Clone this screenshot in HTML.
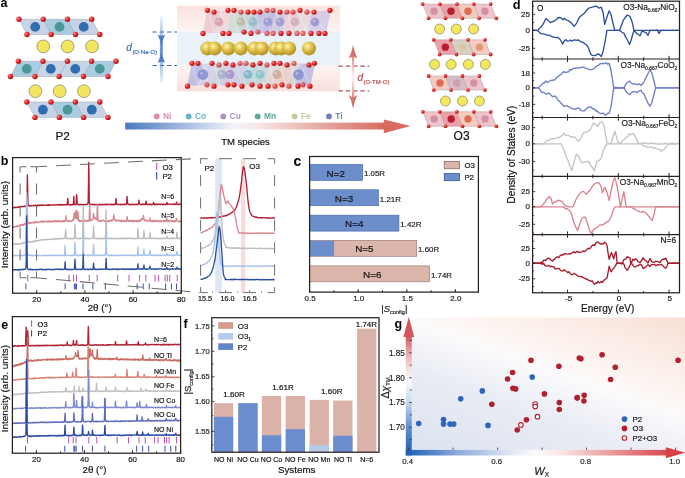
<!DOCTYPE html>
<html><head><meta charset="utf-8"><style>
html,body{margin:0;padding:0;background:#fff;width:685px;height:478px;overflow:hidden}
svg{display:block;will-change:transform}
text{font-family:"Liberation Sans", sans-serif}
</style></head><body>
<svg width="685" height="478" viewBox="0 0 685 478" font-family='"Liberation Sans", sans-serif'>
<defs>
<radialGradient id="gNa" cx="0.38" cy="0.35" r="0.7"><stop offset="0" stop-color="#fff6b0"/><stop offset="0.45" stop-color="#e0c048"/><stop offset="1" stop-color="#a88a20"/></radialGradient>
<radialGradient id="gO" cx="0.35" cy="0.35" r="0.7"><stop offset="0" stop-color="#ff8a8a"/><stop offset="0.5" stop-color="#e02828"/><stop offset="1" stop-color="#a81010"/></radialGradient>
<linearGradient id="gTMarrow" x1="0" y1="0" x2="1" y2="0"><stop offset="0" stop-color="#4a78c0"/><stop offset="0.42" stop-color="#f4f4fa"/><stop offset="0.52" stop-color="#f6e6e4"/><stop offset="1" stop-color="#d86a60"/></linearGradient>
<linearGradient id="gBoxPink" x1="0" y1="0" x2="0" y2="1"><stop offset="0" stop-color="#f9e2dd"/><stop offset="1" stop-color="#fdf4f2"/></linearGradient>
<linearGradient id="gBoxPink2" x1="0" y1="0" x2="0" y2="1"><stop offset="0" stop-color="#fdf4f2"/><stop offset="1" stop-color="#f9e0dc"/></linearGradient>
<linearGradient id="gBlueArrow" x1="0" y1="0" x2="0" y2="1"><stop offset="0" stop-color="#5a8ad0" stop-opacity="0.1"/><stop offset="0.5" stop-color="#5a8ad0" stop-opacity="0.9"/><stop offset="1" stop-color="#5a8ad0" stop-opacity="0.1"/></linearGradient>
<linearGradient id="gRedArrow" x1="0" y1="0" x2="0" y2="1"><stop offset="0" stop-color="#d67268"/><stop offset="0.45" stop-color="#fbeeec"/><stop offset="0.55" stop-color="#fbeeec"/><stop offset="1" stop-color="#d67268"/></linearGradient>
<linearGradient id="gGbg" gradientUnits="userSpaceOnUse" x1="506.8" y1="483.7" x2="579.3" y2="279.9"><stop offset="0" stop-color="#dce3f0"/><stop offset="0.35" stop-color="#e9ecf4"/><stop offset="0.56" stop-color="#fbfbfc"/><stop offset="0.6" stop-color="#fdf8f6"/><stop offset="1" stop-color="#f8e0d5"/></linearGradient>
<linearGradient id="gGx" x1="0" y1="0" x2="1" y2="0"><stop offset="0" stop-color="#1a5fb0"/><stop offset="0.2" stop-color="#8eaadc"/><stop offset="0.4" stop-color="#dfe6f4"/><stop offset="0.5" stop-color="#fbfbfc"/><stop offset="0.6" stop-color="#f8e4e0"/><stop offset="1" stop-color="#d84850"/></linearGradient>
<linearGradient id="gGy" x1="0" y1="1" x2="0" y2="0"><stop offset="0" stop-color="#1a5cb0"/><stop offset="0.24" stop-color="#6290d2"/><stop offset="0.45" stop-color="#c8d8f0"/><stop offset="0.62" stop-color="#fafbfd"/><stop offset="0.7" stop-color="#f8e8e8"/><stop offset="0.88" stop-color="#e8a0a0"/><stop offset="1" stop-color="#d85058"/></linearGradient>
</defs>
<rect width="685" height="478" fill="#fff"/>
<text x="0.60" y="6.80" font-size="12.5" text-anchor="start" font-weight="bold" fill="#000" >a</text>
<polygon points="19.00,19.30 43.30,19.30 51.20,34.50 27.00,34.50" fill="#c9d3e6" stroke="#9aa6b8" stroke-width="0.5" />
<polygon points="43.30,19.30 67.50,19.30 75.50,34.50 51.20,34.50" fill="#a9cce0" stroke="#9aa6b8" stroke-width="0.5" />
<polygon points="67.50,19.30 91.70,19.30 99.80,34.50 75.50,34.50" fill="#c9d3e6" stroke="#9aa6b8" stroke-width="0.5" />
<circle cx="35.20" cy="26.90" r="4.90" fill="#2f6fb0" stroke="none" stroke-width="0.5" />
<circle cx="59.50" cy="26.90" r="4.90" fill="#4a9898" stroke="none" stroke-width="0.5" />
<circle cx="83.70" cy="26.90" r="4.90" fill="#2f6fb0" stroke="none" stroke-width="0.5" />
<circle cx="19.00" cy="19.30" r="2.70" fill="url(#gO)" stroke="none" stroke-width="0.5" />
<circle cx="43.30" cy="19.30" r="2.70" fill="url(#gO)" stroke="none" stroke-width="0.5" />
<circle cx="67.50" cy="19.30" r="2.70" fill="url(#gO)" stroke="none" stroke-width="0.5" />
<circle cx="91.70" cy="19.30" r="2.70" fill="url(#gO)" stroke="none" stroke-width="0.5" />
<circle cx="27.00" cy="34.50" r="2.70" fill="url(#gO)" stroke="none" stroke-width="0.5" />
<circle cx="51.20" cy="34.50" r="2.70" fill="url(#gO)" stroke="none" stroke-width="0.5" />
<circle cx="75.50" cy="34.50" r="2.70" fill="url(#gO)" stroke="none" stroke-width="0.5" />
<circle cx="99.80" cy="34.50" r="2.70" fill="url(#gO)" stroke="none" stroke-width="0.5" />
<circle cx="43.30" cy="46.40" r="6.40" fill="#f2e660" stroke="#707060" stroke-width="0.6" />
<circle cx="67.60" cy="46.40" r="6.40" fill="#f2e660" stroke="#707060" stroke-width="0.6" />
<circle cx="92.00" cy="46.40" r="6.40" fill="#f2e660" stroke="#707060" stroke-width="0.6" />
<polygon points="18.40,61.30 43.00,61.30 35.00,76.50 10.50,76.50" fill="#a9cce0" stroke="#9aa6b8" stroke-width="0.5" />
<polygon points="43.00,61.30 67.40,61.30 59.20,76.50 35.00,76.50" fill="#c9d3e6" stroke="#9aa6b8" stroke-width="0.5" />
<polygon points="67.40,61.30 91.60,61.30 83.50,76.50 59.20,76.50" fill="#c9d3e6" stroke="#9aa6b8" stroke-width="0.5" />
<polygon points="91.60,61.30 116.00,61.30 108.00,76.50 83.50,76.50" fill="#a9cce0" stroke="#9aa6b8" stroke-width="0.5" />
<circle cx="26.80" cy="68.90" r="4.90" fill="#4a9898" stroke="none" stroke-width="0.5" />
<circle cx="50.80" cy="68.90" r="4.90" fill="#2f6fb0" stroke="none" stroke-width="0.5" />
<circle cx="75.30" cy="68.90" r="4.90" fill="#2f6fb0" stroke="none" stroke-width="0.5" />
<circle cx="99.80" cy="68.90" r="4.90" fill="#4a9898" stroke="none" stroke-width="0.5" />
<circle cx="18.40" cy="61.30" r="2.70" fill="url(#gO)" stroke="none" stroke-width="0.5" />
<circle cx="43.00" cy="61.30" r="2.70" fill="url(#gO)" stroke="none" stroke-width="0.5" />
<circle cx="67.40" cy="61.30" r="2.70" fill="url(#gO)" stroke="none" stroke-width="0.5" />
<circle cx="91.60" cy="61.30" r="2.70" fill="url(#gO)" stroke="none" stroke-width="0.5" />
<circle cx="116.00" cy="61.30" r="2.70" fill="url(#gO)" stroke="none" stroke-width="0.5" />
<circle cx="10.50" cy="76.50" r="2.70" fill="url(#gO)" stroke="none" stroke-width="0.5" />
<circle cx="35.00" cy="76.50" r="2.70" fill="url(#gO)" stroke="none" stroke-width="0.5" />
<circle cx="59.20" cy="76.50" r="2.70" fill="url(#gO)" stroke="none" stroke-width="0.5" />
<circle cx="83.50" cy="76.50" r="2.70" fill="url(#gO)" stroke="none" stroke-width="0.5" />
<circle cx="108.00" cy="76.50" r="2.70" fill="url(#gO)" stroke="none" stroke-width="0.5" />
<circle cx="35.40" cy="91.20" r="6.40" fill="#f2e660" stroke="#707060" stroke-width="0.6" />
<circle cx="59.70" cy="91.20" r="6.40" fill="#f2e660" stroke="#707060" stroke-width="0.6" />
<circle cx="83.90" cy="91.20" r="6.40" fill="#f2e660" stroke="#707060" stroke-width="0.6" />
<polygon points="26.80,102.00 51.00,102.00 59.40,117.40 35.00,117.40" fill="#c9d3e6" stroke="#9aa6b8" stroke-width="0.5" />
<polygon points="51.00,102.00 75.40,102.00 83.60,117.40 59.40,117.40" fill="#a9cce0" stroke="#9aa6b8" stroke-width="0.5" />
<polygon points="75.40,102.00 99.80,102.00 108.00,117.40 83.60,117.40" fill="#c9d3e6" stroke="#9aa6b8" stroke-width="0.5" />
<circle cx="42.90" cy="109.70" r="4.90" fill="#2f6fb0" stroke="none" stroke-width="0.5" />
<circle cx="67.60" cy="109.70" r="4.90" fill="#4a9898" stroke="none" stroke-width="0.5" />
<circle cx="91.80" cy="109.70" r="4.90" fill="#2f6fb0" stroke="none" stroke-width="0.5" />
<circle cx="26.80" cy="102.00" r="2.70" fill="url(#gO)" stroke="none" stroke-width="0.5" />
<circle cx="51.00" cy="102.00" r="2.70" fill="url(#gO)" stroke="none" stroke-width="0.5" />
<circle cx="75.40" cy="102.00" r="2.70" fill="url(#gO)" stroke="none" stroke-width="0.5" />
<circle cx="99.80" cy="102.00" r="2.70" fill="url(#gO)" stroke="none" stroke-width="0.5" />
<circle cx="35.00" cy="117.40" r="2.70" fill="url(#gO)" stroke="none" stroke-width="0.5" />
<circle cx="59.40" cy="117.40" r="2.70" fill="url(#gO)" stroke="none" stroke-width="0.5" />
<circle cx="83.60" cy="117.40" r="2.70" fill="url(#gO)" stroke="none" stroke-width="0.5" />
<circle cx="108.00" cy="117.40" r="2.70" fill="url(#gO)" stroke="none" stroke-width="0.5" />
<text x="62.60" y="140.10" font-size="11.8" text-anchor="middle" fill="#111" stroke="#111" stroke-width="0.18" >P2</text>
<polygon points="422.60,4.10 439.90,4.10 445.40,18.30 428.50,18.30" fill="#efc4ca" stroke="#a8a0a8" stroke-width="0.5" />
<polygon points="439.90,4.10 457.00,4.10 462.40,18.30 445.40,18.30" fill="#eba0a6" stroke="#a8a0a8" stroke-width="0.5" />
<polygon points="457.00,4.10 473.90,4.10 479.20,18.30 462.40,18.30" fill="#f5cbbf" stroke="#a8a0a8" stroke-width="0.5" />
<polygon points="473.90,4.10 490.70,4.10 496.30,18.30 479.20,18.30" fill="#efc4ca" stroke="#a8a0a8" stroke-width="0.5" />
<circle cx="434.00" cy="11.20" r="3.70" fill="#d490a6" stroke="none" stroke-width="0.5" />
<circle cx="451.00" cy="11.20" r="3.70" fill="#b81e30" stroke="none" stroke-width="0.5" />
<circle cx="468.00" cy="11.20" r="3.70" fill="#e06a52" stroke="none" stroke-width="0.5" />
<circle cx="485.00" cy="11.20" r="3.70" fill="#d490a6" stroke="none" stroke-width="0.5" />
<circle cx="422.60" cy="4.10" r="1.90" fill="url(#gO)" stroke="none" stroke-width="0.5" />
<circle cx="439.90" cy="4.10" r="1.90" fill="url(#gO)" stroke="none" stroke-width="0.5" />
<circle cx="457.00" cy="4.10" r="1.90" fill="url(#gO)" stroke="none" stroke-width="0.5" />
<circle cx="473.90" cy="4.10" r="1.90" fill="url(#gO)" stroke="none" stroke-width="0.5" />
<circle cx="490.70" cy="4.10" r="1.90" fill="url(#gO)" stroke="none" stroke-width="0.5" />
<circle cx="428.50" cy="18.30" r="1.90" fill="url(#gO)" stroke="none" stroke-width="0.5" />
<circle cx="445.40" cy="18.30" r="1.90" fill="url(#gO)" stroke="none" stroke-width="0.5" />
<circle cx="462.40" cy="18.30" r="1.90" fill="url(#gO)" stroke="none" stroke-width="0.5" />
<circle cx="479.20" cy="18.30" r="1.90" fill="url(#gO)" stroke="none" stroke-width="0.5" />
<circle cx="496.30" cy="18.30" r="1.90" fill="url(#gO)" stroke="none" stroke-width="0.5" />
<circle cx="439.60" cy="29.00" r="5.00" fill="#f3e85c" stroke="#707060" stroke-width="0.6" />
<circle cx="456.30" cy="29.00" r="5.00" fill="#f3e85c" stroke="#707060" stroke-width="0.6" />
<circle cx="473.60" cy="29.00" r="5.00" fill="#f3e85c" stroke="#707060" stroke-width="0.6" />
<polygon points="433.70,39.80 450.80,39.80 456.50,54.50 439.60,54.50" fill="#eba0a6" stroke="#a8a0a8" stroke-width="0.5" />
<polygon points="450.80,39.80 468.00,39.80 473.70,54.50 456.50,54.50" fill="#d9d0c2" stroke="#a8a0a8" stroke-width="0.5" />
<polygon points="468.00,39.80 485.00,39.80 490.70,54.50 473.70,54.50" fill="#f5cbbf" stroke="#a8a0a8" stroke-width="0.5" />
<circle cx="445.30" cy="47.15" r="3.70" fill="#b81e30" stroke="none" stroke-width="0.5" />
<circle cx="462.40" cy="47.15" r="3.70" fill="#d8c8a2" stroke="none" stroke-width="0.5" />
<circle cx="479.40" cy="47.15" r="3.70" fill="#e29a7c" stroke="none" stroke-width="0.5" />
<circle cx="433.70" cy="39.80" r="1.90" fill="url(#gO)" stroke="none" stroke-width="0.5" />
<circle cx="450.80" cy="39.80" r="1.90" fill="url(#gO)" stroke="none" stroke-width="0.5" />
<circle cx="468.00" cy="39.80" r="1.90" fill="url(#gO)" stroke="none" stroke-width="0.5" />
<circle cx="485.00" cy="39.80" r="1.90" fill="url(#gO)" stroke="none" stroke-width="0.5" />
<circle cx="439.60" cy="54.50" r="1.90" fill="url(#gO)" stroke="none" stroke-width="0.5" />
<circle cx="456.50" cy="54.50" r="1.90" fill="url(#gO)" stroke="none" stroke-width="0.5" />
<circle cx="473.70" cy="54.50" r="1.90" fill="url(#gO)" stroke="none" stroke-width="0.5" />
<circle cx="490.70" cy="54.50" r="1.90" fill="url(#gO)" stroke="none" stroke-width="0.5" />
<circle cx="434.50" cy="64.40" r="5.00" fill="#f3e85c" stroke="#707060" stroke-width="0.6" />
<circle cx="451.20" cy="64.40" r="5.00" fill="#f3e85c" stroke="#707060" stroke-width="0.6" />
<circle cx="468.40" cy="64.40" r="5.00" fill="#f3e85c" stroke="#707060" stroke-width="0.6" />
<circle cx="485.30" cy="64.40" r="5.00" fill="#f3e85c" stroke="#707060" stroke-width="0.6" />
<polygon points="428.60,76.00 445.50,76.00 451.00,90.10 433.80,90.10" fill="#f5cbbf" stroke="#a8a0a8" stroke-width="0.5" />
<polygon points="445.50,76.00 462.50,76.00 468.00,90.10 451.00,90.10" fill="#d8bcc4" stroke="#a8a0a8" stroke-width="0.5" />
<polygon points="462.50,76.00 479.40,76.00 485.00,90.10 468.00,90.10" fill="#efc4ca" stroke="#a8a0a8" stroke-width="0.5" />
<circle cx="440.00" cy="83.05" r="3.70" fill="#e06a52" stroke="none" stroke-width="0.5" />
<circle cx="456.80" cy="83.05" r="3.70" fill="#c8a0b0" stroke="none" stroke-width="0.5" />
<circle cx="473.80" cy="83.05" r="3.70" fill="#d490a6" stroke="none" stroke-width="0.5" />
<circle cx="428.60" cy="76.00" r="1.90" fill="url(#gO)" stroke="none" stroke-width="0.5" />
<circle cx="445.50" cy="76.00" r="1.90" fill="url(#gO)" stroke="none" stroke-width="0.5" />
<circle cx="462.50" cy="76.00" r="1.90" fill="url(#gO)" stroke="none" stroke-width="0.5" />
<circle cx="479.40" cy="76.00" r="1.90" fill="url(#gO)" stroke="none" stroke-width="0.5" />
<circle cx="433.80" cy="90.10" r="1.90" fill="url(#gO)" stroke="none" stroke-width="0.5" />
<circle cx="451.00" cy="90.10" r="1.90" fill="url(#gO)" stroke="none" stroke-width="0.5" />
<circle cx="468.00" cy="90.10" r="1.90" fill="url(#gO)" stroke="none" stroke-width="0.5" />
<circle cx="485.00" cy="90.10" r="1.90" fill="url(#gO)" stroke="none" stroke-width="0.5" />
<circle cx="445.50" cy="101.00" r="5.00" fill="#f3e85c" stroke="#707060" stroke-width="0.6" />
<circle cx="462.50" cy="101.00" r="5.00" fill="#f3e85c" stroke="#707060" stroke-width="0.6" />
<circle cx="479.40" cy="101.00" r="5.00" fill="#f3e85c" stroke="#707060" stroke-width="0.6" />
<polygon points="422.90,111.80 439.90,111.80 445.50,126.30 428.60,126.30" fill="#efc4ca" stroke="#a8a0a8" stroke-width="0.5" />
<polygon points="439.90,111.80 456.80,111.80 462.50,126.30 445.50,126.30" fill="#eba0a6" stroke="#a8a0a8" stroke-width="0.5" />
<polygon points="456.80,111.80 473.80,111.80 479.40,126.30 462.50,126.30" fill="#f5cbbf" stroke="#a8a0a8" stroke-width="0.5" />
<polygon points="473.80,111.80 490.70,111.80 496.40,126.30 479.40,126.30" fill="#efc4ca" stroke="#a8a0a8" stroke-width="0.5" />
<circle cx="434.20" cy="119.05" r="3.70" fill="#d490a6" stroke="none" stroke-width="0.5" />
<circle cx="451.20" cy="119.05" r="3.70" fill="#b81e30" stroke="none" stroke-width="0.5" />
<circle cx="468.00" cy="119.05" r="3.70" fill="#e06a52" stroke="none" stroke-width="0.5" />
<circle cx="485.00" cy="119.05" r="3.70" fill="#d490a6" stroke="none" stroke-width="0.5" />
<circle cx="422.90" cy="111.80" r="1.90" fill="url(#gO)" stroke="none" stroke-width="0.5" />
<circle cx="439.90" cy="111.80" r="1.90" fill="url(#gO)" stroke="none" stroke-width="0.5" />
<circle cx="456.80" cy="111.80" r="1.90" fill="url(#gO)" stroke="none" stroke-width="0.5" />
<circle cx="473.80" cy="111.80" r="1.90" fill="url(#gO)" stroke="none" stroke-width="0.5" />
<circle cx="490.70" cy="111.80" r="1.90" fill="url(#gO)" stroke="none" stroke-width="0.5" />
<circle cx="428.60" cy="126.30" r="1.90" fill="url(#gO)" stroke="none" stroke-width="0.5" />
<circle cx="445.50" cy="126.30" r="1.90" fill="url(#gO)" stroke="none" stroke-width="0.5" />
<circle cx="462.50" cy="126.30" r="1.90" fill="url(#gO)" stroke="none" stroke-width="0.5" />
<circle cx="479.40" cy="126.30" r="1.90" fill="url(#gO)" stroke="none" stroke-width="0.5" />
<circle cx="496.40" cy="126.30" r="1.90" fill="url(#gO)" stroke="none" stroke-width="0.5" />
<text x="461.60" y="140.30" font-size="12" text-anchor="middle" fill="#111" stroke="#111" stroke-width="0.18" >O3</text>
<rect x="177.00" y="5.70" width="163.00" height="25.80" fill="url(#gBoxPink)" stroke="none" stroke-width="1" />
<rect x="177.00" y="31.50" width="163.00" height="33.50" fill="#e9f2f8" stroke="none" stroke-width="1" />
<rect x="177.00" y="65.00" width="163.00" height="26.30" fill="url(#gBoxPink2)" stroke="none" stroke-width="1" />
<polygon points="207.50,11.00 220.00,11.00 215.00,33.00 202.50,33.00" fill="#e2b4c0" stroke="none" stroke-width="0.5" fill-opacity="0.6"/>
<polygon points="220.00,11.00 232.00,11.00 227.00,33.00 215.00,33.00" fill="#e6c4cc" stroke="none" stroke-width="0.5" fill-opacity="0.55"/>
<polygon points="232.00,11.00 243.00,11.00 238.00,33.00 227.00,33.00" fill="#b4cfc4" stroke="none" stroke-width="0.5" fill-opacity="0.6"/>
<polygon points="243.00,11.00 254.00,11.00 249.00,33.00 238.00,33.00" fill="#a8c8d0" stroke="none" stroke-width="0.5" fill-opacity="0.6"/>
<polygon points="254.00,11.00 265.00,11.00 260.00,33.00 249.00,33.00" fill="#aab2dc" stroke="none" stroke-width="0.5" fill-opacity="0.65"/>
<polygon points="265.00,11.00 276.00,11.00 271.00,33.00 260.00,33.00" fill="#a4a8dc" stroke="none" stroke-width="0.5" fill-opacity="0.65"/>
<polygon points="276.00,11.00 287.00,11.00 282.00,33.00 271.00,33.00" fill="#b8b4dc" stroke="none" stroke-width="0.5" fill-opacity="0.6"/>
<polygon points="287.00,11.00 298.00,11.00 293.00,33.00 282.00,33.00" fill="#dcbcc8" stroke="none" stroke-width="0.5" fill-opacity="0.55"/>
<polygon points="298.00,11.00 312.00,11.00 307.00,33.00 293.00,33.00" fill="#d8c8d8" stroke="none" stroke-width="0.5" fill-opacity="0.5"/>
<polygon points="312.00,11.00 331.00,11.00 326.00,33.00 307.00,33.00" fill="#c4bce4" stroke="none" stroke-width="0.5" fill-opacity="0.65"/>
<line x1="207.50" y1="11.00" x2="215.00" y2="33.00" stroke="#ffffff" stroke-width="0.5" stroke-opacity="0.7"/>
<line x1="202.50" y1="33.00" x2="213.75" y2="11.00" stroke="#ffffff" stroke-width="0.4" stroke-opacity="0.5"/>
<line x1="220.00" y1="11.00" x2="227.00" y2="33.00" stroke="#ffffff" stroke-width="0.5" stroke-opacity="0.7"/>
<line x1="215.00" y1="33.00" x2="226.00" y2="11.00" stroke="#ffffff" stroke-width="0.4" stroke-opacity="0.5"/>
<line x1="232.00" y1="11.00" x2="238.00" y2="33.00" stroke="#ffffff" stroke-width="0.5" stroke-opacity="0.7"/>
<line x1="227.00" y1="33.00" x2="237.50" y2="11.00" stroke="#ffffff" stroke-width="0.4" stroke-opacity="0.5"/>
<line x1="243.00" y1="11.00" x2="249.00" y2="33.00" stroke="#ffffff" stroke-width="0.5" stroke-opacity="0.7"/>
<line x1="238.00" y1="33.00" x2="248.50" y2="11.00" stroke="#ffffff" stroke-width="0.4" stroke-opacity="0.5"/>
<line x1="254.00" y1="11.00" x2="260.00" y2="33.00" stroke="#ffffff" stroke-width="0.5" stroke-opacity="0.7"/>
<line x1="249.00" y1="33.00" x2="259.50" y2="11.00" stroke="#ffffff" stroke-width="0.4" stroke-opacity="0.5"/>
<line x1="265.00" y1="11.00" x2="271.00" y2="33.00" stroke="#ffffff" stroke-width="0.5" stroke-opacity="0.7"/>
<line x1="260.00" y1="33.00" x2="270.50" y2="11.00" stroke="#ffffff" stroke-width="0.4" stroke-opacity="0.5"/>
<line x1="276.00" y1="11.00" x2="282.00" y2="33.00" stroke="#ffffff" stroke-width="0.5" stroke-opacity="0.7"/>
<line x1="271.00" y1="33.00" x2="281.50" y2="11.00" stroke="#ffffff" stroke-width="0.4" stroke-opacity="0.5"/>
<line x1="287.00" y1="11.00" x2="293.00" y2="33.00" stroke="#ffffff" stroke-width="0.5" stroke-opacity="0.7"/>
<line x1="282.00" y1="33.00" x2="292.50" y2="11.00" stroke="#ffffff" stroke-width="0.4" stroke-opacity="0.5"/>
<line x1="298.00" y1="11.00" x2="307.00" y2="33.00" stroke="#ffffff" stroke-width="0.5" stroke-opacity="0.7"/>
<line x1="293.00" y1="33.00" x2="305.00" y2="11.00" stroke="#ffffff" stroke-width="0.4" stroke-opacity="0.5"/>
<line x1="312.00" y1="11.00" x2="326.00" y2="33.00" stroke="#ffffff" stroke-width="0.5" stroke-opacity="0.7"/>
<line x1="307.00" y1="33.00" x2="321.50" y2="11.00" stroke="#ffffff" stroke-width="0.4" stroke-opacity="0.5"/>
<circle cx="219.00" cy="22.00" r="4.40" fill="#d490a8" stroke="none" stroke-width="0.5" fill-opacity="0.7"/>
<circle cx="217.80" cy="20.80" r="1.30" fill="#ffffff" stroke="none" stroke-width="0.5" fill-opacity="0.35"/>
<circle cx="241.00" cy="22.00" r="4.40" fill="#b8b490" stroke="none" stroke-width="0.5" fill-opacity="0.7"/>
<circle cx="239.80" cy="20.80" r="1.30" fill="#ffffff" stroke="none" stroke-width="0.5" fill-opacity="0.35"/>
<circle cx="253.00" cy="22.00" r="4.40" fill="#84b8c0" stroke="none" stroke-width="0.5" fill-opacity="0.7"/>
<circle cx="251.80" cy="20.80" r="1.30" fill="#ffffff" stroke="none" stroke-width="0.5" fill-opacity="0.35"/>
<circle cx="268.00" cy="22.00" r="4.40" fill="#9090d0" stroke="none" stroke-width="0.5" fill-opacity="0.7"/>
<circle cx="266.80" cy="20.80" r="1.30" fill="#ffffff" stroke="none" stroke-width="0.5" fill-opacity="0.35"/>
<circle cx="280.00" cy="22.00" r="4.40" fill="#8c8cc8" stroke="none" stroke-width="0.5" fill-opacity="0.7"/>
<circle cx="278.80" cy="20.80" r="1.30" fill="#ffffff" stroke="none" stroke-width="0.5" fill-opacity="0.35"/>
<circle cx="295.00" cy="22.00" r="4.40" fill="#c8a4b0" stroke="none" stroke-width="0.5" fill-opacity="0.7"/>
<circle cx="293.80" cy="20.80" r="1.30" fill="#ffffff" stroke="none" stroke-width="0.5" fill-opacity="0.35"/>
<circle cx="315.00" cy="22.00" r="4.40" fill="#8a84c8" stroke="none" stroke-width="0.5" fill-opacity="0.7"/>
<circle cx="313.80" cy="20.80" r="1.30" fill="#ffffff" stroke="none" stroke-width="0.5" fill-opacity="0.35"/>
<circle cx="207.50" cy="10.30" r="2.60" fill="url(#gO)" stroke="none" stroke-width="0.5" />
<circle cx="214.00" cy="12.10" r="2.60" fill="url(#gO)" stroke="none" stroke-width="0.5" />
<circle cx="228.00" cy="10.30" r="2.60" fill="url(#gO)" stroke="none" stroke-width="0.5" />
<circle cx="234.00" cy="10.30" r="2.60" fill="url(#gO)" stroke="none" stroke-width="0.5" />
<circle cx="241.00" cy="12.10" r="2.60" fill="url(#gO)" stroke="none" stroke-width="0.5" opacity="0.75"/>
<circle cx="248.00" cy="12.10" r="2.60" fill="url(#gO)" stroke="none" stroke-width="0.5" />
<circle cx="254.00" cy="12.10" r="2.60" fill="url(#gO)" stroke="none" stroke-width="0.5" />
<circle cx="260.00" cy="12.10" r="2.60" fill="url(#gO)" stroke="none" stroke-width="0.5" />
<circle cx="267.00" cy="10.30" r="2.60" fill="url(#gO)" stroke="none" stroke-width="0.5" opacity="0.75"/>
<circle cx="273.00" cy="10.30" r="2.60" fill="url(#gO)" stroke="none" stroke-width="0.5" opacity="0.75"/>
<circle cx="280.00" cy="12.10" r="2.60" fill="url(#gO)" stroke="none" stroke-width="0.5" />
<circle cx="287.00" cy="12.10" r="2.60" fill="url(#gO)" stroke="none" stroke-width="0.5" opacity="0.75"/>
<circle cx="293.00" cy="12.10" r="2.60" fill="url(#gO)" stroke="none" stroke-width="0.5" opacity="0.75"/>
<circle cx="300.00" cy="10.30" r="2.60" fill="url(#gO)" stroke="none" stroke-width="0.5" />
<circle cx="307.00" cy="12.10" r="2.60" fill="url(#gO)" stroke="none" stroke-width="0.5" opacity="0.75"/>
<circle cx="314.00" cy="12.10" r="2.60" fill="url(#gO)" stroke="none" stroke-width="0.5" />
<circle cx="330.00" cy="10.30" r="2.60" fill="url(#gO)" stroke="none" stroke-width="0.5" />
<circle cx="203.00" cy="33.40" r="2.60" fill="url(#gO)" stroke="none" stroke-width="0.5" />
<circle cx="223.00" cy="33.40" r="2.60" fill="url(#gO)" stroke="none" stroke-width="0.5" />
<circle cx="229.00" cy="33.40" r="2.60" fill="url(#gO)" stroke="none" stroke-width="0.5" />
<circle cx="244.00" cy="32.00" r="2.60" fill="url(#gO)" stroke="none" stroke-width="0.5" />
<circle cx="251.00" cy="33.40" r="2.60" fill="url(#gO)" stroke="none" stroke-width="0.5" />
<circle cx="258.00" cy="32.00" r="2.60" fill="url(#gO)" stroke="none" stroke-width="0.5" opacity="0.7"/>
<circle cx="267.00" cy="33.40" r="2.60" fill="url(#gO)" stroke="none" stroke-width="0.5" opacity="0.7"/>
<circle cx="273.00" cy="33.40" r="2.60" fill="url(#gO)" stroke="none" stroke-width="0.5" opacity="0.7"/>
<circle cx="281.00" cy="33.40" r="2.60" fill="url(#gO)" stroke="none" stroke-width="0.5" />
<circle cx="289.00" cy="33.40" r="2.60" fill="url(#gO)" stroke="none" stroke-width="0.5" />
<circle cx="297.00" cy="33.40" r="2.60" fill="url(#gO)" stroke="none" stroke-width="0.5" opacity="0.7"/>
<circle cx="303.00" cy="33.40" r="2.60" fill="url(#gO)" stroke="none" stroke-width="0.5" opacity="0.7"/>
<circle cx="311.00" cy="33.40" r="2.60" fill="url(#gO)" stroke="none" stroke-width="0.5" />
<circle cx="319.00" cy="33.40" r="2.60" fill="url(#gO)" stroke="none" stroke-width="0.5" />
<circle cx="325.00" cy="33.40" r="2.60" fill="url(#gO)" stroke="none" stroke-width="0.5" />
<circle cx="207.30" cy="48.40" r="7.00" fill="url(#gNa)" stroke="none" stroke-width="0.5" />
<circle cx="214.70" cy="48.40" r="7.00" fill="url(#gNa)" stroke="none" stroke-width="0.5" />
<circle cx="228.30" cy="48.40" r="7.00" fill="url(#gNa)" stroke="none" stroke-width="0.5" />
<circle cx="240.80" cy="48.40" r="7.00" fill="url(#gNa)" stroke="none" stroke-width="0.5" />
<circle cx="254.40" cy="48.40" r="7.00" fill="url(#gNa)" stroke="none" stroke-width="0.5" />
<circle cx="261.80" cy="48.40" r="7.00" fill="url(#gNa)" stroke="none" stroke-width="0.5" />
<circle cx="275.50" cy="48.40" r="7.00" fill="url(#gNa)" stroke="none" stroke-width="0.5" />
<circle cx="281.20" cy="48.40" r="7.00" fill="url(#gNa)" stroke="none" stroke-width="0.5" />
<circle cx="289.10" cy="48.40" r="7.00" fill="url(#gNa)" stroke="none" stroke-width="0.5" />
<circle cx="309.00" cy="48.40" r="7.00" fill="url(#gNa)" stroke="none" stroke-width="0.5" />
<polygon points="192.00,63.80 203.00,63.80 198.00,85.60 187.00,85.60" fill="#aab0e2" stroke="none" stroke-width="0.5" fill-opacity="0.75"/>
<polygon points="203.00,63.80 214.00,63.80 209.00,85.60 198.00,85.60" fill="#bcc0e6" stroke="none" stroke-width="0.5" fill-opacity="0.6"/>
<polygon points="214.00,63.80 225.00,63.80 220.00,85.60 209.00,85.60" fill="#b4c4d8" stroke="none" stroke-width="0.5" fill-opacity="0.6"/>
<polygon points="225.00,63.80 236.00,63.80 231.00,85.60 220.00,85.60" fill="#b8b4dc" stroke="none" stroke-width="0.5" fill-opacity="0.6"/>
<polygon points="236.00,63.80 247.00,63.80 242.00,85.60 231.00,85.60" fill="#b0bce0" stroke="none" stroke-width="0.5" fill-opacity="0.6"/>
<polygon points="247.00,63.80 258.00,63.80 253.00,85.60 242.00,85.60" fill="#a4d0dc" stroke="none" stroke-width="0.5" fill-opacity="0.65"/>
<polygon points="258.00,63.80 269.00,63.80 264.00,85.60 253.00,85.60" fill="#a8ccd0" stroke="none" stroke-width="0.5" fill-opacity="0.6"/>
<polygon points="269.00,63.80 280.00,63.80 275.00,85.60 264.00,85.60" fill="#c8c4c4" stroke="none" stroke-width="0.5" fill-opacity="0.5"/>
<polygon points="280.00,63.80 291.00,63.80 286.00,85.60 275.00,85.60" fill="#dcc0b4" stroke="none" stroke-width="0.5" fill-opacity="0.6"/>
<polygon points="291.00,63.80 300.00,63.80 295.00,85.60 286.00,85.60" fill="#c8bcc0" stroke="none" stroke-width="0.5" fill-opacity="0.5"/>
<polygon points="300.00,63.80 315.20,63.80 310.20,85.60 295.00,85.60" fill="#b0b2e2" stroke="none" stroke-width="0.5" fill-opacity="0.75"/>
<line x1="192.00" y1="63.80" x2="198.00" y2="85.60" stroke="#ffffff" stroke-width="0.5" stroke-opacity="0.7"/>
<line x1="187.00" y1="85.60" x2="197.50" y2="63.80" stroke="#ffffff" stroke-width="0.4" stroke-opacity="0.5"/>
<line x1="203.00" y1="63.80" x2="209.00" y2="85.60" stroke="#ffffff" stroke-width="0.5" stroke-opacity="0.7"/>
<line x1="198.00" y1="85.60" x2="208.50" y2="63.80" stroke="#ffffff" stroke-width="0.4" stroke-opacity="0.5"/>
<line x1="214.00" y1="63.80" x2="220.00" y2="85.60" stroke="#ffffff" stroke-width="0.5" stroke-opacity="0.7"/>
<line x1="209.00" y1="85.60" x2="219.50" y2="63.80" stroke="#ffffff" stroke-width="0.4" stroke-opacity="0.5"/>
<line x1="225.00" y1="63.80" x2="231.00" y2="85.60" stroke="#ffffff" stroke-width="0.5" stroke-opacity="0.7"/>
<line x1="220.00" y1="85.60" x2="230.50" y2="63.80" stroke="#ffffff" stroke-width="0.4" stroke-opacity="0.5"/>
<line x1="236.00" y1="63.80" x2="242.00" y2="85.60" stroke="#ffffff" stroke-width="0.5" stroke-opacity="0.7"/>
<line x1="231.00" y1="85.60" x2="241.50" y2="63.80" stroke="#ffffff" stroke-width="0.4" stroke-opacity="0.5"/>
<line x1="247.00" y1="63.80" x2="253.00" y2="85.60" stroke="#ffffff" stroke-width="0.5" stroke-opacity="0.7"/>
<line x1="242.00" y1="85.60" x2="252.50" y2="63.80" stroke="#ffffff" stroke-width="0.4" stroke-opacity="0.5"/>
<line x1="258.00" y1="63.80" x2="264.00" y2="85.60" stroke="#ffffff" stroke-width="0.5" stroke-opacity="0.7"/>
<line x1="253.00" y1="85.60" x2="263.50" y2="63.80" stroke="#ffffff" stroke-width="0.4" stroke-opacity="0.5"/>
<line x1="269.00" y1="63.80" x2="275.00" y2="85.60" stroke="#ffffff" stroke-width="0.5" stroke-opacity="0.7"/>
<line x1="264.00" y1="85.60" x2="274.50" y2="63.80" stroke="#ffffff" stroke-width="0.4" stroke-opacity="0.5"/>
<line x1="280.00" y1="63.80" x2="286.00" y2="85.60" stroke="#ffffff" stroke-width="0.5" stroke-opacity="0.7"/>
<line x1="275.00" y1="85.60" x2="285.50" y2="63.80" stroke="#ffffff" stroke-width="0.4" stroke-opacity="0.5"/>
<line x1="291.00" y1="63.80" x2="295.00" y2="85.60" stroke="#ffffff" stroke-width="0.5" stroke-opacity="0.7"/>
<line x1="286.00" y1="85.60" x2="295.50" y2="63.80" stroke="#ffffff" stroke-width="0.4" stroke-opacity="0.5"/>
<line x1="300.00" y1="63.80" x2="310.20" y2="85.60" stroke="#ffffff" stroke-width="0.5" stroke-opacity="0.7"/>
<line x1="295.00" y1="85.60" x2="307.60" y2="63.80" stroke="#ffffff" stroke-width="0.4" stroke-opacity="0.5"/>
<circle cx="202.90" cy="74.60" r="5.30" fill="#8088d0" stroke="none" stroke-width="0.5" fill-opacity="0.8"/>
<circle cx="201.60" cy="73.30" r="1.40" fill="#ffffff" stroke="none" stroke-width="0.5" fill-opacity="0.35"/>
<circle cx="222.00" cy="74.60" r="4.50" fill="#a0acc8" stroke="none" stroke-width="0.5" fill-opacity="0.8"/>
<circle cx="220.70" cy="73.30" r="1.40" fill="#ffffff" stroke="none" stroke-width="0.5" fill-opacity="0.35"/>
<circle cx="230.00" cy="74.60" r="4.50" fill="#a08cc8" stroke="none" stroke-width="0.5" fill-opacity="0.8"/>
<circle cx="228.70" cy="73.30" r="1.40" fill="#ffffff" stroke="none" stroke-width="0.5" fill-opacity="0.35"/>
<circle cx="248.00" cy="74.60" r="4.50" fill="#74b0c4" stroke="none" stroke-width="0.5" fill-opacity="0.8"/>
<circle cx="246.70" cy="73.30" r="1.40" fill="#ffffff" stroke="none" stroke-width="0.5" fill-opacity="0.35"/>
<circle cx="260.00" cy="74.60" r="4.50" fill="#84c0cc" stroke="none" stroke-width="0.5" fill-opacity="0.8"/>
<circle cx="258.70" cy="73.30" r="1.40" fill="#ffffff" stroke="none" stroke-width="0.5" fill-opacity="0.35"/>
<circle cx="277.00" cy="74.60" r="4.50" fill="#c8a494" stroke="none" stroke-width="0.5" fill-opacity="0.8"/>
<circle cx="275.70" cy="73.30" r="1.40" fill="#ffffff" stroke="none" stroke-width="0.5" fill-opacity="0.35"/>
<circle cx="298.40" cy="74.60" r="5.30" fill="#8088d0" stroke="none" stroke-width="0.5" fill-opacity="0.8"/>
<circle cx="297.10" cy="73.30" r="1.40" fill="#ffffff" stroke="none" stroke-width="0.5" fill-opacity="0.35"/>
<circle cx="192.00" cy="63.30" r="2.60" fill="url(#gO)" stroke="none" stroke-width="0.5" />
<circle cx="198.00" cy="63.30" r="2.60" fill="url(#gO)" stroke="none" stroke-width="0.5" />
<circle cx="212.00" cy="63.30" r="2.60" fill="url(#gO)" stroke="none" stroke-width="0.5" />
<circle cx="219.00" cy="64.90" r="2.60" fill="url(#gO)" stroke="none" stroke-width="0.5" opacity="0.7"/>
<circle cx="226.00" cy="63.30" r="2.60" fill="url(#gO)" stroke="none" stroke-width="0.5" />
<circle cx="233.00" cy="64.90" r="2.60" fill="url(#gO)" stroke="none" stroke-width="0.5" />
<circle cx="240.00" cy="63.30" r="2.60" fill="url(#gO)" stroke="none" stroke-width="0.5" opacity="0.7"/>
<circle cx="246.00" cy="63.30" r="2.60" fill="url(#gO)" stroke="none" stroke-width="0.5" opacity="0.7"/>
<circle cx="253.00" cy="64.90" r="2.60" fill="url(#gO)" stroke="none" stroke-width="0.5" />
<circle cx="260.00" cy="63.30" r="2.60" fill="url(#gO)" stroke="none" stroke-width="0.5" />
<circle cx="267.00" cy="64.90" r="2.60" fill="url(#gO)" stroke="none" stroke-width="0.5" opacity="0.7"/>
<circle cx="274.00" cy="63.30" r="2.60" fill="url(#gO)" stroke="none" stroke-width="0.5" />
<circle cx="280.00" cy="63.30" r="2.60" fill="url(#gO)" stroke="none" stroke-width="0.5" />
<circle cx="287.00" cy="64.90" r="2.60" fill="url(#gO)" stroke="none" stroke-width="0.5" />
<circle cx="294.00" cy="63.30" r="2.60" fill="url(#gO)" stroke="none" stroke-width="0.5" opacity="0.7"/>
<circle cx="309.00" cy="64.90" r="2.60" fill="url(#gO)" stroke="none" stroke-width="0.5" />
<circle cx="314.50" cy="63.30" r="2.60" fill="url(#gO)" stroke="none" stroke-width="0.5" />
<circle cx="187.50" cy="86.20" r="2.60" fill="url(#gO)" stroke="none" stroke-width="0.5" />
<circle cx="207.00" cy="84.80" r="2.60" fill="url(#gO)" stroke="none" stroke-width="0.5" opacity="0.75"/>
<circle cx="214.00" cy="86.20" r="2.60" fill="url(#gO)" stroke="none" stroke-width="0.5" />
<circle cx="228.00" cy="84.80" r="2.60" fill="url(#gO)" stroke="none" stroke-width="0.5" />
<circle cx="234.00" cy="84.80" r="2.60" fill="url(#gO)" stroke="none" stroke-width="0.5" />
<circle cx="242.00" cy="86.20" r="2.60" fill="url(#gO)" stroke="none" stroke-width="0.5" />
<circle cx="252.00" cy="84.80" r="2.60" fill="url(#gO)" stroke="none" stroke-width="0.5" />
<circle cx="260.00" cy="86.20" r="2.60" fill="url(#gO)" stroke="none" stroke-width="0.5" />
<circle cx="268.00" cy="86.20" r="2.60" fill="url(#gO)" stroke="none" stroke-width="0.5" />
<circle cx="275.00" cy="86.20" r="2.60" fill="url(#gO)" stroke="none" stroke-width="0.5" opacity="0.75"/>
<circle cx="282.00" cy="84.80" r="2.60" fill="url(#gO)" stroke="none" stroke-width="0.5" />
<circle cx="289.00" cy="86.20" r="2.60" fill="url(#gO)" stroke="none" stroke-width="0.5" opacity="0.75"/>
<circle cx="298.00" cy="86.20" r="2.60" fill="url(#gO)" stroke="none" stroke-width="0.5" />
<circle cx="303.00" cy="84.80" r="2.60" fill="url(#gO)" stroke="none" stroke-width="0.5" opacity="0.75"/>
<circle cx="310.00" cy="86.20" r="2.60" fill="url(#gO)" stroke="none" stroke-width="0.5" />
<line x1="152.40" y1="32.00" x2="177.00" y2="32.00" stroke="#3a6cb0" stroke-width="1.0" stroke-dasharray="4.5,2.8"/>
<line x1="152.40" y1="65.50" x2="177.00" y2="65.50" stroke="#3a6cb0" stroke-width="1.0" stroke-dasharray="4.5,2.8"/>
<rect x="159.90" y="16.70" width="3.00" height="66.00" fill="url(#gBlueArrow)" stroke="none" stroke-width="1" />
<path d="M157.7,34.5 Q161.4,37 165.1,34.5 Q162.2,40 161.4,47.9 Q160.6,40 157.7,34.5 Z" fill="#4a7cc4"/>
<path d="M157.7,62.8 Q161.4,60.5 165.1,62.8 Q162.2,57.5 161.4,51.1 Q160.6,57.5 157.7,62.8 Z" fill="#4a7cc4"/>
<text x="126.30" y="50.50" font-size="10" text-anchor="start" font-style="italic" fill="#3a6cb4" stroke="#3a6cb4" stroke-width="0.18" >d</text>
<text x="132.40" y="53.80" font-size="5.9" text-anchor="start" fill="#3a6cb4" stroke="#3a6cb4" stroke-width="0.18" >(O-Na-O)</text>
<line x1="338.40" y1="66.10" x2="369.30" y2="66.10" stroke="#9a2c3c" stroke-width="1.0" stroke-dasharray="4.5,2.8"/>
<line x1="338.40" y1="90.90" x2="369.30" y2="90.90" stroke="#9a2c3c" stroke-width="1.0" stroke-dasharray="4.5,2.8"/>
<rect x="352.00" y="52.00" width="2.20" height="50.00" fill="url(#gRedArrow)" stroke="none" stroke-width="1" />
<path d="M353.1,44.8 Q354.5,53 357.4,58.6 Q355,56.6 353.1,56.4 Q351.2,56.6 348.8,58.6 Q351.7,53 353.1,44.8 Z" fill="#d67268"/>
<path d="M353.1,108.8 Q354.5,100.6 357.4,95 Q355,97 353.1,97.2 Q351.2,97 348.8,95 Q351.7,100.6 353.1,108.8 Z" fill="#d67268"/>
<text x="357.60" y="81.20" font-size="10" text-anchor="start" font-style="italic" fill="#b84848" stroke="#b84848" stroke-width="0.18" >d</text>
<text x="363.40" y="84.30" font-size="6.0" text-anchor="start" fill="#b84848" stroke="#b84848" stroke-width="0.18" >(O-TM-O)</text>
<circle cx="156.70" cy="116.40" r="2.90" fill="#d890a0" stroke="none" stroke-width="0.5" />
<text x="163.00" y="119.30" font-size="8.4" text-anchor="start" font-weight="bold" fill="#d890a0" >Ni</text>
<circle cx="188.70" cy="116.40" r="2.90" fill="#6ab4c0" stroke="none" stroke-width="0.5" />
<text x="195.00" y="119.30" font-size="8.4" text-anchor="start" font-weight="bold" fill="#6ab4c0" >Co</text>
<circle cx="223.30" cy="116.40" r="2.90" fill="#b090c8" stroke="none" stroke-width="0.5" />
<text x="229.60" y="119.30" font-size="8.4" text-anchor="start" font-weight="bold" fill="#b090c8" >Cu</text>
<circle cx="257.70" cy="116.40" r="2.90" fill="#60a898" stroke="none" stroke-width="0.5" />
<text x="264.00" y="119.30" font-size="8.4" text-anchor="start" font-weight="bold" fill="#60a898" >Mn</text>
<circle cx="294.60" cy="116.40" r="2.90" fill="#c8c8a0" stroke="none" stroke-width="0.5" />
<text x="300.90" y="119.30" font-size="8.4" text-anchor="start" font-weight="bold" fill="#c8c8a0" >Fe</text>
<circle cx="329.00" cy="116.40" r="2.90" fill="#7080c0" stroke="none" stroke-width="0.5" />
<text x="335.30" y="119.30" font-size="8.4" text-anchor="start" font-weight="bold" fill="#7080c0" >Ti</text>
<rect x="125.20" y="122.60" width="259.00" height="6.90" fill="url(#gTMarrow)" stroke="none" stroke-width="1" />
<polygon points="383.80,119.40 410.50,126.10 383.80,133.20" fill="#d86a60" stroke="none" stroke-width="0.5" />
<text x="245.50" y="145.00" font-size="9.5" text-anchor="middle" fill="#111" stroke="#111" stroke-width="0.18" >TM species</text>
<text x="0.80" y="165.20" font-size="12.5" text-anchor="start" font-weight="bold" fill="#000" >b</text>
<polyline points="12.60,208.10 12.95,207.58 13.30,207.66 13.65,207.76 14.00,207.53 14.35,207.60 14.70,207.23 15.05,207.45 15.40,207.45 15.75,207.07 16.10,207.11 16.45,207.65 16.80,207.47 17.15,207.54 17.50,207.28 17.85,207.36 18.20,207.37 18.55,207.32 18.90,206.68 19.25,207.06 19.60,206.76 19.95,207.00 20.30,206.67 20.65,206.82 21.00,207.04 21.35,206.78 21.70,206.48 22.05,206.62 22.40,206.52 22.75,206.85 23.10,206.36 23.45,206.34 23.80,206.54 24.15,206.14 24.50,206.43 24.85,206.64 25.20,206.28 25.55,206.04 25.90,206.09 26.25,205.99 26.60,205.38 26.95,201.69 27.30,179.36 27.42,175.03 27.65,187.71 28.00,203.98 28.35,205.44 28.70,205.52 29.05,205.91 29.40,206.13 29.75,205.97 30.10,205.94 30.45,205.98 30.80,205.64 31.15,205.98 31.50,205.78 31.85,205.81 32.20,205.83 32.55,205.71 32.90,205.57 33.25,205.49 33.60,205.45 33.95,205.63 34.30,205.51 34.65,205.62 35.00,205.19 35.35,205.40 35.70,205.73 36.05,205.26 36.40,205.46 36.75,205.39 37.10,205.23 37.45,205.71 37.80,205.22 38.15,205.54 38.50,205.10 38.85,205.03 39.20,205.58 39.55,205.27 39.90,205.00 40.25,205.22 40.60,205.24 40.95,205.44 41.30,204.99 41.65,205.06 42.00,205.56 42.35,205.40 42.70,204.98 43.05,205.10 43.40,205.10 43.75,205.32 44.10,205.26 44.45,205.42 44.80,205.39 45.15,205.16 45.50,205.31 45.85,205.30 46.20,205.30 46.55,205.09 46.90,205.30 47.25,205.24 47.60,205.37 47.95,204.81 48.30,205.32 48.65,204.70 49.00,205.23 49.35,205.09 49.70,205.02 50.05,205.33 50.40,205.05 50.75,204.93 51.10,205.18 51.45,205.23 51.80,205.03 52.15,204.87 52.50,204.91 52.85,204.90 53.20,205.08 53.55,204.76 53.90,204.82 54.25,204.93 54.60,204.80 54.95,204.74 55.30,205.06 55.65,205.09 56.00,204.84 56.35,204.79 56.70,204.60 57.05,204.67 57.40,204.55 57.75,204.84 58.10,204.83 58.45,204.48 58.80,205.05 59.15,204.62 59.50,204.98 59.85,204.96 60.20,205.04 60.55,204.50 60.90,204.64 61.25,204.98 61.60,204.35 61.95,204.38 62.30,204.74 62.65,204.69 63.00,204.98 63.35,204.88 63.70,204.71 64.05,205.03 64.40,204.69 64.75,204.69 65.10,204.80 65.45,204.59 65.80,204.56 66.15,204.72 66.50,204.53 66.85,204.91 67.20,204.55 67.55,201.66 67.79,198.39 67.90,199.45 68.25,203.96 68.60,204.61 68.95,204.67 69.30,204.90 69.65,204.97 70.00,204.64 70.35,204.60 70.70,204.73 71.05,204.99 71.40,204.53 71.75,204.65 72.10,204.84 72.45,204.37 72.80,204.43 73.15,204.76 73.50,202.30 73.81,196.65 73.85,196.50 74.20,203.38 74.55,204.59 74.90,204.76 75.25,204.89 75.60,204.80 75.95,204.38 76.30,202.75 76.65,194.88 76.71,194.64 77.00,200.98 77.35,204.11 77.70,204.30 78.05,204.66 78.40,204.66 78.75,204.50 79.10,204.96 79.45,204.71 79.80,204.29 80.15,204.55 80.50,204.82 80.85,204.48 81.20,204.75 81.55,204.27 81.90,204.48 82.25,204.85 82.60,204.67 82.95,204.72 83.30,204.39 83.65,204.60 84.00,204.63 84.35,204.43 84.70,204.69 85.05,204.60 85.40,204.92 85.75,204.61 86.10,204.48 86.45,204.26 86.80,204.24 87.15,204.60 87.50,204.03 87.85,203.76 88.20,202.18 88.55,179.22 88.76,162.33 88.90,171.88 89.25,201.34 89.60,203.65 89.95,203.93 90.30,204.59 90.65,204.34 91.00,204.65 91.35,204.42 91.70,204.31 92.05,204.39 92.40,204.28 92.75,204.84 93.10,204.62 93.45,204.46 93.80,204.53 94.15,204.49 94.50,204.26 94.85,204.85 95.20,204.63 95.55,204.89 95.90,204.53 96.25,204.66 96.60,204.40 96.95,204.25 97.30,204.87 97.65,204.82 98.00,204.44 98.35,204.85 98.70,204.79 99.05,204.43 99.40,204.64 99.75,204.89 100.10,204.56 100.45,204.88 100.80,204.38 101.15,204.48 101.50,204.71 101.85,204.36 102.20,204.43 102.55,204.82 102.90,204.55 103.25,204.76 103.60,204.37 103.95,204.32 104.30,204.45 104.65,204.33 105.00,204.88 105.35,204.40 105.70,204.59 106.05,204.28 106.40,204.57 106.75,204.46 107.10,204.48 107.45,204.24 107.80,204.28 108.15,204.77 108.50,204.43 108.85,204.36 109.20,204.32 109.55,204.38 109.90,204.35 110.25,204.21 110.60,204.65 110.95,204.42 111.30,204.29 111.65,204.67 112.00,204.24 112.35,204.36 112.70,204.75 113.05,204.26 113.40,204.47 113.75,204.74 114.10,204.72 114.45,204.25 114.80,204.37 115.15,204.58 115.50,203.92 115.85,200.12 115.99,198.31 116.20,201.33 116.55,204.22 116.90,204.24 117.25,204.44 117.60,204.22 117.95,204.63 118.30,204.33 118.65,204.78 119.00,204.56 119.35,204.40 119.70,204.32 120.05,204.57 120.40,204.29 120.75,204.76 121.10,204.23 121.45,204.50 121.80,204.52 122.15,204.33 122.50,204.68 122.85,204.41 123.20,204.59 123.55,204.53 123.90,204.35 124.25,204.40 124.60,204.18 124.95,204.24 125.30,204.70 125.65,204.31 126.00,204.52 126.35,204.04 126.70,202.86 127.05,196.45 127.08,196.48 127.40,201.95 127.75,203.96 128.10,204.26 128.45,204.23 128.80,204.18 129.15,204.60 129.50,204.30 129.85,204.39 130.20,204.74 130.55,204.65 130.90,204.73 131.25,204.71 131.60,204.20 131.95,204.30 132.30,204.13 132.65,204.58 133.00,204.57 133.35,204.35 133.70,204.39 134.05,204.56 134.40,204.59 134.75,204.27 135.10,204.69 135.45,204.34 135.80,204.53 136.15,204.22 136.50,204.17 136.85,204.72 137.20,204.59 137.55,204.57 137.90,204.08 138.25,203.99 138.60,202.65 138.88,200.23 138.95,200.52 139.30,203.75 139.65,204.04 140.00,204.27 140.35,204.51 140.70,204.19 141.05,204.66 141.40,204.47 141.75,204.57 142.10,204.25 142.45,204.38 142.80,204.55 143.15,204.31 143.50,204.07 143.85,204.65 144.20,204.60 144.55,204.26 144.90,204.08 145.25,204.62 145.60,204.28 145.95,201.95 146.11,201.24 146.30,202.18 146.65,204.44 147.00,204.17 147.35,204.68 147.70,204.57 148.05,204.11 148.40,204.54 148.75,204.33 149.10,204.57 149.45,204.63 149.80,204.25 150.15,204.11 150.50,204.71 150.85,204.34 151.20,204.69 151.55,204.53 151.90,204.55 152.25,204.61 152.60,204.46 152.95,204.30 153.30,203.31 153.59,202.53 153.65,202.45 154.00,204.09 154.35,204.65 154.70,204.11 155.05,204.56 155.40,204.06 155.75,204.52 156.10,204.59 156.45,204.21 156.80,204.41 157.15,204.71 157.50,204.47 157.85,204.41 158.20,204.20 158.55,204.07 158.90,204.27 159.25,204.31 159.60,204.16 159.95,204.24 160.30,204.11 160.65,204.51 161.00,204.48 161.35,204.18 161.70,204.18 162.05,204.37 162.40,204.32 162.75,204.66 163.10,204.25 163.45,204.22 163.80,204.62 164.15,204.10 164.50,204.40 164.85,204.23 165.20,204.57 165.55,204.37 165.90,204.51 166.25,204.04 166.60,203.46 166.84,202.42 166.95,202.60 167.30,204.32 167.65,204.54 168.00,204.06 168.35,204.18 168.70,204.24 169.05,204.13 169.40,204.03 169.75,204.18 170.10,204.12 170.45,204.47 170.80,204.30 171.15,204.06 171.50,204.21 171.85,204.31 172.20,204.23 172.55,204.09 172.90,204.03 173.25,203.98 173.60,204.67 173.95,204.50 174.30,204.03 174.65,204.47 175.00,204.65 175.35,204.35 175.70,204.01 176.05,204.04 176.40,202.43 176.48,202.10 176.75,203.50 177.10,203.90 177.45,204.58 177.80,204.40 178.15,204.39 178.50,204.61 178.85,204.41 179.20,204.13 179.55,204.13 179.90,204.05 180.25,203.97 180.60,204.49 180.95,204.54" fill="none" stroke="#b01c30" stroke-width="1.35" stroke-linejoin="round" />
<polyline points="12.60,228.13 12.95,227.57 13.30,227.06 13.65,226.92 14.00,226.68 14.35,227.08 14.70,226.37 15.05,226.84 15.40,226.28 15.75,226.67 16.10,226.58 16.45,226.53 16.80,226.88 17.15,225.58 17.50,226.65 17.85,226.02 18.20,226.05 18.55,226.09 18.90,226.24 19.25,225.48 19.60,225.44 19.95,226.10 20.30,224.77 20.65,225.47 21.00,225.37 21.35,224.43 21.70,225.15 22.05,225.16 22.40,225.41 22.75,224.48 23.10,225.29 23.45,224.53 23.80,224.40 24.15,224.87 24.50,223.55 24.85,224.39 25.20,224.12 25.55,223.55 25.90,224.02 26.25,222.35 26.60,213.97 26.94,197.21 26.95,197.35 27.18,201.21 27.30,208.25 27.65,221.20 28.00,222.96 28.35,223.48 28.70,222.74 29.05,223.45 29.40,222.79 29.75,222.90 30.10,222.55 30.45,222.85 30.80,223.47 31.15,222.99 31.50,223.15 31.85,222.46 32.20,222.41 32.55,222.34 32.90,222.71 33.25,222.73 33.60,222.90 33.95,221.82 34.30,222.74 34.65,222.93 35.00,222.41 35.35,221.68 35.70,221.99 36.05,221.54 36.40,221.75 36.75,222.74 37.10,222.26 37.45,222.29 37.80,222.43 38.15,222.56 38.50,222.10 38.85,222.07 39.20,222.04 39.55,222.10 39.90,221.92 40.25,221.99 40.60,221.30 40.95,221.89 41.30,221.56 41.65,221.96 42.00,221.03 42.35,221.13 42.70,220.93 43.05,221.95 43.40,222.14 43.75,221.78 44.10,221.37 44.45,222.00 44.80,221.94 45.15,221.62 45.50,221.19 45.85,221.25 46.20,221.41 46.55,221.26 46.90,221.41 47.25,221.70 47.60,222.10 47.95,220.87 48.30,221.58 48.65,220.83 49.00,220.94 49.35,221.90 49.70,221.57 50.05,222.04 50.40,221.38 50.75,220.76 51.10,221.28 51.45,221.56 51.80,222.04 52.15,222.09 52.50,221.38 52.85,221.29 53.20,220.85 53.55,221.60 53.90,220.99 54.25,220.90 54.60,220.70 54.95,220.68 55.30,221.63 55.65,220.83 56.00,222.01 56.35,220.77 56.70,221.86 57.05,220.82 57.40,220.66 57.75,221.63 58.10,220.96 58.45,221.64 58.80,220.87 59.15,220.67 59.50,221.68 59.85,221.59 60.20,221.78 60.55,221.60 60.90,220.69 61.25,221.44 61.60,221.55 61.95,221.20 62.30,221.85 62.65,220.89 63.00,221.88 63.35,221.53 63.70,220.53 64.05,220.52 64.40,221.40 64.75,221.62 65.10,220.55 65.45,220.78 65.80,219.77 66.10,215.71 66.15,216.82 66.50,220.27 66.85,220.44 67.20,220.92 67.55,221.22 67.90,221.03 68.25,221.36 68.60,220.60 68.95,221.51 69.30,220.89 69.65,221.27 70.00,221.23 70.35,220.91 70.70,220.84 71.05,221.35 71.40,221.50 71.75,221.18 72.10,220.72 72.45,220.14 72.80,219.54 73.15,220.46 73.50,219.50 73.85,216.51 74.06,213.56 74.20,214.90 74.55,218.01 74.90,213.46 75.02,212.11 75.25,214.49 75.26,214.83 75.60,218.23 75.95,217.43 76.30,212.41 76.47,209.90 76.65,213.60 77.00,219.21 77.35,218.96 77.70,214.67 77.91,211.88 78.05,213.92 78.40,219.95 78.75,220.97 79.10,221.23 79.45,220.13 79.80,221.28 80.15,221.28 80.50,221.38 80.85,220.97 81.20,220.56 81.55,221.37 81.90,221.31 82.25,221.13 82.60,221.45 82.95,220.66 83.30,220.29 83.65,220.94 84.00,221.27 84.35,220.43 84.70,221.20 85.05,221.45 85.40,220.47 85.75,220.99 86.10,221.09 86.45,220.79 86.80,220.42 87.15,220.48 87.50,221.16 87.85,221.20 88.20,220.71 88.55,220.13 88.90,221.00 89.25,219.62 89.60,207.09 89.72,204.91 89.95,212.86 90.30,220.59 90.65,220.52 91.00,220.46 91.35,220.53 91.70,219.80 92.05,219.57 92.40,219.23 92.75,219.57 93.10,218.31 93.45,214.58 93.58,213.32 93.80,215.53 94.15,217.28 94.50,217.19 94.54,218.53 94.85,217.74 95.20,217.59 95.55,218.65 95.90,219.24 96.25,218.71 96.60,219.58 96.95,218.44 97.30,208.24 97.43,204.68 97.65,211.36 98.00,220.58 98.35,221.03 98.70,220.65 99.05,220.84 99.40,220.46 99.75,221.22 100.10,220.75 100.45,221.49 100.80,221.25 101.15,221.33 101.50,221.54 101.85,220.55 102.20,220.25 102.55,220.49 102.90,220.46 103.25,220.33 103.60,220.29 103.95,221.00 104.30,221.44 104.65,220.86 105.00,221.55 105.35,221.50 105.70,220.32 106.05,221.07 106.40,220.78 106.75,220.40 107.10,221.57 107.45,220.59 107.80,221.02 108.15,221.12 108.50,221.56 108.85,221.15 109.20,220.76 109.55,220.82 109.90,220.39 110.25,221.47 110.60,221.45 110.95,220.28 111.30,219.90 111.65,220.05 112.00,220.01 112.35,220.57 112.70,220.36 113.05,220.04 113.40,218.17 113.75,215.19 113.82,214.77 113.82,214.69 114.10,218.19 114.45,218.83 114.80,219.22 115.15,220.29 115.50,220.76 115.85,220.59 116.20,220.23 116.55,220.77 116.90,221.11 117.25,220.27 117.60,220.63 117.95,220.57 118.30,220.41 118.65,220.92 119.00,220.49 119.35,220.60 119.70,220.47 120.05,221.22 120.40,220.30 120.75,221.29 121.10,220.56 121.45,220.34 121.80,221.59 122.15,220.60 122.50,221.60 122.85,221.51 123.20,221.54 123.55,220.49 123.90,220.93 124.25,220.44 124.60,221.60 124.95,221.48 125.30,221.18 125.65,220.92 126.00,220.75 126.35,221.38 126.70,220.15 127.05,217.23 127.08,216.52 127.40,219.44 127.75,220.29 128.10,221.28 128.45,221.07 128.80,220.51 129.15,221.53 129.50,220.69 129.85,220.90 130.20,220.54 130.55,220.70 130.90,221.50 131.25,220.79 131.60,220.56 131.95,221.01 132.30,220.77 132.65,221.59 133.00,220.49 133.35,221.70 133.70,220.41 134.05,221.58 134.40,221.27 134.75,220.63 135.10,221.00 135.45,220.73 135.80,220.69 136.15,220.61 136.50,220.83 136.85,221.71 137.20,221.71 137.55,221.60 137.90,220.44 138.25,220.69 138.60,221.51 138.95,220.29 139.30,221.16 139.65,220.46 140.00,221.29 140.35,219.77 140.70,220.66 141.05,219.76 141.40,219.21 141.75,218.76 142.10,219.70 142.45,219.11 142.74,218.56 142.80,218.89 143.15,218.60 143.46,215.41 143.50,215.98 143.85,218.39 144.20,219.30 144.55,220.43 144.90,220.60 145.25,220.09 145.60,220.09 145.95,220.23 146.30,221.04 146.65,220.94 147.00,220.67 147.35,220.60 147.70,221.19 148.05,221.33 148.40,221.48 148.75,221.15 149.10,220.61 149.45,220.26 149.80,219.30 149.97,217.95 150.15,219.37 150.50,220.27 150.85,221.48 151.20,220.83 151.55,221.55 151.90,221.59 152.25,221.08 152.60,220.41 152.95,221.67 153.30,221.06 153.65,221.62 154.00,220.77 154.35,220.66 154.70,221.57 155.05,220.92 155.40,220.64 155.75,220.93 156.10,221.24 156.45,220.42 156.80,221.14 157.15,221.04 157.50,221.14 157.85,220.59 158.20,221.42 158.55,221.56 158.90,221.63 159.25,220.87 159.60,221.42 159.95,220.96 160.30,221.48 160.65,220.51 161.00,221.65 161.35,221.77 161.70,221.13 162.05,221.15 162.40,221.18 162.75,221.19 163.10,220.47 163.45,221.79 163.80,220.75 164.15,220.69 164.50,220.58 164.85,220.79 165.20,221.58 165.55,220.47 165.90,220.55 166.25,221.32 166.60,219.47 166.84,217.98 166.95,219.15 167.30,220.99 167.65,221.14 168.00,221.42 168.35,220.59 168.70,221.67 169.05,221.46 169.40,220.52 169.75,220.63 170.10,221.15 170.45,221.16 170.80,220.85 171.15,220.63 171.50,221.03 171.85,220.66 172.20,221.29 172.55,221.67 172.90,220.67 173.25,221.27 173.60,221.51 173.95,220.70 174.30,221.62 174.65,221.78 175.00,221.01 175.35,221.04 175.70,221.60 176.05,220.81 176.40,218.27 176.48,218.80 176.75,220.30 177.10,220.86 177.45,220.79 177.80,220.94 178.15,221.09 178.50,221.85 178.85,221.61 179.20,221.76 179.55,221.63 179.90,221.68 180.25,220.57 180.60,221.22 180.95,221.84" fill="none" stroke="#d8848c" stroke-width="1.35" stroke-linejoin="round" />
<polyline points="12.60,244.24 12.95,244.41 13.30,244.14 13.65,244.35 14.00,244.37 14.35,244.00 14.70,244.39 15.05,243.96 15.40,244.39 15.75,244.38 16.10,244.16 16.45,243.81 16.80,244.09 17.15,243.97 17.50,244.33 17.85,243.73 18.20,244.20 18.55,244.26 18.90,244.04 19.25,244.06 19.60,243.59 19.95,244.10 20.30,243.69 20.65,243.95 21.00,243.85 21.35,243.26 21.70,243.62 22.05,243.65 22.40,242.98 22.75,243.11 23.10,243.31 23.45,242.82 23.80,243.25 24.15,242.73 24.50,243.01 24.85,242.41 25.20,242.50 25.55,242.52 25.90,241.40 26.25,234.35 26.60,197.40 26.70,192.39 26.95,215.45 27.30,239.43 27.65,241.38 28.00,242.18 28.35,242.08 28.70,242.25 29.05,241.72 29.40,242.12 29.75,241.61 30.10,241.86 30.45,241.88 30.80,241.64 31.15,241.95 31.50,241.67 31.85,241.63 32.20,241.79 32.55,241.19 32.90,241.76 33.25,241.45 33.60,241.23 33.95,241.45 34.30,241.02 34.65,241.47 35.00,241.13 35.35,240.92 35.70,241.14 36.05,240.86 36.40,240.62 36.75,240.95 37.10,240.41 37.45,240.89 37.80,240.44 38.15,240.65 38.50,240.83 38.85,240.50 39.20,240.49 39.55,240.19 39.90,239.92 40.25,239.88 40.60,239.90 40.95,240.17 41.30,239.99 41.65,240.00 42.00,240.24 42.35,239.68 42.70,239.72 43.05,239.99 43.40,239.53 43.75,239.49 44.10,239.71 44.45,239.51 44.80,239.66 45.15,239.54 45.50,239.77 45.85,239.75 46.20,239.45 46.55,239.72 46.90,239.59 47.25,239.33 47.60,239.86 47.95,239.35 48.30,239.26 48.65,239.20 49.00,239.55 49.35,239.69 49.70,239.60 50.05,239.31 50.40,239.19 50.75,238.99 51.10,239.40 51.45,239.32 51.80,239.15 52.15,239.33 52.50,239.16 52.85,239.48 53.20,239.31 53.55,238.95 53.90,239.38 54.25,238.75 54.60,239.07 54.95,238.96 55.30,238.81 55.65,238.66 56.00,239.14 56.35,238.58 56.70,238.93 57.05,239.18 57.40,238.59 57.75,238.61 58.10,238.87 58.45,238.77 58.80,238.84 59.15,238.93 59.50,238.46 59.85,238.53 60.20,238.50 60.55,238.30 60.90,238.87 61.25,238.79 61.60,238.74 61.95,238.24 62.30,238.83 62.65,238.75 63.00,238.55 63.35,238.74 63.70,238.53 64.05,238.36 64.40,238.25 64.75,238.27 65.10,237.66 65.45,232.17 65.62,229.76 65.80,232.68 66.15,238.27 66.50,238.61 66.85,238.35 67.20,238.58 67.55,238.51 67.90,238.76 68.25,238.58 68.60,238.40 68.95,238.67 69.30,238.90 69.65,238.37 70.00,238.84 70.35,238.23 70.70,238.40 71.05,238.38 71.40,238.73 71.75,238.87 72.10,238.73 72.45,238.43 72.80,238.81 73.15,238.41 73.50,238.32 73.85,238.74 74.20,238.43 74.55,237.25 74.90,226.47 75.02,224.30 75.25,230.85 75.60,238.17 75.95,238.52 76.30,238.71 76.65,238.46 77.00,238.68 77.35,238.58 77.70,238.40 78.05,238.34 78.40,238.62 78.75,238.24 79.10,238.82 79.45,238.28 79.80,238.20 80.15,238.24 80.50,238.81 80.85,238.39 81.20,238.22 81.55,238.10 81.90,238.03 82.25,238.32 82.60,237.51 82.95,224.56 83.21,206.72 83.30,209.20 83.65,234.51 84.00,237.90 84.35,238.50 84.70,238.62 85.05,238.72 85.40,238.17 85.75,238.75 86.10,238.80 86.45,238.83 86.80,238.25 87.15,238.32 87.50,238.26 87.85,238.21 88.20,238.78 88.55,238.75 88.90,238.63 89.25,238.76 89.60,238.62 89.95,238.38 90.30,238.25 90.65,238.24 91.00,238.70 91.35,238.31 91.70,238.37 92.05,238.43 92.40,238.11 92.75,238.17 93.10,237.22 93.45,228.54 93.58,226.05 93.80,231.63 94.15,238.30 94.50,238.38 94.85,238.70 95.20,238.57 95.55,238.17 95.90,238.45 96.25,238.47 96.60,238.71 96.95,238.41 97.30,238.67 97.65,238.55 98.00,238.32 98.35,238.78 98.70,238.24 99.05,238.75 99.40,238.29 99.75,238.17 100.10,238.31 100.45,238.70 100.80,238.85 101.15,238.17 101.50,238.51 101.85,238.50 102.20,238.71 102.55,238.28 102.90,238.49 103.25,238.38 103.60,238.71 103.95,238.29 104.30,238.73 104.65,238.22 105.00,238.06 105.35,238.11 105.70,233.84 106.05,210.48 106.11,209.62 106.40,227.49 106.75,237.84 107.10,238.34 107.45,238.54 107.80,238.49 108.15,238.34 108.50,238.39 108.85,238.40 109.20,238.76 109.55,238.20 109.90,238.77 110.25,238.16 110.60,238.29 110.95,238.34 111.30,238.78 111.65,238.50 112.00,238.42 112.35,238.77 112.70,238.32 113.05,238.48 113.40,238.53 113.75,238.68 114.10,238.68 114.45,238.61 114.80,238.40 115.15,238.38 115.50,238.26 115.85,238.74 116.20,238.62 116.55,238.67 116.90,238.27 117.25,238.46 117.60,238.69 117.95,238.56 118.30,238.24 118.65,238.47 119.00,238.77 119.35,238.32 119.70,238.28 120.05,238.36 120.40,238.64 120.75,238.74 121.10,238.26 121.45,238.26 121.80,238.32 122.15,238.37 122.50,238.51 122.85,238.26 123.20,238.37 123.55,238.28 123.90,238.83 124.25,238.65 124.60,238.21 124.95,238.81 125.30,238.21 125.65,238.41 126.00,238.83 126.35,238.69 126.70,238.65 127.05,238.44 127.40,238.27 127.75,238.58 128.10,238.21 128.45,238.28 128.80,238.41 129.15,238.16 129.50,238.41 129.85,238.69 130.20,238.62 130.55,238.48 130.90,238.57 131.25,238.45 131.60,238.23 131.95,238.55 132.30,238.41 132.65,238.64 133.00,238.76 133.35,238.42 133.70,238.52 134.05,238.64 134.40,238.41 134.75,238.27 135.10,238.62 135.45,238.72 135.80,238.64 136.15,238.58 136.50,238.66 136.85,238.50 137.20,238.35 137.55,236.28 137.90,228.39 137.92,228.56 138.25,235.31 138.60,238.15 138.95,238.56 139.30,238.55 139.65,238.52 140.00,238.26 140.35,238.39 140.70,238.41 141.05,238.53 141.40,238.38 141.75,238.56 142.10,238.73 142.45,238.19 142.80,238.50 143.15,238.51 143.50,237.41 143.85,231.32 143.95,230.79 144.20,234.43 144.55,238.19 144.90,238.12 145.25,238.60 145.60,238.73 145.95,238.44 146.30,238.15 146.65,238.49 147.00,238.47 147.35,238.59 147.70,238.44 148.05,238.53 148.40,238.65 148.75,238.42 149.10,238.30 149.45,238.36 149.80,234.04 149.97,232.58 150.15,234.34 150.50,238.26 150.85,238.10 151.20,238.74 151.55,238.32 151.90,238.12 152.25,238.27 152.60,238.37 152.95,238.10 153.30,238.38 153.65,238.38 154.00,238.58 154.35,238.34 154.70,238.27 155.05,238.25 155.40,238.61 155.75,238.75 156.10,238.46 156.45,238.24 156.80,238.65 157.15,238.36 157.50,238.24 157.85,238.18 158.20,238.63 158.55,238.65 158.90,238.53 159.25,238.41 159.60,238.48 159.95,238.24 160.30,238.76 160.65,238.33 161.00,238.53 161.35,238.65 161.70,238.65 162.05,238.41 162.40,238.28 162.75,238.46 163.10,238.16 163.45,238.66 163.80,238.32 164.15,238.67 164.50,238.26 164.85,238.33 165.20,238.24 165.55,238.36 165.90,238.18 166.25,237.99 166.60,237.57 166.84,236.27 166.95,236.53 167.30,238.07 167.65,238.37 168.00,238.35 168.35,238.51 168.70,238.52 169.05,238.32 169.40,238.71 169.75,238.66 170.10,238.10 170.45,238.64 170.80,238.70 171.15,238.61 171.50,238.16 171.85,238.64 172.20,238.50 172.55,238.07 172.90,238.07 173.25,238.72 173.60,238.51 173.95,238.23 174.30,238.12 174.65,238.15 175.00,238.21 175.35,238.58 175.70,238.26 176.05,238.09 176.40,238.39 176.75,235.13 176.96,232.17 177.10,233.95 177.45,237.97 177.80,238.51 178.15,238.48 178.50,238.65 178.85,238.59 179.20,238.63 179.55,238.18 179.90,238.53 180.25,238.42 180.60,238.56 180.95,238.35" fill="none" stroke="#bdbdbd" stroke-width="1.35" stroke-linejoin="round" />
<polyline points="12.60,255.82 12.95,255.88 13.30,255.76 13.65,255.77 14.00,255.37 14.35,255.41 14.70,255.48 15.05,255.81 15.40,255.50 15.75,255.68 16.10,255.28 16.45,255.31 16.80,255.44 17.15,255.72 17.50,255.72 17.85,255.70 18.20,255.43 18.55,255.58 18.90,255.53 19.25,255.52 19.60,255.27 19.95,255.81 20.30,255.31 20.65,255.85 21.00,255.81 21.35,255.15 21.70,255.45 22.05,255.69 22.40,255.79 22.75,255.41 23.10,255.28 23.45,255.22 23.80,255.72 24.15,255.18 24.50,255.40 24.85,255.03 25.20,255.18 25.55,255.26 25.90,254.07 26.25,246.90 26.60,206.30 26.70,201.26 26.95,226.54 27.30,252.30 27.65,254.98 28.00,255.05 28.35,254.89 28.70,254.96 29.05,255.35 29.40,255.35 29.75,255.27 30.10,255.17 30.45,255.33 30.80,255.31 31.15,255.69 31.50,255.11 31.85,255.63 32.20,255.70 32.55,255.20 32.90,255.76 33.25,255.62 33.60,255.75 33.95,255.32 34.30,255.38 34.65,255.40 35.00,255.82 35.35,255.54 35.70,255.38 36.05,255.42 36.40,255.32 36.75,255.16 37.10,255.19 37.45,255.71 37.80,255.32 38.15,255.78 38.50,255.30 38.85,255.31 39.20,255.48 39.55,255.26 39.90,255.38 40.25,255.79 40.60,255.74 40.95,255.69 41.30,255.56 41.65,255.76 42.00,255.78 42.35,255.51 42.70,255.62 43.05,255.15 43.40,255.63 43.75,255.44 44.10,255.65 44.45,255.57 44.80,255.32 45.15,255.15 45.50,255.77 45.85,255.21 46.20,255.45 46.55,255.36 46.90,255.32 47.25,255.63 47.60,255.80 47.95,255.30 48.30,255.57 48.65,255.32 49.00,255.50 49.35,255.39 49.70,255.23 50.05,255.23 50.40,255.26 50.75,255.75 51.10,255.46 51.45,255.26 51.80,255.74 52.15,255.81 52.50,255.42 52.85,255.21 53.20,255.24 53.55,255.17 53.90,255.35 54.25,255.17 54.60,255.27 54.95,255.29 55.30,255.50 55.65,255.73 56.00,255.63 56.35,255.39 56.70,255.39 57.05,255.47 57.40,255.37 57.75,255.34 58.10,255.14 58.45,255.29 58.80,255.78 59.15,255.19 59.50,255.45 59.85,255.54 60.20,255.70 60.55,255.25 60.90,255.28 61.25,255.27 61.60,255.37 61.95,255.40 62.30,255.75 62.65,255.67 63.00,255.68 63.35,255.08 63.70,255.07 64.05,255.50 64.40,255.52 64.75,253.62 65.10,246.08 65.14,245.49 65.45,252.25 65.80,255.47 66.15,255.57 66.50,255.63 66.85,255.73 67.20,255.24 67.55,255.15 67.90,255.18 68.25,255.44 68.60,255.55 68.95,255.74 69.30,255.58 69.65,255.53 70.00,255.61 70.35,255.40 70.70,255.46 71.05,255.10 71.40,255.62 71.75,255.23 72.10,255.71 72.45,255.51 72.80,255.26 73.15,255.13 73.50,255.19 73.85,255.42 74.20,255.36 74.55,253.86 74.90,244.25 75.02,242.44 75.25,248.63 75.60,254.78 75.95,255.07 76.30,255.41 76.65,255.02 77.00,255.24 77.35,255.37 77.70,255.72 78.05,255.50 78.40,255.67 78.75,255.38 79.10,255.21 79.45,255.22 79.80,255.72 80.15,255.53 80.50,255.25 80.85,255.03 81.20,255.35 81.55,255.44 81.90,255.20 82.25,254.95 82.60,254.64 82.95,244.68 83.21,230.23 83.30,232.40 83.65,252.09 84.00,254.92 84.35,255.33 84.70,255.08 85.05,255.54 85.40,255.52 85.75,255.37 86.10,255.17 86.45,255.72 86.80,255.26 87.15,255.62 87.50,255.21 87.85,255.20 88.20,255.58 88.55,255.26 88.90,255.72 89.25,255.40 89.60,255.18 89.95,255.20 90.30,255.34 90.65,255.51 91.00,255.70 91.35,255.13 91.70,255.30 92.05,255.15 92.40,255.65 92.75,254.98 93.10,254.08 93.45,246.33 93.58,244.63 93.80,249.83 94.15,255.18 94.50,255.43 94.85,255.68 95.20,255.66 95.55,255.25 95.90,255.16 96.25,255.69 96.60,255.56 96.95,255.06 97.30,255.51 97.65,255.31 98.00,255.30 98.35,255.27 98.70,255.16 99.05,255.04 99.40,255.24 99.75,255.29 100.10,255.71 100.45,255.13 100.80,255.71 101.15,255.18 101.50,255.28 101.85,255.61 102.20,255.60 102.55,255.33 102.90,255.05 103.25,255.34 103.60,255.26 103.95,255.63 104.30,255.10 104.65,255.18 105.00,255.46 105.35,254.62 105.70,251.62 106.05,233.59 106.11,232.58 106.40,246.56 106.75,254.36 107.10,254.83 107.45,255.54 107.80,255.13 108.15,255.50 108.50,255.62 108.85,255.24 109.20,255.20 109.55,255.69 109.90,255.45 110.25,255.21 110.60,255.53 110.95,255.25 111.30,255.22 111.65,255.03 112.00,255.56 112.35,255.67 112.70,255.47 113.05,255.69 113.40,255.05 113.75,255.19 114.10,255.36 114.45,255.70 114.80,255.70 115.15,255.30 115.50,255.20 115.85,255.33 116.20,255.37 116.55,255.68 116.90,255.16 117.25,255.59 117.60,255.54 117.95,255.60 118.30,255.57 118.65,255.45 119.00,255.26 119.35,255.25 119.70,255.28 120.05,255.57 120.40,255.08 120.75,255.16 121.10,255.55 121.45,255.20 121.80,255.07 122.15,255.05 122.50,255.41 122.85,255.25 123.20,255.71 123.55,255.64 123.90,255.71 124.25,255.21 124.60,255.08 124.95,255.09 125.30,255.37 125.65,255.51 126.00,255.33 126.35,255.18 126.70,255.31 127.05,255.45 127.40,255.49 127.75,255.54 128.10,255.61 128.45,255.48 128.80,255.10 129.15,255.60 129.50,255.22 129.85,255.41 130.20,255.27 130.55,255.53 130.90,255.15 131.25,255.18 131.60,255.18 131.95,255.12 132.30,255.63 132.65,255.41 133.00,255.23 133.35,255.28 133.70,255.70 134.05,255.36 134.40,255.16 134.75,255.56 135.10,255.45 135.45,255.68 135.80,255.06 136.15,255.31 136.50,255.53 136.85,255.51 137.20,255.47 137.55,253.31 137.90,247.25 137.92,247.09 138.25,252.83 138.60,255.48 138.95,255.32 139.30,255.60 139.65,255.23 140.00,255.58 140.35,255.29 140.70,255.16 141.05,255.53 141.40,255.64 141.75,255.05 142.10,255.39 142.45,255.40 142.80,255.09 143.15,255.15 143.50,254.37 143.85,249.79 143.95,249.17 144.20,252.64 144.55,255.22 144.90,255.06 145.25,254.96 145.60,255.19 145.95,255.45 146.30,255.11 146.65,255.20 147.00,255.12 147.35,255.53 147.70,255.36 148.05,255.02 148.40,255.03 148.75,255.23 149.10,255.30 149.45,255.10 149.80,251.55 149.97,250.10 150.15,252.11 150.50,254.96 150.85,255.11 151.20,255.16 151.55,255.63 151.90,255.19 152.25,255.37 152.60,255.23 152.95,255.27 153.30,255.58 153.65,255.68 154.00,255.23 154.35,255.12 154.70,255.49 155.05,255.12 155.40,254.98 155.75,255.61 156.10,255.28 156.45,255.55 156.80,255.26 157.15,255.60 157.50,255.30 157.85,255.09 158.20,254.99 158.55,255.36 158.90,255.42 159.25,255.61 159.60,255.04 159.95,255.41 160.30,255.23 160.65,255.33 161.00,255.08 161.35,255.17 161.70,255.34 162.05,255.62 162.40,255.05 162.75,255.31 163.10,255.53 163.45,255.65 163.80,255.11 164.15,255.06 164.50,255.63 164.85,255.65 165.20,255.30 165.55,254.99 165.90,255.59 166.25,255.16 166.60,254.59 166.84,253.40 166.95,253.83 167.30,254.86 167.65,255.48 168.00,255.10 168.35,255.24 168.70,255.55 169.05,255.54 169.40,255.09 169.75,255.11 170.10,255.24 170.45,255.32 170.80,255.23 171.15,255.05 171.50,255.13 171.85,255.47 172.20,255.59 172.55,254.99 172.90,255.35 173.25,255.49 173.60,254.98 173.95,255.54 174.30,255.03 174.65,255.37 175.00,255.33 175.35,255.38 175.70,255.14 176.05,255.20 176.40,255.17 176.75,252.93 176.96,251.42 177.10,252.12 177.45,254.92 177.80,254.91 178.15,255.36 178.50,255.28 178.85,255.10 179.20,255.48 179.55,255.49 179.90,255.27 180.25,255.07 180.60,255.28 180.95,255.02" fill="none" stroke="#a4c2ec" stroke-width="1.35" stroke-linejoin="round" />
<polyline points="12.60,269.87 12.95,269.74 13.30,270.07 13.65,269.65 14.00,269.96 14.35,269.83 14.70,269.60 15.05,269.90 15.40,269.55 15.75,269.82 16.10,269.55 16.45,269.55 16.80,269.77 17.15,270.03 17.50,269.52 17.85,269.58 18.20,269.85 18.55,270.06 18.90,269.78 19.25,269.64 19.60,270.03 19.95,269.36 20.30,269.91 20.65,269.50 21.00,269.38 21.35,269.34 21.70,269.46 22.05,269.79 22.40,269.34 22.75,269.61 23.10,269.64 23.45,269.44 23.80,269.54 24.15,269.17 24.50,269.13 24.85,269.17 25.20,269.39 25.55,269.00 25.90,268.31 26.25,260.99 26.60,221.25 26.70,215.94 26.95,241.22 27.30,266.77 27.65,268.62 28.00,269.20 28.35,269.33 28.70,269.65 29.05,269.60 29.40,269.32 29.75,269.83 30.10,269.24 30.45,269.46 30.80,269.70 31.15,269.28 31.50,269.52 31.85,269.21 32.20,269.66 32.55,269.72 32.90,269.59 33.25,269.80 33.60,269.41 33.95,269.68 34.30,269.61 34.65,269.60 35.00,269.51 35.35,269.78 35.70,269.85 36.05,269.52 36.40,269.65 36.75,269.23 37.10,269.68 37.45,269.64 37.80,269.88 38.15,269.76 38.50,269.38 38.85,269.45 39.20,269.65 39.55,269.20 39.90,269.50 40.25,269.30 40.60,269.26 40.95,269.22 41.30,269.71 41.65,269.26 42.00,269.35 42.35,269.44 42.70,269.78 43.05,269.22 43.40,269.48 43.75,269.55 44.10,269.78 44.45,269.74 44.80,269.77 45.15,269.36 45.50,269.45 45.85,269.41 46.20,269.78 46.55,269.83 46.90,269.26 47.25,269.28 47.60,269.31 47.95,269.31 48.30,269.49 48.65,269.56 49.00,269.33 49.35,269.15 49.70,269.44 50.05,269.40 50.40,269.54 50.75,269.81 51.10,269.62 51.45,269.50 51.80,269.57 52.15,269.61 52.50,269.17 52.85,269.76 53.20,269.68 53.55,269.74 53.90,269.69 54.25,269.40 54.60,269.40 54.95,269.20 55.30,269.57 55.65,269.17 56.00,269.17 56.35,269.26 56.70,269.23 57.05,269.35 57.40,269.15 57.75,269.11 58.10,269.22 58.45,269.18 58.80,269.36 59.15,269.12 59.50,269.72 59.85,269.53 60.20,269.21 60.55,269.28 60.90,269.34 61.25,269.35 61.60,269.18 61.95,269.68 62.30,269.78 62.65,269.41 63.00,269.41 63.35,269.13 63.70,269.12 64.05,269.26 64.40,269.12 64.75,268.29 65.10,262.03 65.14,261.80 65.45,267.38 65.80,269.25 66.15,269.11 66.50,269.42 66.85,269.07 67.20,269.43 67.55,269.75 67.90,269.67 68.25,269.55 68.60,269.25 68.95,269.32 69.30,269.18 69.65,269.60 70.00,269.43 70.35,269.60 70.70,269.29 71.05,269.21 71.40,269.62 71.75,269.74 72.10,269.64 72.45,269.60 72.80,269.61 73.15,269.54 73.50,269.16 73.85,269.33 74.20,269.14 74.55,268.07 74.90,260.70 75.02,259.24 75.25,263.95 75.60,269.09 75.95,269.59 76.30,269.29 76.65,269.65 77.00,269.70 77.35,269.68 77.70,269.27 78.05,269.17 78.40,269.18 78.75,269.16 79.10,269.16 79.45,269.45 79.80,269.64 80.15,269.60 80.50,269.34 80.85,269.45 81.20,269.54 81.55,269.02 81.90,269.39 82.25,269.48 82.60,269.03 82.95,262.92 83.21,254.35 83.30,255.52 83.65,267.64 84.00,268.98 84.35,269.44 84.70,269.61 85.05,269.24 85.40,269.25 85.75,269.64 86.10,269.49 86.45,269.11 86.80,269.08 87.15,269.10 87.50,269.62 87.85,269.56 88.20,269.09 88.55,269.57 88.90,269.67 89.25,269.45 89.60,269.23 89.95,269.37 90.30,269.07 90.65,268.99 91.00,269.66 91.35,269.43 91.70,269.33 92.05,269.61 92.40,269.24 92.75,269.50 93.10,268.99 93.45,264.21 93.58,263.15 93.80,265.90 94.15,268.87 94.50,269.31 94.85,269.11 95.20,269.24 95.55,269.04 95.90,269.59 96.25,269.21 96.60,269.28 96.95,269.37 97.30,269.59 97.65,269.25 98.00,269.60 98.35,269.31 98.70,269.33 99.05,269.32 99.40,268.97 99.75,269.26 100.10,269.08 100.45,268.95 100.80,269.51 101.15,269.07 101.50,269.27 101.85,269.45 102.20,269.33 102.55,269.16 102.90,269.29 103.25,269.32 103.60,269.47 103.95,268.99 104.30,269.29 104.65,269.05 105.00,269.03 105.35,269.26 105.70,267.51 106.05,258.79 106.11,258.46 106.40,265.50 106.75,268.90 107.10,269.23 107.45,269.21 107.80,269.24 108.15,269.38 108.50,269.22 108.85,269.28 109.20,269.24 109.55,269.57 109.90,269.40 110.25,269.52 110.60,269.57 110.95,269.09 111.30,269.30 111.65,269.57 112.00,269.49 112.35,269.00 112.70,268.99 113.05,269.21 113.40,268.95 113.75,269.07 114.10,268.95 114.45,269.37 114.80,269.45 115.15,269.53 115.50,269.00 115.85,269.40 116.20,269.36 116.55,268.99 116.90,269.51 117.25,269.57 117.60,269.04 117.95,269.55 118.30,269.16 118.65,269.23 119.00,269.58 119.35,269.46 119.70,268.99 120.05,269.18 120.40,269.24 120.75,269.11 121.10,269.01 121.45,269.10 121.80,269.38 122.15,268.89 122.50,269.26 122.85,269.18 123.20,268.88 123.55,269.10 123.90,269.30 124.25,269.22 124.60,268.91 124.95,269.55 125.30,269.41 125.65,269.54 126.00,268.93 126.35,269.04 126.70,268.88 127.05,269.40 127.40,269.04 127.75,268.94 128.10,269.14 128.45,269.49 128.80,269.42 129.15,269.03 129.50,268.95 129.85,269.49 130.20,269.24 130.55,269.33 130.90,268.90 131.25,268.88 131.60,269.32 131.95,269.13 132.30,268.88 132.65,269.49 133.00,269.27 133.35,269.39 133.70,268.88 134.05,269.42 134.40,268.87 134.75,269.42 135.10,269.13 135.45,269.05 135.80,269.19 136.15,269.45 136.50,268.98 136.85,268.86 137.20,269.07 137.55,267.90 137.90,263.91 137.92,263.92 138.25,267.41 138.60,268.82 138.95,268.97 139.30,268.99 139.65,269.32 140.00,268.99 140.35,269.14 140.70,268.92 141.05,269.03 141.40,268.80 141.75,268.96 142.10,268.79 142.45,269.29 142.80,269.14 143.15,268.85 143.50,268.64 143.85,265.88 143.95,264.86 144.20,267.51 144.55,268.94 144.90,269.08 145.25,269.34 145.60,269.04 145.95,269.12 146.30,269.25 146.65,269.46 147.00,269.01 147.35,269.35 147.70,269.26 148.05,269.21 148.40,269.04 148.75,268.99 149.10,268.76 149.45,268.66 149.80,266.72 149.97,266.28 150.15,266.93 150.50,268.69 150.85,268.78 151.20,269.33 151.55,269.36 151.90,269.22 152.25,268.95 152.60,268.92 152.95,268.96 153.30,269.07 153.65,268.86 154.00,269.06 154.35,268.93 154.70,269.42 155.05,269.43 155.40,269.13 155.75,268.92 156.10,269.42 156.45,268.96 156.80,268.99 157.15,268.74 157.50,269.01 157.85,269.07 158.20,269.09 158.55,268.88 158.90,269.09 159.25,268.74 159.60,268.92 159.95,268.79 160.30,269.01 160.65,268.76 161.00,268.74 161.35,268.94 161.70,268.89 162.05,269.13 162.40,269.09 162.75,269.24 163.10,269.18 163.45,269.22 163.80,269.33 164.15,268.98 164.50,268.94 164.85,269.40 165.20,268.81 165.55,269.20 165.90,269.14 166.25,268.66 166.60,268.38 166.84,267.53 166.95,267.60 167.30,269.02 167.65,269.24 168.00,268.78 168.35,269.06 168.70,269.04 169.05,269.28 169.40,269.25 169.75,269.27 170.10,269.10 170.45,269.31 170.80,269.17 171.15,269.17 171.50,268.85 171.85,268.71 172.20,268.78 172.55,268.93 172.90,268.75 173.25,269.26 173.60,269.07 173.95,269.11 174.30,269.11 174.65,269.15 175.00,269.01 175.35,268.67 175.70,269.21 176.05,269.17 176.40,268.92 176.75,267.88 176.96,267.13 177.10,267.14 177.45,269.01 177.80,268.81 178.15,268.70 178.50,268.84 178.85,269.16 179.20,268.80 179.55,269.17 179.90,269.34 180.25,269.00 180.60,268.92 180.95,268.98" fill="none" stroke="#2c4ea0" stroke-width="1.35" stroke-linejoin="round" />
<rect x="12.60" y="157.60" width="168.70" height="135.60" fill="none" stroke="#2a2020" stroke-width="1.25" />
<line x1="20.1" y1="166.7" x2="20.1" y2="277.7" stroke="#6e6e6e" stroke-width="1.05" fill="none" stroke-dasharray="11,11" stroke-dashoffset="5.2"/>
<line x1="36.5" y1="166.7" x2="36.5" y2="277.7" stroke="#6e6e6e" stroke-width="1.05" fill="none" stroke-dasharray="11,11" stroke-dashoffset="5.2"/>
<path d="M20.1,166.7 H26.6 M30.3,166.7 H36.5" stroke="#6e6e6e" stroke-width="1.05" fill="none"/>
<path d="M20.1,277.7 H26.6 M30.3,277.7 H36.5" stroke="#6e6e6e" stroke-width="1.05" fill="none"/>
<line x1="36.5" y1="166.7" x2="200.4" y2="158.4" stroke="#6e6e6e" stroke-width="1.05" fill="none" stroke-dasharray="15,9" stroke-dashoffset="4.5"/>
<line x1="36.5" y1="277.7" x2="200.4" y2="292.6" stroke="#6e6e6e" stroke-width="1.05" fill="none" stroke-dasharray="15,9" stroke-dashoffset="4.5"/>
<line x1="27.78" y1="274.80" x2="27.78" y2="281.50" stroke="#b040b0" stroke-width="0.9" />
<line x1="68.99" y1="274.80" x2="68.99" y2="281.50" stroke="#b040b0" stroke-width="0.9" />
<line x1="73.57" y1="274.80" x2="73.57" y2="281.50" stroke="#b040b0" stroke-width="0.9" />
<line x1="76.47" y1="274.80" x2="76.47" y2="281.50" stroke="#b040b0" stroke-width="0.9" />
<line x1="89.24" y1="274.80" x2="89.24" y2="281.50" stroke="#b040b0" stroke-width="0.9" />
<line x1="97.19" y1="274.80" x2="97.19" y2="281.50" stroke="#b040b0" stroke-width="0.9" />
<line x1="117.68" y1="274.80" x2="117.68" y2="281.50" stroke="#b040b0" stroke-width="0.9" />
<line x1="129.00" y1="274.80" x2="129.00" y2="281.50" stroke="#b040b0" stroke-width="0.9" />
<line x1="139.61" y1="274.80" x2="139.61" y2="281.50" stroke="#b040b0" stroke-width="0.9" />
<line x1="145.87" y1="274.80" x2="145.87" y2="281.50" stroke="#b040b0" stroke-width="0.9" />
<line x1="155.03" y1="274.80" x2="155.03" y2="281.50" stroke="#b040b0" stroke-width="0.9" />
<line x1="158.65" y1="274.80" x2="158.65" y2="281.50" stroke="#b040b0" stroke-width="0.9" />
<line x1="165.15" y1="274.80" x2="165.15" y2="281.50" stroke="#b040b0" stroke-width="0.9" />
<line x1="167.32" y1="274.80" x2="167.32" y2="281.50" stroke="#b040b0" stroke-width="0.9" />
<line x1="169.73" y1="274.80" x2="169.73" y2="281.50" stroke="#b040b0" stroke-width="0.9" />
<line x1="177.20" y1="274.80" x2="177.20" y2="281.50" stroke="#b040b0" stroke-width="0.9" />
<line x1="25.86" y1="283.50" x2="25.86" y2="289.40" stroke="#2838a8" stroke-width="0.9" />
<line x1="65.14" y1="283.50" x2="65.14" y2="289.40" stroke="#2838a8" stroke-width="0.9" />
<line x1="74.30" y1="283.50" x2="74.30" y2="289.40" stroke="#2838a8" stroke-width="0.9" />
<line x1="75.26" y1="283.50" x2="75.26" y2="289.40" stroke="#2838a8" stroke-width="0.9" />
<line x1="76.47" y1="283.50" x2="76.47" y2="289.40" stroke="#2838a8" stroke-width="0.9" />
<line x1="82.97" y1="283.50" x2="82.97" y2="289.40" stroke="#2838a8" stroke-width="0.9" />
<line x1="92.85" y1="283.50" x2="92.85" y2="289.40" stroke="#2838a8" stroke-width="0.9" />
<line x1="105.39" y1="283.50" x2="105.39" y2="289.40" stroke="#2838a8" stroke-width="0.9" />
<line x1="137.20" y1="283.50" x2="137.20" y2="289.40" stroke="#2838a8" stroke-width="0.9" />
<line x1="143.22" y1="283.50" x2="143.22" y2="289.40" stroke="#2838a8" stroke-width="0.9" />
<line x1="149.25" y1="283.50" x2="149.25" y2="289.40" stroke="#2838a8" stroke-width="0.9" />
<line x1="165.64" y1="283.50" x2="165.64" y2="289.40" stroke="#2838a8" stroke-width="0.9" />
<line x1="171.42" y1="283.50" x2="171.42" y2="289.40" stroke="#2838a8" stroke-width="0.9" />
<line x1="176.48" y1="283.50" x2="176.48" y2="289.40" stroke="#2838a8" stroke-width="0.9" />
<line x1="156.70" y1="162.80" x2="156.70" y2="169.90" stroke="#b040b0" stroke-width="1" />
<line x1="156.70" y1="172.00" x2="156.70" y2="179.70" stroke="#2838a8" stroke-width="1" />
<text x="162.40" y="169.90" font-size="7.8" text-anchor="start" fill="#111" stroke="#111" stroke-width="0.18" >O3</text>
<text x="162.40" y="179.40" font-size="7.8" text-anchor="start" fill="#111" stroke="#111" stroke-width="0.18" >P2</text>
<text x="161.20" y="199.40" font-size="7.0" text-anchor="start" fill="#111" stroke="#111" stroke-width="0.18" >N=6</text>
<text x="161.20" y="217.50" font-size="7.0" text-anchor="start" fill="#111" stroke="#111" stroke-width="0.18" >N=5</text>
<text x="161.20" y="233.60" font-size="7.0" text-anchor="start" fill="#111" stroke="#111" stroke-width="0.18" >N=4</text>
<text x="161.20" y="251.00" font-size="7.0" text-anchor="start" fill="#111" stroke="#111" stroke-width="0.18" >N=3</text>
<text x="161.20" y="266.80" font-size="7.0" text-anchor="start" fill="#111" stroke="#111" stroke-width="0.18" >N=2</text>
<line x1="12.60" y1="293.20" x2="12.60" y2="291.40" stroke="#2a2020" stroke-width="1.0" />
<line x1="36.70" y1="293.20" x2="36.70" y2="290.20" stroke="#2a2020" stroke-width="1.0" />
<line x1="60.80" y1="293.20" x2="60.80" y2="291.40" stroke="#2a2020" stroke-width="1.0" />
<line x1="84.90" y1="293.20" x2="84.90" y2="290.20" stroke="#2a2020" stroke-width="1.0" />
<line x1="109.00" y1="293.20" x2="109.00" y2="291.40" stroke="#2a2020" stroke-width="1.0" />
<line x1="133.10" y1="293.20" x2="133.10" y2="290.20" stroke="#2a2020" stroke-width="1.0" />
<line x1="157.20" y1="293.20" x2="157.20" y2="291.40" stroke="#2a2020" stroke-width="1.0" />
<line x1="181.30" y1="293.20" x2="181.30" y2="290.20" stroke="#2a2020" stroke-width="1.0" />
<text x="36.70" y="301.70" font-size="7.9" text-anchor="middle" fill="#111" stroke="#111" stroke-width="0.18" >20</text>
<text x="84.90" y="301.70" font-size="7.9" text-anchor="middle" fill="#111" stroke="#111" stroke-width="0.18" >40</text>
<text x="133.10" y="301.70" font-size="7.9" text-anchor="middle" fill="#111" stroke="#111" stroke-width="0.18" >60</text>
<text x="181.30" y="301.70" font-size="7.9" text-anchor="middle" fill="#111" stroke="#111" stroke-width="0.18" >80</text>
<text x="99.70" y="311.10" font-size="9.8" text-anchor="middle" fill="#111" stroke="#111" stroke-width="0.18" >2θ (°)</text>
<text x="0" y="0" font-size="9.95" text-anchor="middle" fill="#111" transform="translate(7.6,224.7) rotate(-90)" stroke="#111" stroke-width="0.18">Intensity (arb. units)</text>
<rect x="215.20" y="158.70" width="6.70" height="133.90" fill="#dde6f4" stroke="none" stroke-width="1" />
<rect x="241.10" y="158.70" width="4.20" height="133.90" fill="#f8dcdc" stroke="none" stroke-width="1" />
<polyline points="200.60,218.02 200.82,218.27 201.06,217.90 201.32,218.33 201.61,218.10 201.92,217.79 202.25,217.94 202.60,218.06 202.96,217.97 203.34,218.05 203.74,217.90 204.15,217.86 204.58,218.16 205.01,217.84 205.46,218.08 205.91,218.13 206.38,217.99 206.84,217.89 207.32,218.16 207.80,217.85 208.28,218.10 208.76,217.59 209.24,217.80 209.72,217.90 210.19,217.53 210.67,218.00 211.14,217.51 211.60,217.80 212.05,217.53 212.50,217.95 212.94,217.71 213.36,217.84 213.77,217.63 214.17,217.71 214.55,217.69 214.92,217.43 215.27,217.35 215.60,217.70 216.15,217.24 216.69,217.64 217.21,217.16 217.71,217.03 218.19,216.97 218.66,217.31 219.11,217.34 219.55,216.95 219.98,217.03 220.39,216.71 220.79,217.02 221.18,216.82 221.56,216.42 221.93,216.28 222.29,216.59 222.64,216.12 222.99,216.51 223.32,216.11 223.65,215.99 223.98,216.13 224.30,215.89 224.88,215.89 225.40,215.51 225.88,215.83 226.32,215.34 226.74,215.51 227.12,214.96 227.50,215.19 227.86,215.14 228.23,214.62 228.61,214.22 229.00,214.23 229.45,214.15 229.89,213.64 230.34,213.57 230.78,213.02 231.22,212.95 231.64,212.80 232.06,212.32 232.46,212.15 232.84,211.49 233.20,211.60 233.68,210.71 234.14,210.71 234.56,210.27 234.96,209.73 235.33,208.95 235.68,208.26 236.00,207.71 236.62,206.48 237.10,204.73 237.60,203.26 238.01,201.50 238.43,200.48 238.86,199.22 239.30,197.06 239.78,194.31 240.28,190.80 240.76,187.39 241.20,184.16 241.69,180.14 242.12,175.76 242.50,171.84 242.97,168.80 243.40,166.62 243.88,167.19 244.40,169.28 244.97,172.23 245.60,177.27 246.07,181.13 246.56,185.36 247.00,189.90 247.51,195.78 248.00,200.85 248.58,205.55 249.20,208.81 249.59,211.02 250.00,212.19 250.60,213.34 250.92,214.16 251.24,214.38 251.59,215.12 251.99,215.70 252.46,215.98 253.02,216.26 253.70,216.32 253.99,216.72 254.29,216.58 254.60,217.00 254.92,216.79 255.25,217.14 255.59,217.08 255.94,217.17 256.31,217.41 256.69,217.17 257.09,217.24 257.51,217.75 257.94,217.44 258.40,217.79 258.87,217.86 259.37,217.67 259.89,217.51 260.43,217.52 261.00,218.03 261.32,217.59 261.66,217.84 262.02,217.88 262.39,217.64 262.79,217.87 263.20,217.70 263.62,217.93 264.05,217.92 264.50,217.85 264.95,217.76 265.42,217.89 265.88,217.77 266.35,217.73 266.83,217.81 267.31,218.19 267.78,217.97 268.26,218.21 268.73,217.69 269.19,218.25 269.65,217.97 270.11,218.16 270.55,218.03 270.98,218.10 271.40,217.82 271.81,218.14 272.20,217.78 272.58,217.85 272.93,217.71 273.27,217.93 273.58,218.00 273.88,217.87 274.14,218.23 274.39,217.75 274.60,218.00" fill="none" stroke="#b01c30" stroke-width="1.3" stroke-linejoin="round" />
<polyline points="200.60,232.60 200.84,232.95 201.14,232.89 201.49,232.54 201.89,232.42 202.33,232.48 202.78,231.84 203.24,231.88 203.71,231.75 204.17,231.33 204.60,231.33 204.98,230.96 205.38,230.86 205.77,230.73 206.17,230.59 206.57,230.19 206.98,230.18 207.38,229.93 207.79,229.53 208.19,229.54 208.60,229.10 209.00,229.25 209.40,228.73 209.81,228.63 210.23,228.25 210.65,227.96 211.06,227.53 211.47,227.20 211.88,227.36 212.28,226.81 212.67,226.46 213.04,226.10 213.40,225.89 213.87,225.01 214.33,224.46 214.77,224.33 215.19,223.54 215.59,223.01 215.98,222.36 216.35,221.51 216.70,220.42 217.22,217.85 217.68,215.61 218.11,213.17 218.51,210.24 218.90,206.77 219.38,202.41 219.84,197.54 220.26,192.79 220.60,189.31 221.30,184.48 221.78,185.81 222.40,188.97 222.82,190.67 223.30,193.10 223.81,195.75 224.30,197.62 224.78,199.37 225.27,201.23 225.75,202.92 226.20,203.76 226.62,203.23 227.01,202.61 227.39,201.39 227.80,201.01 228.22,201.15 228.65,201.96 229.10,202.85 229.60,203.73 229.97,204.02 230.39,204.65 230.81,205.40 231.24,205.64 231.64,206.26 232.00,207.13 232.59,207.88 233.09,208.95 233.60,210.25 234.02,211.90 234.46,212.94 234.89,214.91 235.30,216.82 235.81,219.13 236.30,222.22 236.80,225.18 237.25,227.53 237.71,229.62 238.40,231.13 238.56,231.76 238.53,232.03 238.41,232.47 238.32,232.39 238.37,232.59 238.66,232.84 239.30,233.02 240.41,232.82 242.10,232.93 242.33,233.06 242.57,233.28 242.83,232.85 243.10,233.32 243.38,233.18 243.68,232.98 243.98,233.17 244.30,232.97 244.63,232.83 244.96,233.25 245.31,233.03 245.67,233.12 246.04,233.11 246.42,233.36 246.80,233.28 247.20,232.85 247.60,233.19 248.01,233.12 248.43,233.12 248.85,233.36 249.29,233.11 249.73,233.14 250.17,233.40 250.62,233.13 251.08,233.17 251.54,233.18 252.00,233.37 252.47,233.28 252.95,233.33 253.43,233.13 253.91,232.91 254.39,233.30 254.88,233.22 255.37,233.35 255.86,233.36 256.35,232.97 256.85,233.03 257.34,232.94 257.84,233.39 258.33,232.96 258.83,232.95 259.32,233.35 259.82,233.24 260.31,232.93 260.80,233.31 261.29,233.33 261.78,233.19 262.27,232.93 262.75,233.32 263.23,233.15 263.71,233.25 264.18,233.50 264.64,233.39 265.11,233.42 265.57,232.99 266.02,233.10 266.47,233.21 266.91,232.90 267.34,233.49 267.77,233.06 268.19,233.05 268.60,233.08 269.01,233.05 269.41,233.41 269.80,233.23 270.18,233.20 270.55,233.15 270.91,232.93 271.26,233.08 271.61,233.41 271.94,233.38 272.26,233.41 272.57,233.05 272.87,233.02 273.15,232.93 273.43,233.22 273.69,233.12 273.94,233.18 274.17,233.19 274.39,233.25 274.60,233.20" fill="none" stroke="#d8848c" stroke-width="1.3" stroke-linejoin="round" />
<polyline points="200.60,248.67 200.84,248.49 201.13,248.54 201.47,248.68 201.86,248.08 202.27,247.88 202.72,248.02 203.19,247.98 203.67,247.89 204.15,247.48 204.64,247.69 205.11,247.06 205.58,247.20 206.02,246.62 206.43,246.40 206.80,246.28 207.32,245.97 207.81,245.96 208.29,245.73 208.74,245.23 209.18,245.39 209.61,244.73 210.02,244.26 210.42,243.90 210.81,243.81 211.20,243.45 211.67,242.37 212.11,241.63 212.54,241.37 212.95,240.29 213.35,239.90 213.74,238.71 214.12,237.79 214.50,236.51 214.93,235.41 215.37,233.73 215.79,232.08 216.20,230.73 216.59,228.43 216.96,226.85 217.30,224.34 217.84,220.26 218.33,215.02 218.74,210.31 219.10,205.74 219.53,199.78 219.90,197.45 220.32,200.21 220.80,205.14 221.30,211.08 221.75,218.73 222.21,227.86 222.80,235.36 223.15,238.04 223.51,239.99 223.90,241.65 224.35,243.34 224.87,244.43 225.50,245.28 225.73,246.14 225.81,246.04 225.80,246.56 225.74,246.57 225.68,247.20 225.67,247.37 225.75,247.15 225.98,247.56 226.41,247.70 227.07,247.47 228.03,247.59 229.32,247.78 231.00,248.13 231.23,247.71 231.47,248.04 231.72,248.00 231.98,247.93 232.25,248.02 232.53,248.21 232.81,247.82 233.11,248.24 233.41,247.94 233.72,248.20 234.05,248.27 234.37,247.87 234.71,248.29 235.05,248.38 235.41,247.97 235.77,247.82 236.13,247.88 236.50,248.41 236.88,247.84 237.27,248.40 237.66,247.95 238.06,248.31 238.46,247.94 238.87,247.99 239.29,248.31 239.71,247.96 240.14,248.12 240.57,248.48 241.00,248.36 241.44,248.47 241.89,248.54 242.34,247.98 242.79,248.11 243.25,248.45 243.71,248.40 244.17,248.01 244.64,248.30 245.11,248.14 245.58,248.27 246.06,248.08 246.54,248.04 247.02,248.63 247.50,248.23 247.98,248.57 248.47,248.12 248.96,248.35 249.45,248.15 249.94,248.33 250.43,248.18 250.92,248.49 251.42,248.18 251.91,248.54 252.40,248.40 252.90,248.17 253.39,248.32 253.88,248.41 254.38,248.67 254.87,248.33 255.36,248.26 255.85,248.71 256.34,248.67 256.83,248.58 257.31,248.31 257.80,248.26 258.28,248.31 258.76,248.20 259.24,248.19 259.71,248.47 260.18,248.42 260.65,248.51 261.12,248.40 261.58,248.19 262.04,248.60 262.49,248.58 262.94,248.52 263.39,248.53 263.83,248.61 264.27,248.79 264.71,248.73 265.13,248.64 265.56,248.45 265.98,248.41 266.39,248.47 266.80,248.81 267.20,248.46 267.59,248.46 267.98,248.48 268.37,248.32 268.74,248.84 269.11,248.25 269.48,248.61 269.83,248.80 270.18,248.40 270.52,248.62 270.85,248.48 271.18,248.40 271.50,248.38 271.80,248.34 272.10,248.77 272.40,248.74 272.68,248.82 272.95,248.31 273.22,248.70 273.47,248.48 273.72,248.68 273.95,248.62 274.18,248.48 274.39,248.88 274.60,248.60" fill="none" stroke="#bdbdbd" stroke-width="1.3" stroke-linejoin="round" />
<polyline points="200.60,265.49 200.84,265.83 201.13,265.52 201.47,265.49 201.86,265.43 202.27,265.37 202.72,264.66 203.19,264.69 203.67,264.39 204.15,264.41 204.64,264.43 205.11,264.17 205.58,263.48 206.02,263.33 206.43,263.46 206.80,263.11 207.32,262.51 207.82,262.12 208.31,261.45 208.78,261.37 209.23,260.57 209.66,260.30 210.07,259.55 210.46,258.60 210.84,258.09 211.20,257.33 211.75,256.59 212.23,255.27 212.66,253.71 213.06,252.36 213.43,250.75 213.80,248.68 214.33,244.50 214.81,239.22 215.23,233.82 215.60,228.70 216.08,218.93 216.50,213.10 216.87,215.37 217.29,221.60 217.80,229.29 218.18,233.95 218.62,240.27 219.08,247.09 219.55,252.79 220.00,257.36 220.33,260.48 220.56,262.26 220.84,263.65 221.34,264.44 222.20,265.47 222.43,265.68 222.62,265.26 222.78,265.71 222.93,265.95 223.06,266.11 223.18,266.12 223.31,266.10 223.45,266.15 223.61,266.02 223.79,265.99 224.01,266.31 224.27,266.36 224.59,266.40 224.96,266.23 225.40,266.00 225.91,266.26 226.51,266.24 227.19,266.09 227.98,266.16 228.87,265.99 229.87,266.11 231.00,266.04 231.25,265.84 231.50,266.01 231.76,266.01 232.04,266.41 232.32,266.11 232.61,266.04 232.91,265.97 233.21,265.97 233.53,266.04 233.85,265.92 234.18,265.84 234.52,266.36 234.86,266.11 235.22,266.11 235.58,266.19 235.94,266.03 236.31,265.95 236.69,265.89 237.08,266.03 237.47,266.04 237.87,266.29 238.27,266.19 238.68,266.42 239.09,266.06 239.51,266.41 239.94,266.21 240.37,265.91 240.80,265.97 241.24,266.21 241.68,266.46 242.13,266.08 242.58,266.33 243.03,266.12 243.49,266.39 243.95,265.91 244.41,266.16 244.88,266.41 245.35,266.03 245.82,266.02 246.30,265.88 246.78,265.96 247.26,266.03 247.74,266.29 248.22,266.00 248.71,266.10 249.19,265.98 249.68,266.22 250.17,266.38 250.65,266.25 251.14,265.98 251.63,266.30 252.12,266.44 252.61,266.22 253.11,265.90 253.59,266.34 254.08,266.38 254.57,266.06 255.06,265.93 255.55,265.96 256.03,266.17 256.52,266.37 257.00,266.23 257.48,266.40 257.96,265.97 258.44,266.04 258.91,266.29 259.39,266.23 259.86,266.08 260.32,266.25 260.79,266.04 261.25,265.87 261.70,266.08 262.16,265.86 262.61,266.21 263.05,266.03 263.50,266.13 263.93,266.19 264.37,265.98 264.80,266.10 265.22,265.83 265.64,266.38 266.05,266.16 266.46,266.41 266.86,265.85 267.26,266.19 267.65,266.25 268.04,266.01 268.42,265.87 268.79,265.91 269.15,265.90 269.51,266.27 269.86,265.86 270.21,266.30 270.55,266.06 270.88,266.13 271.20,266.16 271.51,266.14 271.82,266.20 272.12,266.16 272.41,266.00 272.69,266.25 272.96,265.96 273.22,266.23 273.48,266.26 273.72,266.27 273.95,265.99 274.18,266.26 274.39,266.39 274.60,266.10" fill="none" stroke="#a4c2ec" stroke-width="1.3" stroke-linejoin="round" />
<polyline points="200.60,279.38 200.84,279.23 201.13,279.42 201.47,279.44 201.86,279.38 202.27,278.81 202.72,279.05 203.19,278.95 203.67,278.75 204.15,278.34 204.64,278.09 205.11,278.30 205.58,277.81 206.02,277.64 206.43,277.55 206.80,277.22 207.32,277.18 207.81,276.51 208.29,276.07 208.74,276.06 209.18,275.73 209.61,275.43 210.02,274.90 210.42,274.48 210.81,273.88 211.20,272.90 211.67,271.87 212.13,270.51 212.57,269.33 212.99,268.14 213.39,266.39 213.78,265.23 214.15,263.33 214.50,261.87 215.02,259.35 215.49,255.70 215.92,252.43 216.32,249.47 216.70,246.31 217.27,241.86 217.76,236.92 218.20,233.60 218.71,228.84 219.20,226.77 219.63,227.87 220.10,230.85 220.60,235.60 221.14,242.12 221.70,250.12 222.20,257.40 222.71,266.19 223.30,273.00 223.63,274.90 223.99,276.27 224.40,276.80 224.90,277.62 225.50,278.37 225.67,278.70 225.64,278.77 225.48,278.83 225.28,278.88 225.13,279.09 225.11,279.22 225.31,279.56 225.82,279.54 226.71,279.54 228.08,279.64 230.00,279.68 230.23,279.48 230.46,279.60 230.71,279.15 230.96,279.53 231.23,279.49 231.50,279.31 231.79,279.48 232.08,279.72 232.38,279.44 232.69,279.54 233.00,279.34 233.33,279.37 233.66,279.70 234.00,279.19 234.35,279.29 234.71,279.59 235.07,279.46 235.44,279.24 235.82,279.59 236.20,279.42 236.59,279.55 236.99,279.46 237.39,279.53 237.80,279.56 238.21,279.46 238.63,279.29 239.05,279.34 239.48,279.77 239.92,279.56 240.36,279.31 240.80,279.76 241.25,279.40 241.70,279.31 242.16,279.57 242.62,279.41 243.08,279.55 243.55,279.60 244.02,279.40 244.49,279.61 244.97,279.34 245.45,279.58 245.93,279.63 246.41,279.33 246.90,279.53 247.39,279.33 247.88,279.55 248.37,279.81 248.86,279.62 249.35,279.73 249.85,279.75 250.34,279.37 250.84,279.90 251.34,279.74 251.84,279.37 252.33,279.81 252.83,279.55 253.33,279.42 253.82,279.89 254.32,279.66 254.81,279.79 255.31,279.41 255.80,279.79 256.29,279.36 256.78,279.47 257.27,279.56 257.76,279.34 258.24,279.69 258.72,279.47 259.20,279.52 259.68,279.77 260.15,279.60 260.62,279.88 261.09,279.72 261.55,279.87 262.01,279.69 262.47,279.90 262.92,279.88 263.37,279.46 263.81,279.80 264.25,279.56 264.69,279.82 265.12,279.77 265.54,279.86 265.96,279.44 266.37,279.59 266.78,279.81 267.18,279.94 267.58,279.80 267.97,279.40 268.35,279.73 268.73,279.43 269.10,279.70 269.46,279.86 269.82,279.45 270.17,279.93 270.51,279.79 270.84,279.53 271.17,279.50 271.49,279.65 271.80,279.89 272.10,279.74 272.39,279.46 272.67,279.40 272.95,279.46 273.21,279.87 273.47,279.50 273.71,279.73 273.95,279.57 274.18,279.81 274.39,279.63 274.60,279.70" fill="none" stroke="#2c4ea0" stroke-width="1.3" stroke-linejoin="round" />
<path d="M200.6,158.7 H207.79999999999998 M219.0,158.7 H232.0 M243.2,158.7 H256.0 M267.6,158.7 H274.6" stroke="#707070" stroke-width="1" fill="none"/>
<path d="M200.6,292.6 H207.79999999999998 M219.0,292.6 H232.0 M243.2,292.6 H256.0 M267.6,292.6 H274.6" stroke="#707070" stroke-width="1" fill="none"/>
<line x1="200.6" y1="158.7" x2="200.6" y2="292.6" stroke="#707070" stroke-width="1" fill="none" stroke-dasharray="11,11.4" stroke-dashoffset="6"/>
<line x1="274.6" y1="158.7" x2="274.6" y2="292.6" stroke="#707070" stroke-width="1" fill="none" stroke-dasharray="11,11.4" stroke-dashoffset="6"/>
<line x1="225.50" y1="292.60" x2="225.50" y2="290.10" stroke="#707070" stroke-width="0.9" />
<line x1="249.60" y1="292.60" x2="249.60" y2="290.10" stroke="#707070" stroke-width="0.9" />
<line x1="212.60" y1="292.60" x2="212.60" y2="291.30" stroke="#707070" stroke-width="0.9" />
<line x1="237.40" y1="292.60" x2="237.40" y2="291.30" stroke="#707070" stroke-width="0.9" />
<line x1="261.50" y1="292.60" x2="261.50" y2="291.30" stroke="#707070" stroke-width="0.9" />
<text x="204.50" y="170.60" font-size="8" text-anchor="start" fill="#111" stroke="#111" stroke-width="0.18" >P2</text>
<text x="249.30" y="168.60" font-size="8" text-anchor="start" fill="#111" stroke="#111" stroke-width="0.18" >O3</text>
<text x="205.00" y="301.30" font-size="7.2" text-anchor="middle" fill="#111" stroke="#111" stroke-width="0.18" >15.5</text>
<text x="227.50" y="301.30" font-size="7.2" text-anchor="middle" fill="#111" stroke="#111" stroke-width="0.18" >16.0</text>
<text x="249.80" y="301.30" font-size="7.2" text-anchor="middle" fill="#111" stroke="#111" stroke-width="0.18" >16.5</text>
<text x="293.40" y="165.50" font-size="14" text-anchor="start" font-weight="bold" fill="#000" >c</text>
<rect x="309.60" y="164.50" width="53.00" height="15.90" fill="#6c8fcc" stroke="#4a6cae" stroke-width="0.7" />
<text x="335.80" y="176.50" font-size="9.9" text-anchor="middle" fill="#111" stroke="#111" stroke-width="0.18" >N=2</text>
<text x="364.00" y="176.30" font-size="7.9" text-anchor="start" fill="#222" stroke="#222" stroke-width="0.18" >1.05R</text>
<rect x="309.60" y="189.80" width="68.80" height="15.90" fill="#6c8fcc" stroke="#4a6cae" stroke-width="0.7" />
<text x="344.00" y="201.80" font-size="9.9" text-anchor="middle" fill="#111" stroke="#111" stroke-width="0.18" >N=3</text>
<text x="379.80" y="201.60" font-size="7.9" text-anchor="start" fill="#222" stroke="#222" stroke-width="0.18" >1.21R</text>
<rect x="309.60" y="215.20" width="89.30" height="15.90" fill="#6c8fcc" stroke="#4a6cae" stroke-width="0.7" />
<text x="354.20" y="227.20" font-size="9.9" text-anchor="middle" fill="#111" stroke="#111" stroke-width="0.18" >N=4</text>
<text x="400.30" y="227.00" font-size="7.9" text-anchor="start" fill="#222" stroke="#222" stroke-width="0.18" >1.42R</text>
<rect x="309.60" y="240.40" width="107.10" height="15.90" fill="#dcb6ab" stroke="#a07c78" stroke-width="0.7" />
<rect x="309.60" y="240.75" width="24.50" height="15.20" fill="#6c8fcc" stroke="none" stroke-width="1" />
<text x="364.40" y="252.40" font-size="9.9" text-anchor="middle" fill="#111" stroke="#111" stroke-width="0.18" >N=5</text>
<text x="418.10" y="252.20" font-size="7.9" text-anchor="start" fill="#222" stroke="#222" stroke-width="0.18" >1.60R</text>
<rect x="309.60" y="265.90" width="120.00" height="15.90" fill="#dcb6ab" stroke="#a07c78" stroke-width="0.7" />
<text x="372.20" y="277.90" font-size="9.9" text-anchor="middle" fill="#111" stroke="#111" stroke-width="0.18" >N=6</text>
<text x="431.00" y="277.70" font-size="7.9" text-anchor="start" fill="#222" stroke="#222" stroke-width="0.18" >1.74R</text>
<rect x="309.60" y="156.50" width="168.80" height="135.60" fill="none" stroke="#2a2020" stroke-width="1.25" />
<line x1="309.60" y1="292.10" x2="309.60" y2="289.30" stroke="#2a2020" stroke-width="1.1" />
<text x="310.10" y="301.20" font-size="8.0" text-anchor="middle" fill="#222" stroke="#222" stroke-width="0.18" >0.5</text>
<line x1="358.20" y1="292.10" x2="358.20" y2="289.30" stroke="#2a2020" stroke-width="1.1" />
<text x="358.70" y="301.20" font-size="8.0" text-anchor="middle" fill="#222" stroke="#222" stroke-width="0.18" >1.0</text>
<line x1="406.80" y1="292.10" x2="406.80" y2="289.30" stroke="#2a2020" stroke-width="1.1" />
<text x="407.30" y="301.20" font-size="8.0" text-anchor="middle" fill="#222" stroke="#222" stroke-width="0.18" >1.5</text>
<line x1="455.40" y1="292.10" x2="455.40" y2="289.30" stroke="#2a2020" stroke-width="1.1" />
<text x="455.90" y="301.20" font-size="8.0" text-anchor="middle" fill="#222" stroke="#222" stroke-width="0.18" >2.0</text>
<line x1="333.90" y1="292.10" x2="333.90" y2="290.30" stroke="#2a2020" stroke-width="1.0" />
<line x1="382.50" y1="292.10" x2="382.50" y2="290.30" stroke="#2a2020" stroke-width="1.0" />
<line x1="431.10" y1="292.10" x2="431.10" y2="290.30" stroke="#2a2020" stroke-width="1.0" />
<rect x="444.20" y="161.40" width="15.40" height="7.40" fill="#dcb6ab" stroke="#805a56" stroke-width="0.7" />
<rect x="444.20" y="173.50" width="15.40" height="7.20" fill="#6c8fcc" stroke="#2c4a8a" stroke-width="0.7" />
<text x="464.40" y="167.90" font-size="7.8" text-anchor="start" fill="#111" stroke="#111" stroke-width="0.18" >O3</text>
<text x="464.40" y="180.10" font-size="7.8" text-anchor="start" fill="#111" stroke="#111" stroke-width="0.18" >P2</text>
<text x="381.2" y="311.8" font-size="9.5" fill="#222" stroke="#222" stroke-width="0.18">|<tspan font-style="italic">S</tspan><tspan font-size="5.6" dy="1.8">config</tspan><tspan dy="-1.8">|</tspan></text>
<text x="512.80" y="9.20" font-size="12.8" text-anchor="start" font-weight="bold" fill="#000" >d</text>
<polyline points="532.60,30.30 534.37,30.30 536.13,30.30 537.90,30.43 539.45,28.20 541.00,27.16 542.60,24.88 544.20,22.16 545.80,18.46 547.40,19.67 549.00,21.17 550.50,22.62 552.00,21.82 553.50,21.50 555.00,20.33 556.47,19.53 557.93,17.73 559.40,17.53 561.20,17.94 563.00,19.72 564.50,18.27 566.00,19.95 568.00,20.45 570.00,21.84 572.00,23.65 574.00,26.27 575.50,24.75 577.00,22.30 578.50,18.91 580.00,16.74 581.50,15.39 583.00,14.49 585.00,12.52 586.50,10.21 588.00,8.81 590.00,7.65 591.50,7.40 593.00,6.97 594.85,6.35 596.70,6.17 599.00,8.19 601.30,7.23 603.00,12.23 604.70,24.39 606.50,18.21 609.20,10.79 611.00,14.49 613.00,23.31 614.80,30.30 616.33,30.30 617.87,30.30 619.40,30.67 622.00,23.74 623.50,19.93 625.00,17.79 627.30,14.99 630.00,16.42 632.00,21.38 634.00,30.30 635.42,30.30 636.84,30.30 638.27,30.30 639.69,30.30 641.11,30.30 642.53,30.30 643.95,30.30 645.38,30.30 646.80,30.30 648.22,30.30 649.64,30.30 651.06,30.30 652.48,30.30 653.91,30.30 655.33,30.30 656.75,30.30 658.17,30.30 659.59,30.30 661.02,30.30 662.44,30.30 663.86,30.30 665.28,30.30 666.70,30.30 668.12,30.30 669.55,30.30 670.97,30.30 672.39,30.30 673.81,30.30 675.23,30.30 676.66,30.30 678.08,30.30 679.50,30.30" fill="none" stroke="#2f4fa0" stroke-width="1.35" stroke-linejoin="round" />
<polyline points="532.60,30.30 534.37,30.30 536.13,30.30 537.90,30.86 539.45,32.39 541.00,33.69 543.00,33.87 545.00,34.47 546.50,34.96 548.00,35.15 550.00,35.49 552.00,36.75 554.00,37.08 556.00,37.63 558.00,37.41 560.00,39.28 562.80,44.05 564.00,41.26 566.00,39.65 567.50,41.17 569.00,40.94 570.50,40.10 572.00,41.18 573.50,40.07 575.00,39.94 576.50,40.30 578.00,39.85 579.67,40.82 581.33,42.06 583.00,42.22 584.67,43.76 586.33,44.72 588.00,46.88 589.50,50.85 591.00,54.61 592.50,55.40 594.00,55.55 596.00,55.24 597.50,54.00 599.00,54.26 601.30,56.47 603.00,51.73 605.00,42.16 606.90,30.30 608.41,30.30 609.92,30.30 611.43,30.30 612.94,30.30 614.46,30.30 615.97,30.30 617.48,30.30 618.99,30.30 620.50,30.87 622.25,32.65 624.00,33.16 625.50,36.98 627.00,39.18 629.50,44.54 631.00,40.53 632.50,35.01 634.00,30.48 635.50,32.08 637.00,33.72 638.50,34.51 640.00,35.75 642.00,30.89 644.00,31.85 646.00,32.65 648.00,35.30 650.00,30.30 651.40,30.30 652.80,30.30 654.20,30.30 655.60,30.30 657.00,29.91 659.00,33.34 661.00,30.30 662.42,30.30 663.85,30.30 665.27,30.30 666.69,30.30 668.12,30.30 669.54,30.30 670.96,30.30 672.38,30.30 673.81,30.30 675.23,30.30 676.65,30.30 678.08,30.30 679.50,30.30" fill="none" stroke="#2f4fa0" stroke-width="1.35" stroke-linejoin="round" />
<text x="530.00" y="16.80" font-size="8.0" text-anchor="end" fill="#222" stroke="#222" stroke-width="0.18" >25</text>
<line x1="532.60" y1="14.30" x2="535.20" y2="14.30" stroke="#222" stroke-width="0.8" />
<text x="530.00" y="32.80" font-size="8.0" text-anchor="end" fill="#222" stroke="#222" stroke-width="0.18" >0</text>
<line x1="532.60" y1="30.30" x2="535.20" y2="30.30" stroke="#222" stroke-width="0.8" />
<text x="530.00" y="50.80" font-size="8.0" text-anchor="end" fill="#222" stroke="#222" stroke-width="0.18" >-25</text>
<line x1="532.60" y1="48.30" x2="535.20" y2="48.30" stroke="#222" stroke-width="0.8" />
<line x1="532.60" y1="22.30" x2="534.10" y2="22.30" stroke="#222" stroke-width="0.8" />
<line x1="532.60" y1="39.30" x2="534.10" y2="39.30" stroke="#222" stroke-width="0.8" />
<line x1="532.60" y1="6.30" x2="534.10" y2="6.30" stroke="#222" stroke-width="0.8" />
<line x1="532.60" y1="57.30" x2="534.10" y2="57.30" stroke="#222" stroke-width="0.8" />
<line x1="542.17" y1="59.00" x2="542.17" y2="57.20" stroke="#2a2020" stroke-width="1.0" />
<line x1="567.55" y1="59.00" x2="567.55" y2="55.80" stroke="#2a2020" stroke-width="1.0" />
<line x1="592.92" y1="59.00" x2="592.92" y2="57.20" stroke="#2a2020" stroke-width="1.0" />
<line x1="618.30" y1="59.00" x2="618.30" y2="55.80" stroke="#2a2020" stroke-width="1.0" />
<line x1="643.67" y1="59.00" x2="643.67" y2="57.20" stroke="#2a2020" stroke-width="1.0" />
<line x1="669.05" y1="59.00" x2="669.05" y2="55.80" stroke="#2a2020" stroke-width="1.0" />
<text x="677.4" y="9.6" font-size="8.3" text-anchor="end" fill="#222" stroke="#222" stroke-width="0.18">O3-Na<tspan font-size="5.0" dy="2.0">0.667</tspan><tspan dy="-2.0">NiO</tspan><tspan font-size="5.0" dy="2.0">2</tspan></text>
<polyline points="532.60,87.90 534.40,87.90 536.20,87.90 538.00,87.80 539.50,86.72 541.00,85.52 542.60,83.29 544.20,83.18 545.80,81.02 547.40,82.45 549.00,81.46 550.80,80.36 552.60,80.28 555.00,79.77 556.50,77.53 558.00,76.66 559.50,75.19 561.00,74.67 562.50,72.62 564.00,71.60 565.50,72.57 567.00,72.01 568.50,71.83 570.00,69.47 571.50,70.06 573.00,68.43 575.20,68.25 578.00,68.15 579.50,67.45 581.00,67.76 582.65,66.92 584.30,67.53 587.00,68.58 589.00,69.45 591.00,69.72 592.50,69.29 594.00,68.62 595.50,67.02 597.00,65.79 598.50,65.23 600.00,63.67 601.50,63.78 603.00,63.28 604.50,63.71 606.00,62.90 607.60,64.13 609.20,63.47 611.00,70.27 613.70,87.40 615.17,87.47 616.64,87.54 618.11,87.61 619.59,87.69 621.06,87.76 622.53,87.83 624.00,88.12 626.00,83.79 627.75,82.34 629.50,80.90 631.25,82.99 633.00,84.00 635.00,83.77 637.00,84.81 639.00,83.75 641.00,85.57 642.50,83.81 644.00,82.10 645.50,78.41 647.00,75.43 648.50,72.81 650.00,69.69 652.00,73.42 654.00,81.21 655.60,87.90 657.01,87.90 658.41,87.90 659.82,87.90 661.22,87.90 662.63,87.90 664.04,87.90 665.44,87.90 666.85,87.90 668.25,87.90 669.66,87.90 671.06,87.90 672.47,87.90 673.88,87.90 675.28,87.90 676.69,87.90 678.09,87.90 679.50,87.90" fill="none" stroke="#6e7ecb" stroke-width="1.35" stroke-linejoin="round" />
<polyline points="532.60,87.90 534.40,87.90 536.20,87.90 538.00,87.60 539.50,88.73 541.00,91.57 542.60,92.53 544.20,92.33 545.80,94.15 547.40,94.03 549.00,93.03 550.80,94.87 552.60,96.72 555.00,96.04 556.50,97.43 558.00,100.25 559.50,101.19 561.00,103.38 562.50,104.37 564.00,106.51 565.50,105.75 567.00,105.82 568.50,106.60 570.00,107.10 571.50,108.59 573.00,108.66 575.20,109.42 578.00,107.92 579.50,108.73 581.00,110.43 582.65,110.85 584.30,110.80 587.00,108.04 589.00,106.99 591.00,106.93 592.50,108.74 594.00,108.73 595.50,110.71 597.00,110.74 598.50,112.48 600.00,113.54 601.50,113.46 603.00,113.10 604.50,114.59 606.00,115.09 607.60,113.42 609.20,113.28 611.00,106.55 613.70,88.40 615.17,88.33 616.64,88.26 618.11,88.19 619.59,88.11 621.06,88.04 622.53,87.97 624.00,87.39 626.00,91.50 627.75,93.40 629.50,94.53 631.25,93.09 633.00,91.62 635.00,91.61 637.00,92.59 639.00,90.90 641.00,90.30 642.50,92.99 644.00,93.72 645.50,97.87 647.00,101.03 648.50,104.12 650.00,106.19 652.00,102.21 654.00,94.24 655.60,87.90 657.01,87.90 658.41,87.90 659.82,87.90 661.22,87.90 662.63,87.90 664.04,87.90 665.44,87.90 666.85,87.90 668.25,87.90 669.66,87.90 671.06,87.90 672.47,87.90 673.88,87.90 675.28,87.90 676.69,87.90 678.09,87.90 679.50,87.90" fill="none" stroke="#6e7ecb" stroke-width="1.35" stroke-linejoin="round" />
<text x="530.00" y="75.50" font-size="8.0" text-anchor="end" fill="#222" stroke="#222" stroke-width="0.18" >18</text>
<line x1="532.60" y1="73.00" x2="535.20" y2="73.00" stroke="#222" stroke-width="0.8" />
<text x="530.00" y="90.40" font-size="8.0" text-anchor="end" fill="#222" stroke="#222" stroke-width="0.18" >0</text>
<line x1="532.60" y1="87.90" x2="535.20" y2="87.90" stroke="#222" stroke-width="0.8" />
<text x="530.00" y="106.90" font-size="8.0" text-anchor="end" fill="#222" stroke="#222" stroke-width="0.18" >-18</text>
<line x1="532.60" y1="104.40" x2="535.20" y2="104.40" stroke="#222" stroke-width="0.8" />
<line x1="532.60" y1="80.45" x2="534.10" y2="80.45" stroke="#222" stroke-width="0.8" />
<line x1="532.60" y1="96.15" x2="534.10" y2="96.15" stroke="#222" stroke-width="0.8" />
<line x1="532.60" y1="65.55" x2="534.10" y2="65.55" stroke="#222" stroke-width="0.8" />
<line x1="532.60" y1="112.65" x2="534.10" y2="112.65" stroke="#222" stroke-width="0.8" />
<line x1="542.17" y1="117.50" x2="542.17" y2="115.70" stroke="#2a2020" stroke-width="1.0" />
<line x1="542.17" y1="59.00" x2="542.17" y2="60.80" stroke="#2a2020" stroke-width="1.0" />
<line x1="567.55" y1="117.50" x2="567.55" y2="114.30" stroke="#2a2020" stroke-width="1.0" />
<line x1="567.55" y1="59.00" x2="567.55" y2="62.20" stroke="#2a2020" stroke-width="1.0" />
<line x1="592.92" y1="117.50" x2="592.92" y2="115.70" stroke="#2a2020" stroke-width="1.0" />
<line x1="592.92" y1="59.00" x2="592.92" y2="60.80" stroke="#2a2020" stroke-width="1.0" />
<line x1="618.30" y1="117.50" x2="618.30" y2="114.30" stroke="#2a2020" stroke-width="1.0" />
<line x1="618.30" y1="59.00" x2="618.30" y2="62.20" stroke="#2a2020" stroke-width="1.0" />
<line x1="643.67" y1="117.50" x2="643.67" y2="115.70" stroke="#2a2020" stroke-width="1.0" />
<line x1="643.67" y1="59.00" x2="643.67" y2="60.80" stroke="#2a2020" stroke-width="1.0" />
<line x1="669.05" y1="117.50" x2="669.05" y2="114.30" stroke="#2a2020" stroke-width="1.0" />
<line x1="669.05" y1="59.00" x2="669.05" y2="62.20" stroke="#2a2020" stroke-width="1.0" />
<line x1="532.60" y1="59.00" x2="679.50" y2="59.00" stroke="#2a2020" stroke-width="1.2" />
<text x="677.4" y="68.2" font-size="8.3" text-anchor="end" fill="#222" stroke="#222" stroke-width="0.18">O3-Na<tspan font-size="5.0" dy="2.0">0.667</tspan><tspan dy="-2.0">CoO</tspan><tspan font-size="5.0" dy="2.0">2</tspan></text>
<polyline points="532.60,143.80 534.11,143.80 535.62,143.80 537.14,143.80 538.65,143.80 540.16,143.80 541.68,143.80 543.19,143.80 544.70,143.75 545.80,141.00 547.50,140.62 549.20,140.18 550.90,138.79 552.60,138.37 554.30,139.03 556.00,138.10 557.70,137.42 559.40,137.72 560.93,135.96 562.47,135.69 564.00,133.32 565.50,135.11 567.00,135.11 568.85,135.45 570.70,137.15 572.13,136.53 573.57,137.03 575.00,137.27 576.80,139.53 578.60,141.33 580.90,137.80 582.60,134.50 584.30,132.32 586.60,132.34 588.30,130.97 590.00,129.85 591.65,126.99 593.30,123.03 595.60,124.23 597.90,126.47 600.10,122.12 602.40,121.95 604.20,126.61 607.00,143.60 609.00,143.70 611.00,143.53 612.90,137.07 614.80,131.22 616.50,136.89 618.20,143.07 621.00,142.63 623.00,140.35 625.00,138.64 626.50,137.35 628.00,136.22 629.50,133.38 631.00,134.73 632.50,133.76 634.00,133.85 636.00,138.00 638.60,143.60 640.01,143.31 641.42,143.19 642.83,142.92 644.24,143.24 645.65,142.75 647.06,143.75 648.47,143.68 649.88,143.80 651.29,142.66 652.70,143.57 654.11,143.74 655.52,143.33 656.93,144.04 658.34,144.06 659.76,143.83 661.17,143.99 662.58,143.72 663.99,144.14 665.40,142.90 666.81,143.90 668.22,143.93 669.63,143.80 671.04,143.25 672.45,142.93 673.86,143.87 675.27,144.27 676.68,143.36 678.09,143.28 679.50,143.80" fill="none" stroke="#c4c4c4" stroke-width="1.35" stroke-linejoin="round" />
<polyline points="532.60,143.80 534.07,143.80 535.54,143.80 537.01,143.80 538.47,143.80 539.94,143.80 541.41,143.80 542.88,143.80 544.35,143.80 545.82,143.80 547.28,143.80 548.75,143.80 550.22,143.80 551.69,143.80 553.16,143.80 554.63,143.80 556.09,143.80 557.56,143.80 559.03,143.80 560.50,143.33 562.25,146.21 564.00,150.30 565.50,154.81 567.00,158.51 568.50,161.76 570.00,166.34 571.90,170.67 574.10,161.78 576.40,154.20 578.60,155.86 580.30,160.32 582.00,162.89 583.70,162.57 585.40,161.65 587.10,161.71 588.80,161.29 590.50,165.12 592.20,167.22 594.50,170.86 596.70,161.74 599.00,160.73 601.30,158.12 603.50,149.73 605.25,146.61 607.00,143.80 608.43,143.80 609.87,143.80 611.30,143.80 612.74,143.80 614.17,143.80 615.61,143.80 617.04,143.80 618.48,143.80 619.91,143.80 621.35,143.80 622.78,143.80 624.22,143.80 625.65,143.80 627.09,143.80 628.52,143.80 629.96,143.80 631.39,143.80 632.83,143.80 634.26,143.80 635.70,143.80 637.13,143.80 638.57,143.80 640.00,143.92 641.80,144.22 643.60,146.10 645.40,146.01 646.93,147.24 648.47,147.36 650.00,147.06 651.67,146.65 653.35,148.37 655.03,147.55 656.70,148.81 658.20,149.40 659.70,149.52 661.20,151.22 664.00,149.38 666.00,146.79 668.00,144.30 669.44,144.24 670.88,144.18 672.31,144.11 673.75,144.05 675.19,143.99 676.62,143.93 678.06,143.86 679.50,143.80" fill="none" stroke="#c4c4c4" stroke-width="1.35" stroke-linejoin="round" />
<text x="530.00" y="130.10" font-size="8.0" text-anchor="end" fill="#222" stroke="#222" stroke-width="0.18" >30</text>
<line x1="532.60" y1="127.60" x2="535.20" y2="127.60" stroke="#222" stroke-width="0.8" />
<text x="530.00" y="146.30" font-size="8.0" text-anchor="end" fill="#222" stroke="#222" stroke-width="0.18" >0</text>
<line x1="532.60" y1="143.80" x2="535.20" y2="143.80" stroke="#222" stroke-width="0.8" />
<text x="530.00" y="163.90" font-size="8.0" text-anchor="end" fill="#222" stroke="#222" stroke-width="0.18" >-30</text>
<line x1="532.60" y1="161.40" x2="535.20" y2="161.40" stroke="#222" stroke-width="0.8" />
<line x1="532.60" y1="135.70" x2="534.10" y2="135.70" stroke="#222" stroke-width="0.8" />
<line x1="532.60" y1="152.60" x2="534.10" y2="152.60" stroke="#222" stroke-width="0.8" />
<line x1="532.60" y1="119.50" x2="534.10" y2="119.50" stroke="#222" stroke-width="0.8" />
<line x1="532.60" y1="170.20" x2="534.10" y2="170.20" stroke="#222" stroke-width="0.8" />
<line x1="542.17" y1="176.30" x2="542.17" y2="174.50" stroke="#2a2020" stroke-width="1.0" />
<line x1="542.17" y1="117.50" x2="542.17" y2="119.30" stroke="#2a2020" stroke-width="1.0" />
<line x1="567.55" y1="176.30" x2="567.55" y2="173.10" stroke="#2a2020" stroke-width="1.0" />
<line x1="567.55" y1="117.50" x2="567.55" y2="120.70" stroke="#2a2020" stroke-width="1.0" />
<line x1="592.92" y1="176.30" x2="592.92" y2="174.50" stroke="#2a2020" stroke-width="1.0" />
<line x1="592.92" y1="117.50" x2="592.92" y2="119.30" stroke="#2a2020" stroke-width="1.0" />
<line x1="618.30" y1="176.30" x2="618.30" y2="173.10" stroke="#2a2020" stroke-width="1.0" />
<line x1="618.30" y1="117.50" x2="618.30" y2="120.70" stroke="#2a2020" stroke-width="1.0" />
<line x1="643.67" y1="176.30" x2="643.67" y2="174.50" stroke="#2a2020" stroke-width="1.0" />
<line x1="643.67" y1="117.50" x2="643.67" y2="119.30" stroke="#2a2020" stroke-width="1.0" />
<line x1="669.05" y1="176.30" x2="669.05" y2="173.10" stroke="#2a2020" stroke-width="1.0" />
<line x1="669.05" y1="117.50" x2="669.05" y2="120.70" stroke="#2a2020" stroke-width="1.0" />
<line x1="532.60" y1="117.50" x2="679.50" y2="117.50" stroke="#2a2020" stroke-width="1.2" />
<text x="677.4" y="126.2" font-size="8.3" text-anchor="end" fill="#222" stroke="#222" stroke-width="0.18">O3-Na<tspan font-size="5.0" dy="2.0">0.667</tspan><tspan dy="-2.0">FeO</tspan><tspan font-size="5.0" dy="2.0">2</tspan></text>
<polyline points="532.60,206.80 534.05,206.80 535.50,206.80 536.95,206.80 538.40,206.80 539.85,206.80 541.30,206.63 543.15,204.42 545.00,202.15 546.40,199.37 547.80,198.29 549.20,196.34 551.00,198.52 552.60,204.18 554.30,201.96 556.00,201.93 557.70,200.17 559.40,200.66 562.00,201.38 564.00,204.42 565.50,205.58 567.00,206.39 568.50,206.80 570.00,206.80 571.50,206.80 573.00,206.72 574.50,203.13 576.00,199.47 577.50,196.43 580.00,193.63 581.60,191.98 583.20,191.40 584.90,192.73 586.60,194.30 588.30,191.69 590.00,190.35 591.50,187.48 593.00,185.60 595.60,183.10 597.30,182.79 599.00,182.70 601.00,186.42 602.40,192.76 604.70,187.11 607.00,192.38 609.20,200.37 611.00,191.26 613.00,181.50 614.80,177.67 616.50,183.62 618.20,192.38 620.50,207.02 622.00,199.60 623.90,191.75 625.00,199.43 626.20,206.80 627.60,206.80 629.01,206.80 630.41,206.80 631.81,206.80 633.21,206.80 634.62,206.80 636.02,206.80 637.42,206.80 638.82,206.80 640.23,206.80 641.63,206.80 643.03,206.80 644.43,206.80 645.84,206.80 647.24,206.80 648.64,206.80 650.04,206.80 651.45,206.80 652.85,206.80 654.25,206.80 655.66,206.80 657.06,206.80 658.46,206.80 659.86,206.80 661.27,206.80 662.67,206.80 664.07,206.80 665.47,206.80 666.88,206.80 668.28,206.80 669.68,206.80 671.08,206.80 672.49,206.80 673.89,206.80 675.29,206.80 676.69,206.80 678.10,206.80 679.50,206.80" fill="none" stroke="#d8868e" stroke-width="1.35" stroke-linejoin="round" />
<polyline points="532.60,206.80 534.03,206.80 535.45,206.80 536.88,206.80 538.31,206.80 539.74,206.80 541.16,206.80 542.59,206.80 544.02,206.80 545.45,206.80 546.87,206.80 548.30,206.80 549.73,206.80 551.15,206.80 552.58,206.80 554.01,206.80 555.44,206.80 556.86,206.80 558.29,206.80 559.72,206.80 561.15,206.80 562.57,206.80 564.00,207.02 565.50,208.74 567.00,208.67 568.85,209.98 570.70,211.95 572.35,217.00 574.00,222.68 575.75,226.82 577.50,230.52 580.00,223.32 582.00,218.23 583.70,217.21 585.40,217.17 588.00,224.95 589.50,229.68 591.00,233.40 593.00,230.50 595.60,227.96 597.30,227.55 599.00,225.37 600.50,224.84 602.00,225.11 604.70,223.61 606.20,222.37 607.70,221.71 609.20,220.59 611.00,216.70 613.70,209.26 615.00,206.80 616.53,206.80 618.05,206.80 619.58,206.80 621.11,206.80 622.64,206.80 624.16,206.80 625.69,206.80 627.22,206.80 628.75,206.80 630.27,206.80 631.80,207.56 633.40,208.72 635.00,208.89 636.80,210.55 638.60,211.10 640.07,212.06 641.53,212.35 643.00,211.38 644.53,212.07 646.07,213.31 647.60,214.85 650.00,217.79 652.20,220.57 654.00,214.56 655.60,206.80 657.01,206.80 658.41,206.80 659.82,206.80 661.22,206.80 662.63,206.80 664.04,206.80 665.44,206.80 666.85,206.80 668.25,206.80 669.66,206.80 671.06,206.80 672.47,206.80 673.88,206.80 675.28,206.80 676.69,206.80 678.09,206.80 679.50,206.80" fill="none" stroke="#d8868e" stroke-width="1.35" stroke-linejoin="round" />
<text x="530.00" y="194.10" font-size="8.0" text-anchor="end" fill="#222" stroke="#222" stroke-width="0.18" >25</text>
<line x1="532.60" y1="191.60" x2="535.20" y2="191.60" stroke="#222" stroke-width="0.8" />
<text x="530.00" y="209.30" font-size="8.0" text-anchor="end" fill="#222" stroke="#222" stroke-width="0.18" >0</text>
<line x1="532.60" y1="206.80" x2="535.20" y2="206.80" stroke="#222" stroke-width="0.8" />
<text x="530.00" y="226.80" font-size="8.0" text-anchor="end" fill="#222" stroke="#222" stroke-width="0.18" >-25</text>
<line x1="532.60" y1="224.30" x2="535.20" y2="224.30" stroke="#222" stroke-width="0.8" />
<line x1="532.60" y1="199.20" x2="534.10" y2="199.20" stroke="#222" stroke-width="0.8" />
<line x1="532.60" y1="215.55" x2="534.10" y2="215.55" stroke="#222" stroke-width="0.8" />
<line x1="532.60" y1="184.00" x2="534.10" y2="184.00" stroke="#222" stroke-width="0.8" />
<line x1="532.60" y1="233.05" x2="534.10" y2="233.05" stroke="#222" stroke-width="0.8" />
<line x1="542.17" y1="234.60" x2="542.17" y2="232.80" stroke="#2a2020" stroke-width="1.0" />
<line x1="542.17" y1="176.30" x2="542.17" y2="178.10" stroke="#2a2020" stroke-width="1.0" />
<line x1="567.55" y1="234.60" x2="567.55" y2="231.40" stroke="#2a2020" stroke-width="1.0" />
<line x1="567.55" y1="176.30" x2="567.55" y2="179.50" stroke="#2a2020" stroke-width="1.0" />
<line x1="592.92" y1="234.60" x2="592.92" y2="232.80" stroke="#2a2020" stroke-width="1.0" />
<line x1="592.92" y1="176.30" x2="592.92" y2="178.10" stroke="#2a2020" stroke-width="1.0" />
<line x1="618.30" y1="234.60" x2="618.30" y2="231.40" stroke="#2a2020" stroke-width="1.0" />
<line x1="618.30" y1="176.30" x2="618.30" y2="179.50" stroke="#2a2020" stroke-width="1.0" />
<line x1="643.67" y1="234.60" x2="643.67" y2="232.80" stroke="#2a2020" stroke-width="1.0" />
<line x1="643.67" y1="176.30" x2="643.67" y2="178.10" stroke="#2a2020" stroke-width="1.0" />
<line x1="669.05" y1="234.60" x2="669.05" y2="231.40" stroke="#2a2020" stroke-width="1.0" />
<line x1="669.05" y1="176.30" x2="669.05" y2="179.50" stroke="#2a2020" stroke-width="1.0" />
<line x1="532.60" y1="176.30" x2="679.50" y2="176.30" stroke="#2a2020" stroke-width="1.2" />
<text x="677.4" y="184.6" font-size="8.3" text-anchor="end" fill="#222" stroke="#222" stroke-width="0.18">O3-Na<tspan font-size="5.0" dy="2.0">0.667</tspan><tspan dy="-2.0">MnO</tspan><tspan font-size="5.0" dy="2.0">2</tspan></text>
<polyline points="532.60,263.20 533.84,263.20 535.09,263.20 536.33,263.20 537.57,263.20 538.81,263.20 540.06,263.20 541.30,263.83 542.65,262.02 544.00,260.00 545.50,260.71 547.00,258.78 548.50,258.16 550.00,259.11 551.30,260.17 552.60,261.15 553.73,259.50 554.87,259.07 556.00,257.35 557.33,256.77 558.67,257.56 560.00,255.74 561.33,254.66 562.67,255.27 564.00,253.78 565.33,253.74 566.67,254.10 568.00,254.19 569.33,253.97 570.67,253.79 572.00,252.87 573.60,251.75 575.20,252.89 576.40,251.32 577.60,252.14 578.80,251.88 580.00,252.38 581.43,252.20 582.87,250.89 584.30,251.53 585.53,250.89 586.77,249.67 588.00,248.21 589.50,248.90 591.00,247.22 592.15,245.34 593.30,245.02 594.65,245.37 596.00,242.40 597.90,241.96 599.45,243.48 601.00,244.21 602.23,243.73 603.47,243.90 604.70,242.28 605.85,242.96 607.00,245.45 608.00,252.67 609.20,259.28 611.40,252.51 612.55,255.18 613.70,258.95 614.85,253.98 616.00,251.58 617.10,263.20 618.33,263.20 619.55,263.20 620.77,263.20 622.00,264.15 624.00,259.31 625.65,259.02 627.30,256.68 628.65,257.34 630.00,257.94 631.00,263.77 633.00,259.13 634.10,260.29 635.20,258.96 636.60,259.06 638.00,261.68 640.00,262.46 642.00,260.03 643.10,257.63 644.55,259.88 646.00,260.86 648.00,262.92 650.00,258.40 651.50,261.52 653.00,262.12 654.50,262.21 656.00,261.01 657.33,261.60 658.67,261.87 660.00,262.66 661.50,260.07 663.00,259.02 664.35,259.35 665.70,258.04 666.85,260.62 668.00,263.20 669.15,263.20 670.30,263.20 671.45,263.20 672.60,263.20 673.75,263.20 674.90,263.20 676.05,263.20 677.20,263.20 678.35,263.20 679.50,263.20" fill="none" stroke="#a81e30" stroke-width="1.35" stroke-linejoin="round" />
<polyline points="532.60,263.20 533.84,263.20 535.09,263.20 536.33,263.20 537.57,263.20 538.81,263.20 540.06,263.20 541.30,262.12 542.53,264.34 543.77,263.35 545.00,265.73 546.50,266.19 548.00,265.91 549.15,265.44 550.30,266.88 551.45,266.18 552.60,266.94 553.95,266.72 555.30,269.10 556.65,268.63 558.00,268.68 559.20,268.45 560.40,270.19 561.60,270.79 562.80,271.13 564.00,269.82 565.20,270.87 566.40,271.19 567.60,272.66 568.80,271.77 570.00,273.23 571.30,274.55 572.60,274.59 573.90,273.42 575.20,274.06 576.40,274.53 577.60,276.17 578.80,276.34 580.00,276.54 581.10,276.72 582.20,276.93 583.30,277.69 584.40,278.09 585.50,279.00 586.60,278.91 587.73,279.59 588.87,280.37 590.00,280.74 591.12,281.38 592.25,280.77 593.38,283.10 594.50,284.37 595.67,282.91 596.83,283.37 598.00,281.30 599.47,282.91 600.93,281.74 602.40,282.25 603.70,280.36 605.00,279.56 607.00,278.07 608.10,272.36 609.20,266.21 611.00,271.87 613.00,269.06 615.00,266.34 617.00,263.20 618.17,263.20 619.33,263.20 620.50,263.20 621.67,263.20 622.83,263.20 624.00,264.15 625.00,267.58 626.15,268.89 627.30,270.39 629.00,267.56 631.00,262.70 633.00,265.45 634.10,266.81 635.20,266.95 636.60,265.91 638.00,265.85 640.00,264.13 642.00,265.62 643.10,268.59 644.55,267.60 646.00,266.86 648.00,264.65 650.00,266.57 651.50,264.38 653.00,264.72 654.50,264.34 656.00,265.78 657.33,264.71 658.67,264.58 660.00,265.02 661.50,264.25 663.00,266.07 664.35,267.33 665.70,268.08 666.85,266.56 668.00,263.20 669.15,263.20 670.30,263.20 671.45,263.20 672.60,263.20 673.75,263.20 674.90,263.20 676.05,263.20 677.20,263.20 678.35,263.20 679.50,263.20" fill="none" stroke="#a81e30" stroke-width="1.35" stroke-linejoin="round" />
<text x="530.00" y="251.00" font-size="8.0" text-anchor="end" fill="#222" stroke="#222" stroke-width="0.18" >25</text>
<line x1="532.60" y1="248.50" x2="535.20" y2="248.50" stroke="#222" stroke-width="0.8" />
<text x="530.00" y="265.70" font-size="8.0" text-anchor="end" fill="#222" stroke="#222" stroke-width="0.18" >0</text>
<line x1="532.60" y1="263.20" x2="535.20" y2="263.20" stroke="#222" stroke-width="0.8" />
<text x="530.00" y="281.30" font-size="8.0" text-anchor="end" fill="#222" stroke="#222" stroke-width="0.18" >-25</text>
<line x1="532.60" y1="278.80" x2="535.20" y2="278.80" stroke="#222" stroke-width="0.8" />
<line x1="532.60" y1="255.85" x2="534.10" y2="255.85" stroke="#222" stroke-width="0.8" />
<line x1="532.60" y1="271.00" x2="534.10" y2="271.00" stroke="#222" stroke-width="0.8" />
<line x1="532.60" y1="241.15" x2="534.10" y2="241.15" stroke="#222" stroke-width="0.8" />
<line x1="532.60" y1="286.60" x2="534.10" y2="286.60" stroke="#222" stroke-width="0.8" />
<line x1="542.17" y1="292.80" x2="542.17" y2="291.00" stroke="#2a2020" stroke-width="1.0" />
<line x1="542.17" y1="234.60" x2="542.17" y2="236.40" stroke="#2a2020" stroke-width="1.0" />
<line x1="567.55" y1="292.80" x2="567.55" y2="289.60" stroke="#2a2020" stroke-width="1.0" />
<line x1="567.55" y1="234.60" x2="567.55" y2="237.80" stroke="#2a2020" stroke-width="1.0" />
<line x1="592.92" y1="292.80" x2="592.92" y2="291.00" stroke="#2a2020" stroke-width="1.0" />
<line x1="592.92" y1="234.60" x2="592.92" y2="236.40" stroke="#2a2020" stroke-width="1.0" />
<line x1="618.30" y1="292.80" x2="618.30" y2="289.60" stroke="#2a2020" stroke-width="1.0" />
<line x1="618.30" y1="234.60" x2="618.30" y2="237.80" stroke="#2a2020" stroke-width="1.0" />
<line x1="643.67" y1="292.80" x2="643.67" y2="291.00" stroke="#2a2020" stroke-width="1.0" />
<line x1="643.67" y1="234.60" x2="643.67" y2="236.40" stroke="#2a2020" stroke-width="1.0" />
<line x1="669.05" y1="292.80" x2="669.05" y2="289.60" stroke="#2a2020" stroke-width="1.0" />
<line x1="669.05" y1="234.60" x2="669.05" y2="237.80" stroke="#2a2020" stroke-width="1.0" />
<line x1="532.60" y1="234.60" x2="679.50" y2="234.60" stroke="#2a2020" stroke-width="1.2" />
<text x="676.00" y="242.60" font-size="8.3" text-anchor="end" fill="#111" stroke="#111" stroke-width="0.18" >N=6</text>
<rect x="532.60" y="1.20" width="146.90" height="291.60" fill="none" stroke="#2a2020" stroke-width="1.25" />
<text x="537.00" y="11.00" font-size="8.2" text-anchor="start" fill="#111" stroke="#111" stroke-width="0.18" >O</text>
<text x="568.55" y="300.60" font-size="8.0" text-anchor="middle" fill="#111" stroke="#111" stroke-width="0.18" >-5</text>
<text x="619.10" y="300.60" font-size="8.0" text-anchor="middle" fill="#111" stroke="#111" stroke-width="0.18" >0</text>
<text x="669.85" y="300.60" font-size="8.0" text-anchor="middle" fill="#111" stroke="#111" stroke-width="0.18" >5</text>
<text x="607.70" y="311.50" font-size="10.0" text-anchor="middle" fill="#111" stroke="#111" stroke-width="0.18" >Energy (eV)</text>
<text x="0" y="0" font-size="10.05" text-anchor="middle" fill="#111" transform="translate(515.2,154.6) rotate(-90)" stroke="#111" stroke-width="0.18">Density of States (eV)</text>
<text x="1.20" y="328.80" font-size="12.5" text-anchor="start" font-weight="bold" fill="#000" >e</text>
<polyline points="12.60,345.91 12.95,346.34 13.30,346.01 13.65,346.30 14.00,345.80 14.35,345.64 14.70,346.28 15.05,345.79 15.40,346.00 15.75,345.85 16.10,346.00 16.45,346.24 16.80,346.24 17.15,346.19 17.50,345.75 17.85,346.14 18.20,345.57 18.55,345.85 18.90,346.21 19.25,345.72 19.60,345.79 19.95,345.94 20.30,345.69 20.65,346.02 21.00,345.97 21.35,345.57 21.70,346.14 22.05,345.54 22.40,345.97 22.75,345.72 23.10,345.56 23.45,345.50 23.80,346.13 24.15,345.97 24.50,345.70 24.85,345.87 25.20,345.87 25.55,345.06 25.90,334.24 26.10,327.08 26.25,331.97 26.60,344.62 26.95,345.44 27.30,344.39 27.65,333.75 27.78,330.64 28.00,337.49 28.35,345.28 28.70,345.33 29.05,345.88 29.40,345.34 29.75,345.71 30.10,345.75 30.45,345.45 30.80,346.00 31.15,345.66 31.50,345.48 31.85,345.64 32.20,345.76 32.55,345.64 32.90,345.34 33.25,345.40 33.60,345.83 33.95,345.42 34.30,345.50 34.65,345.88 35.00,345.92 35.35,345.93 35.70,345.43 36.05,345.30 36.40,345.82 36.75,345.71 37.10,345.54 37.45,345.29 37.80,345.58 38.15,345.44 38.50,345.68 38.85,345.95 39.20,345.40 39.55,345.30 39.90,345.73 40.25,345.32 40.60,345.39 40.95,345.54 41.30,345.92 41.65,345.45 42.00,345.44 42.35,345.54 42.70,345.32 43.05,345.48 43.40,345.69 43.75,345.42 44.10,345.74 44.45,345.31 44.80,345.25 45.15,345.61 45.50,345.48 45.85,345.80 46.20,345.23 46.55,345.67 46.90,345.62 47.25,345.40 47.60,345.23 47.95,345.56 48.30,345.66 48.65,345.45 49.00,345.45 49.35,345.59 49.70,345.53 50.05,345.40 50.40,345.23 50.75,345.41 51.10,345.47 51.45,345.71 51.80,345.77 52.15,345.46 52.50,345.29 52.85,345.22 53.20,345.50 53.55,345.57 53.90,345.22 54.25,345.52 54.60,345.73 54.95,345.30 55.30,345.68 55.65,345.32 56.00,345.47 56.35,345.62 56.70,345.15 57.05,345.24 57.40,345.68 57.75,345.03 58.10,345.20 58.45,345.31 58.80,345.49 59.15,345.41 59.50,345.61 59.85,345.43 60.20,344.95 60.55,345.00 60.90,344.97 61.25,345.24 61.60,344.96 61.95,345.31 62.30,345.38 62.65,345.07 63.00,345.53 63.35,345.22 63.70,345.60 64.05,345.17 64.40,345.35 64.75,345.29 65.10,345.09 65.45,345.45 65.80,344.90 66.15,345.05 66.50,345.06 66.85,344.70 67.19,342.25 67.20,341.94 67.55,344.44 67.90,345.26 68.25,345.43 68.60,344.95 68.95,345.42 69.30,345.15 69.65,345.24 70.00,345.17 70.35,345.18 70.70,345.56 71.05,345.51 71.40,345.50 71.75,345.36 72.10,345.33 72.45,344.91 72.80,344.73 73.15,343.49 73.43,340.33 73.50,340.58 73.85,344.33 74.20,344.94 74.55,345.44 74.90,345.18 75.25,344.81 75.60,345.01 75.95,344.90 76.30,342.60 76.56,340.52 76.65,341.00 77.00,344.80 77.35,344.75 77.70,345.08 78.05,344.88 78.40,345.32 78.75,345.38 79.10,345.36 79.45,345.37 79.80,344.90 80.15,344.82 80.50,344.87 80.85,345.40 81.20,345.38 81.55,345.16 81.90,344.96 82.25,345.40 82.60,344.88 82.95,345.02 83.30,344.79 83.65,345.47 84.00,345.07 84.35,345.32 84.70,345.33 85.05,345.17 85.40,345.45 85.75,345.29 86.10,345.38 86.45,345.39 86.80,344.74 87.15,345.15 87.50,344.63 87.85,343.28 88.20,329.67 88.33,326.46 88.55,334.22 88.90,344.18 89.25,344.60 89.60,345.32 89.95,345.02 90.30,345.19 90.65,345.07 91.00,345.25 91.35,344.96 91.70,345.01 92.05,345.24 92.40,345.22 92.75,345.34 93.10,344.94 93.45,345.32 93.80,345.24 94.15,345.12 94.50,345.00 94.85,345.11 95.20,344.77 95.55,344.78 95.90,344.93 96.25,344.79 96.60,344.74 96.95,345.21 97.30,345.21 97.65,345.13 98.00,344.84 98.35,345.20 98.70,345.27 99.05,345.12 99.40,344.85 99.75,345.08 100.10,344.96 100.45,344.87 100.80,344.78 101.15,345.28 101.50,345.12 101.85,345.33 102.20,344.79 102.55,344.85 102.90,345.02 103.25,344.70 103.60,344.87 103.95,345.04 104.30,344.99 104.65,345.29 105.00,345.06 105.35,345.10 105.70,345.06 106.05,345.19 106.40,344.90 106.75,344.64 107.10,345.32 107.45,345.19 107.80,344.72 108.15,344.71 108.50,344.78 108.85,345.09 109.20,344.72 109.55,344.64 109.90,344.96 110.25,344.62 110.60,344.80 110.95,344.88 111.30,344.75 111.65,344.61 112.00,344.79 112.35,344.77 112.70,344.82 113.05,344.88 113.40,344.84 113.75,344.81 114.10,344.59 114.45,345.14 114.80,345.03 115.15,344.09 115.48,341.58 115.50,341.76 115.85,344.56 116.20,344.83 116.55,344.69 116.90,345.13 117.25,345.18 117.60,344.65 117.95,344.91 118.30,344.95 118.65,344.64 119.00,344.78 119.35,344.99 119.70,345.02 120.05,344.99 120.40,344.98 120.75,344.81 121.10,344.59 121.45,344.55 121.80,345.12 122.15,345.14 122.50,345.17 122.85,344.58 123.20,345.07 123.55,344.64 123.90,344.76 124.25,344.66 124.60,345.11 124.95,345.08 125.30,345.07 125.65,344.73 126.00,344.93 126.35,342.08 126.54,340.91 126.70,342.12 127.05,344.39 127.40,344.71 127.75,344.54 128.10,345.04 128.45,344.61 128.80,344.58 129.15,344.68 129.50,344.93 129.85,344.93 130.20,344.85 130.55,345.08 130.90,345.00 131.25,344.62 131.60,344.85 131.95,344.59 132.30,344.64 132.65,344.57 133.00,344.52 133.35,344.71 133.70,345.08 134.05,344.92 134.40,344.52 134.75,344.60 135.10,344.86 135.45,344.82 135.80,344.46 136.15,344.50 136.50,344.83 136.85,344.85 137.20,344.47 137.55,344.92 137.90,344.13 138.25,341.98 138.31,341.80 138.60,343.55 138.95,345.00 139.30,344.67 139.65,344.70 140.00,344.79 140.35,345.00 140.70,345.10 141.05,344.95 141.40,344.78 141.75,344.91 142.10,344.85 142.45,345.07 142.80,345.08 143.15,344.93 143.50,344.54 143.85,344.78 144.20,344.69 144.55,344.53 144.90,344.86 145.25,343.69 145.52,342.88 145.60,342.89 145.95,344.41 146.30,344.84 146.65,344.87 147.00,345.06 147.35,345.06 147.70,344.92 148.05,344.55 148.40,344.83 148.75,344.71 149.10,345.02 149.45,344.67 149.80,344.60 150.15,344.37 150.50,344.68 150.85,344.72 151.20,344.56 151.55,344.42 151.90,344.68 152.25,344.39 152.60,344.46 152.95,344.64 153.30,344.57 153.65,344.68 154.00,344.70 154.35,344.60 154.70,344.42 155.05,344.33 155.40,344.71 155.75,344.99 156.10,344.51 156.45,344.56 156.80,344.53 157.15,344.83 157.50,344.65 157.85,344.86 158.20,344.30 158.55,344.39 158.90,344.44 159.25,344.55 159.60,344.57 159.95,344.56 160.30,344.96 160.65,344.59 161.00,344.68 161.35,344.95 161.70,344.72 162.05,344.69 162.40,344.85 162.75,344.50 163.10,344.29 163.45,344.93 163.80,344.64 164.15,344.67 164.50,344.30 164.85,344.78 165.20,344.51 165.55,344.70 165.90,344.45 166.25,344.89 166.60,344.50 166.95,344.43 167.30,344.86 167.65,344.39 168.00,344.42 168.35,344.57 168.70,344.92 169.05,344.31 169.40,344.37 169.75,344.78 170.10,344.27 170.45,344.51 170.80,344.76 171.15,344.71 171.50,344.77 171.85,344.29 172.20,344.83 172.55,344.45 172.90,344.77 173.25,344.53 173.60,344.82 173.95,344.53 174.30,344.37 174.65,344.29 175.00,344.53 175.35,344.22 175.70,344.30 176.05,344.79 176.40,344.58 176.75,344.78 177.10,344.28 177.45,344.51 177.80,344.50 178.15,344.24 178.50,344.35 178.85,344.81 179.20,344.67 179.55,344.51 179.90,344.58 180.25,344.75 180.60,344.82 180.95,344.57" fill="none" stroke="#b02234" stroke-width="1.35" stroke-linejoin="round" />
<polyline points="12.60,366.30 12.95,365.39 13.30,366.58 13.65,365.82 14.00,365.95 14.35,366.18 14.70,365.34 15.05,364.91 15.40,366.08 15.75,365.09 16.10,364.68 16.45,364.73 16.80,365.85 17.15,365.41 17.50,364.59 17.85,364.42 18.20,365.38 18.55,364.98 18.90,364.78 19.25,364.06 19.60,364.38 19.95,364.99 20.30,363.55 20.65,364.00 21.00,363.37 21.35,364.55 21.70,363.18 22.05,364.24 22.40,363.95 22.75,363.67 23.10,362.57 23.45,363.36 23.80,362.94 24.15,362.81 24.50,362.19 24.85,362.57 25.20,362.84 25.55,361.75 25.90,362.63 26.25,361.81 26.60,361.33 26.95,360.47 27.30,349.49 27.54,337.82 27.65,341.21 28.00,359.49 28.35,360.94 28.70,361.01 29.05,361.63 29.40,360.50 29.75,360.21 30.10,360.63 30.45,360.58 30.80,360.29 31.15,360.67 31.50,360.10 31.85,361.31 32.20,360.67 32.55,361.18 32.90,360.90 33.25,360.91 33.60,360.92 33.95,360.24 34.30,360.81 34.65,360.04 35.00,360.49 35.35,360.51 35.70,360.73 36.05,359.85 36.40,360.06 36.75,360.70 37.10,360.63 37.45,360.84 37.80,359.60 38.15,359.70 38.50,359.52 38.85,360.35 39.20,360.34 39.55,360.17 39.90,360.32 40.25,359.92 40.60,359.95 40.95,360.41 41.30,360.00 41.65,360.00 42.00,359.90 42.35,359.76 42.70,360.12 43.05,359.85 43.40,359.22 43.75,359.63 44.10,359.61 44.45,359.62 44.80,359.79 45.15,359.50 45.50,359.53 45.85,359.58 46.20,359.49 46.55,360.32 46.90,359.08 47.25,358.97 47.60,359.94 47.95,359.48 48.30,359.54 48.65,359.74 49.00,359.41 49.35,359.22 49.70,358.90 50.05,360.09 50.40,360.18 50.75,359.25 51.10,359.50 51.45,359.29 51.80,358.91 52.15,360.07 52.50,359.98 52.85,359.14 53.20,359.15 53.55,359.76 53.90,359.89 54.25,359.42 54.60,359.30 54.95,359.07 55.30,359.85 55.65,359.93 56.00,359.92 56.35,358.87 56.70,359.53 57.05,360.07 57.40,359.68 57.75,359.31 58.10,358.86 58.45,358.74 58.80,359.67 59.15,358.73 59.50,359.76 59.85,359.55 60.20,359.27 60.55,359.84 60.90,359.89 61.25,359.44 61.60,358.71 61.95,359.38 62.30,359.14 62.65,358.89 63.00,359.83 63.35,359.54 63.70,358.68 64.05,358.81 64.40,358.96 64.75,359.26 65.10,358.89 65.45,358.90 65.80,357.61 65.98,355.70 66.15,357.32 66.50,358.69 66.85,359.70 67.20,359.72 67.55,358.84 67.90,359.23 68.25,358.53 68.60,358.93 68.95,359.22 69.30,359.23 69.65,358.80 70.00,358.36 70.35,358.47 70.70,359.06 71.05,358.49 71.40,358.65 71.75,359.05 72.10,359.38 72.45,358.75 72.80,358.26 73.15,358.54 73.50,357.87 73.85,358.27 74.20,357.03 74.55,356.76 74.90,356.56 75.25,356.15 75.60,352.59 75.60,352.63 75.95,354.67 76.08,355.21 76.30,355.60 76.65,355.89 77.00,356.67 77.35,356.42 77.70,354.64 78.00,350.33 78.05,351.15 78.40,357.25 78.75,357.88 79.10,358.85 79.45,358.08 79.80,359.21 80.15,358.64 80.50,358.90 80.85,358.50 81.20,358.36 81.55,358.17 81.90,359.22 82.25,358.48 82.60,358.95 82.95,358.61 83.30,358.70 83.65,358.24 84.00,358.19 84.35,358.40 84.70,358.88 85.05,358.69 85.40,357.93 85.75,358.92 86.10,358.53 86.45,358.01 86.80,358.26 87.15,358.16 87.50,358.96 87.85,358.46 88.20,357.82 88.55,353.47 88.81,347.84 88.90,348.74 89.25,356.32 89.60,357.57 89.95,354.77 90.25,349.09 90.30,349.53 90.65,355.21 91.00,355.35 91.35,355.10 91.69,355.15 91.70,355.28 92.05,354.57 92.40,350.58 92.42,350.25 92.75,354.71 93.10,356.36 93.45,357.88 93.80,357.96 94.15,357.72 94.50,357.56 94.85,359.07 95.20,358.19 95.55,359.11 95.90,358.13 96.25,358.88 96.60,358.30 96.95,355.59 97.22,349.56 97.30,349.98 97.65,357.22 98.00,359.14 98.35,359.47 98.70,359.04 99.05,359.12 99.40,358.58 99.75,358.58 100.10,358.34 100.45,359.60 100.80,358.30 101.15,359.10 101.50,358.74 101.85,358.52 102.20,358.88 102.55,359.58 102.90,358.63 103.25,358.52 103.60,359.18 103.95,359.22 104.30,359.03 104.65,358.57 105.00,359.55 105.35,358.49 105.70,358.58 106.05,358.68 106.40,359.07 106.75,359.02 107.10,359.14 107.45,359.39 107.80,359.63 108.15,359.04 108.50,358.45 108.85,359.56 109.20,358.43 109.55,358.85 109.90,358.61 110.25,359.26 110.60,359.52 110.95,358.61 111.30,358.85 111.65,359.64 112.00,359.41 112.35,358.61 112.70,359.42 113.05,359.58 113.40,359.04 113.75,358.70 114.10,359.41 114.45,358.94 114.80,358.68 115.15,358.73 115.50,359.06 115.85,358.66 116.20,358.89 116.55,357.71 116.68,357.30 116.90,357.96 117.25,359.57 117.60,358.64 117.95,359.00 118.30,359.86 118.65,359.77 119.00,359.85 119.35,359.64 119.70,359.33 120.05,359.69 120.40,359.39 120.75,358.76 121.10,358.96 121.45,358.75 121.80,359.84 122.15,359.07 122.50,359.20 122.85,359.39 123.20,358.78 123.55,359.63 123.90,359.77 124.25,359.77 124.60,359.90 124.95,359.11 125.30,358.88 125.65,359.75 126.00,359.66 126.35,359.21 126.70,359.18 127.05,358.92 127.40,359.88 127.75,359.36 128.10,359.86 128.45,359.20 128.80,359.18 129.15,359.46 129.50,359.79 129.85,359.99 130.20,359.25 130.55,359.73 130.90,359.34 131.25,359.98 131.60,359.85 131.95,359.56 132.30,359.30 132.65,359.18 133.00,360.05 133.35,359.94 133.70,359.25 134.05,358.95 134.40,359.11 134.75,360.19 135.10,358.91 135.45,359.99 135.80,359.61 136.15,359.65 136.50,359.63 136.85,359.46 137.20,359.67 137.55,359.03 137.90,360.20 138.25,359.06 138.60,359.12 138.95,359.87 139.30,359.83 139.65,360.07 140.00,359.92 140.35,360.26 140.70,359.03 141.05,358.98 141.40,359.29 141.75,360.05 142.10,359.14 142.45,359.19 142.80,356.37 142.88,355.23 143.15,358.12 143.50,360.15 143.85,360.03 144.20,359.57 144.55,359.70 144.90,359.43 145.25,360.40 145.60,360.16 145.95,360.02 146.30,359.50 146.65,360.11 147.00,359.77 147.35,360.22 147.70,359.61 148.05,360.34 148.40,360.06 148.75,359.69 149.10,359.05 149.36,358.27 149.45,358.08 149.80,360.25 150.15,359.14 150.50,360.41 150.85,360.17 151.20,359.86 151.55,360.38 151.90,359.41 152.25,359.68 152.60,360.21 152.95,360.37 153.30,359.75 153.65,360.63 154.00,360.15 154.35,359.31 154.70,359.43 155.05,359.37 155.40,360.07 155.75,359.73 156.10,359.65 156.45,359.92 156.80,359.41 157.15,360.58 157.50,360.49 157.85,360.11 158.20,359.95 158.55,359.77 158.90,360.19 159.25,359.84 159.60,360.73 159.95,360.71 160.30,360.39 160.65,360.54 161.00,359.50 161.35,359.57 161.70,359.89 162.05,359.59 162.40,360.01 162.75,360.81 163.10,360.60 163.45,360.78 163.80,359.76 164.15,359.76 164.50,359.49 164.85,359.84 165.20,359.54 165.55,360.16 165.90,359.13 166.18,358.44 166.25,358.40 166.60,360.05 166.95,359.90 167.30,360.53 167.65,360.48 168.00,360.53 168.35,360.20 168.70,360.20 169.05,359.96 169.40,359.62 169.75,360.22 170.10,360.44 170.45,359.85 170.80,360.80 171.15,360.83 171.50,360.80 171.85,360.76 172.20,360.31 172.55,359.88 172.90,360.02 173.25,360.68 173.60,361.03 173.95,359.82 174.30,359.68 174.65,360.17 175.00,360.17 175.35,360.53 175.70,359.85 176.05,360.89 176.40,360.19 176.75,360.99 177.10,360.19 177.45,360.16 177.80,359.99 178.15,361.10 178.50,360.58 178.85,360.92 179.20,359.86 179.55,360.54 179.90,360.81 180.25,361.17 180.60,361.11 180.95,359.94" fill="none" stroke="#c86a5e" stroke-width="1.35" stroke-linejoin="round" />
<polyline points="12.60,379.84 12.95,379.86 13.30,379.80 13.65,380.02 14.00,380.27 14.35,380.14 14.70,380.29 15.05,380.17 15.40,379.96 15.75,379.92 16.10,379.49 16.45,379.71 16.80,379.59 17.15,379.81 17.50,379.38 17.85,379.68 18.20,379.53 18.55,379.58 18.90,379.48 19.25,379.23 19.60,379.64 19.95,379.65 20.30,379.47 20.65,379.10 21.00,379.40 21.35,379.56 21.70,379.60 22.05,379.41 22.40,378.87 22.75,379.42 23.10,379.23 23.45,378.92 23.80,379.34 24.15,379.23 24.50,379.24 24.85,378.76 25.20,378.96 25.55,378.79 25.90,378.68 26.25,378.93 26.60,378.68 26.95,377.83 27.30,367.73 27.54,357.12 27.65,360.10 28.00,376.79 28.35,378.46 28.70,378.91 29.05,378.29 29.40,378.61 29.75,378.67 30.10,378.79 30.45,378.95 30.80,378.69 31.15,378.57 31.50,378.66 31.85,378.58 32.20,378.68 32.55,378.83 32.90,378.16 33.25,378.35 33.60,378.72 33.95,378.13 34.30,378.62 34.65,378.07 35.00,378.48 35.35,378.57 35.70,378.15 36.05,378.24 36.40,378.11 36.75,378.42 37.10,378.28 37.45,378.31 37.80,378.10 38.15,378.26 38.50,378.49 38.85,378.35 39.20,378.45 39.55,377.94 39.90,378.11 40.25,378.00 40.60,377.95 40.95,378.25 41.30,377.79 41.65,378.04 42.00,378.17 42.35,378.26 42.70,377.60 43.05,377.75 43.40,377.89 43.75,378.18 44.10,377.62 44.45,378.07 44.80,377.74 45.15,377.82 45.50,378.07 45.85,377.44 46.20,377.61 46.55,377.47 46.90,377.43 47.25,377.53 47.60,377.79 47.95,377.68 48.30,377.34 48.65,377.81 49.00,377.60 49.35,377.34 49.70,377.81 50.05,377.80 50.40,377.37 50.75,377.87 51.10,377.78 51.45,377.37 51.80,377.20 52.15,377.80 52.50,377.77 52.85,377.26 53.20,377.72 53.55,377.72 53.90,377.62 54.25,377.75 54.60,377.85 54.95,377.39 55.30,377.74 55.65,377.79 56.00,377.36 56.35,377.62 56.70,377.61 57.05,377.72 57.40,377.52 57.75,377.31 58.10,377.29 58.45,377.49 58.80,377.20 59.15,377.70 59.50,377.72 59.85,377.26 60.20,377.57 60.55,377.55 60.90,377.16 61.25,377.61 61.60,377.60 61.95,377.27 62.30,377.12 62.65,377.25 63.00,377.58 63.35,377.36 63.70,377.60 64.05,377.14 64.40,377.09 64.75,377.26 65.10,377.62 65.45,377.10 65.80,377.02 66.15,377.46 66.50,376.58 66.85,373.89 66.94,373.05 67.20,375.32 67.55,377.30 67.90,377.54 68.25,377.23 68.60,377.26 68.95,376.97 69.30,377.18 69.65,377.11 70.00,377.49 70.35,377.43 70.70,377.47 71.05,377.28 71.40,377.38 71.75,376.95 72.10,377.00 72.45,374.90 72.71,372.10 72.80,372.89 73.15,376.41 73.50,377.02 73.85,377.03 74.20,377.44 74.55,377.27 74.90,377.13 75.25,376.99 75.60,376.67 75.95,370.15 76.08,368.17 76.30,372.35 76.65,377.05 77.00,376.91 77.35,376.96 77.70,376.87 78.05,377.16 78.40,377.35 78.75,376.92 79.10,377.11 79.45,377.50 79.80,377.14 80.15,377.06 80.50,377.38 80.85,377.41 81.20,377.05 81.55,376.86 81.90,377.22 82.25,377.29 82.60,377.41 82.95,377.22 83.30,376.96 83.65,377.10 84.00,376.93 84.35,377.04 84.70,377.05 85.05,377.35 85.40,377.34 85.75,377.33 86.10,377.00 86.45,377.30 86.80,376.64 87.15,377.02 87.50,375.94 87.85,361.84 88.09,346.05 88.20,350.88 88.55,373.49 88.90,376.84 89.25,377.08 89.60,376.87 89.95,377.24 90.30,376.84 90.65,377.23 91.00,377.05 91.35,377.02 91.70,376.87 92.05,377.30 92.40,377.26 92.75,376.81 93.10,377.44 93.45,376.91 93.80,377.02 94.15,377.05 94.50,377.16 94.85,377.39 95.20,377.43 95.55,377.21 95.90,377.02 96.25,376.84 96.60,376.82 96.95,377.13 97.30,377.18 97.65,377.09 98.00,377.46 98.35,377.06 98.70,377.02 99.05,377.07 99.40,376.90 99.75,377.44 100.10,377.19 100.45,377.16 100.80,377.08 101.15,376.96 101.50,377.00 101.85,377.13 102.20,377.10 102.55,377.47 102.90,377.18 103.25,376.93 103.60,376.83 103.95,376.90 104.30,377.03 104.65,377.34 105.00,377.41 105.35,376.96 105.70,377.34 106.05,377.10 106.40,377.17 106.75,377.17 107.10,376.82 107.45,376.84 107.80,377.26 108.15,377.28 108.50,377.06 108.85,377.44 109.20,377.37 109.55,377.01 109.90,376.85 110.25,377.19 110.60,377.26 110.95,376.96 111.30,376.83 111.65,377.14 112.00,376.83 112.35,377.32 112.70,377.24 113.05,377.00 113.40,377.11 113.75,376.96 114.10,376.92 114.45,376.91 114.80,377.31 115.15,376.29 115.48,374.31 115.50,374.07 115.85,376.72 116.20,377.17 116.55,377.24 116.90,377.07 117.25,377.20 117.60,376.94 117.95,377.49 118.30,377.28 118.65,377.19 119.00,377.26 119.35,376.89 119.70,377.05 120.05,376.98 120.40,377.41 120.75,376.83 121.10,377.13 121.45,377.43 121.80,377.37 122.15,377.33 122.50,377.03 122.85,376.99 123.20,377.32 123.55,377.03 123.90,377.33 124.25,377.07 124.60,377.35 124.95,377.21 125.30,377.38 125.65,377.48 126.00,377.02 126.35,377.32 126.70,374.49 127.02,369.95 127.05,369.47 127.40,375.77 127.75,376.96 128.10,377.31 128.45,377.02 128.80,376.96 129.15,377.37 129.50,377.21 129.85,377.36 130.20,377.18 130.55,376.86 130.90,377.38 131.25,376.99 131.60,377.17 131.95,376.84 132.30,377.02 132.65,377.31 133.00,377.38 133.35,377.29 133.70,377.16 134.05,377.36 134.40,377.31 134.75,376.99 135.10,377.22 135.45,377.26 135.80,377.35 136.15,376.97 136.50,377.04 136.85,377.03 137.20,376.73 137.55,374.71 137.83,371.37 137.90,371.64 138.25,376.11 138.60,377.26 138.95,376.89 139.30,377.36 139.65,376.95 140.00,376.92 140.35,377.03 140.70,377.22 141.05,377.05 141.40,377.48 141.75,377.51 142.10,377.05 142.45,377.38 142.80,377.33 143.15,377.22 143.50,376.92 143.85,375.92 144.08,374.54 144.20,374.41 144.55,376.82 144.90,377.05 145.25,376.99 145.60,377.16 145.95,377.50 146.30,376.89 146.65,377.46 147.00,377.09 147.35,376.89 147.70,377.51 148.05,377.07 148.40,377.03 148.75,376.96 149.10,377.14 149.45,376.97 149.80,377.01 150.15,377.06 150.50,377.29 150.85,377.20 151.20,377.10 151.55,377.26 151.90,377.43 152.25,377.40 152.60,377.13 152.95,377.53 153.30,377.44 153.65,377.28 154.00,377.22 154.35,377.12 154.70,376.98 155.05,377.51 155.40,377.31 155.75,376.94 156.10,377.40 156.45,376.28 156.57,375.42 156.80,376.59 157.15,377.00 157.50,377.26 157.85,377.48 158.20,377.14 158.55,377.25 158.90,377.37 159.25,377.04 159.60,377.34 159.95,377.20 160.30,377.59 160.65,377.04 161.00,377.40 161.35,376.94 161.70,377.10 162.05,376.99 162.40,377.01 162.75,377.28 163.10,377.03 163.45,377.47 163.80,376.98 164.15,377.35 164.50,377.51 164.85,377.00 165.20,377.05 165.55,377.41 165.90,376.66 166.18,376.07 166.25,375.74 166.60,376.98 166.95,377.56 167.30,377.15 167.65,377.59 168.00,377.54 168.35,377.06 168.70,377.30 169.05,377.58 169.40,377.01 169.75,377.52 170.10,377.47 170.45,377.45 170.80,377.35 171.15,377.00 171.50,377.60 171.85,377.00 172.20,377.48 172.55,377.44 172.90,377.16 173.25,377.41 173.60,377.22 173.95,377.46 174.30,376.97 174.65,377.59 175.00,377.21 175.35,377.50 175.70,377.27 176.05,377.51 176.40,377.15 176.75,377.32 177.10,376.96 177.45,377.29 177.80,377.00 178.15,377.55 178.50,377.42 178.85,377.24 179.20,377.63 179.55,377.61 179.90,377.62 180.25,377.01 180.60,377.44 180.95,377.46" fill="none" stroke="#d98474" stroke-width="1.35" stroke-linejoin="round" />
<polyline points="12.60,394.94 12.95,394.58 13.30,394.95 13.65,394.45 14.00,394.87 14.35,394.62 14.70,394.23 15.05,394.81 15.40,394.46 15.75,394.69 16.10,394.56 16.45,394.42 16.80,394.61 17.15,394.12 17.50,394.57 17.85,394.14 18.20,393.89 18.55,394.07 18.90,393.84 19.25,393.81 19.60,394.16 19.95,393.78 20.30,393.77 20.65,393.83 21.00,393.78 21.35,394.19 21.70,394.15 22.05,394.09 22.40,394.14 22.75,393.71 23.10,393.93 23.45,393.53 23.80,393.94 24.15,393.82 24.50,393.73 24.85,393.35 25.20,393.22 25.55,393.76 25.90,393.45 26.25,393.42 26.60,393.46 26.95,392.36 27.30,383.42 27.54,373.37 27.65,376.54 28.00,391.25 28.35,392.80 28.70,393.47 29.05,393.04 29.40,393.37 29.75,393.43 30.10,393.01 30.45,393.31 30.80,393.08 31.15,392.94 31.50,392.92 31.85,393.41 32.20,392.98 32.55,393.06 32.90,393.03 33.25,392.67 33.60,393.16 33.95,393.13 34.30,393.20 34.65,392.81 35.00,392.69 35.35,392.76 35.70,393.01 36.05,392.93 36.40,392.73 36.75,392.79 37.10,392.51 37.45,393.02 37.80,392.69 38.15,392.69 38.50,392.86 38.85,392.43 39.20,392.77 39.55,392.49 39.90,392.79 40.25,392.26 40.60,392.36 40.95,392.59 41.30,392.46 41.65,392.36 42.00,392.48 42.35,392.21 42.70,392.34 43.05,392.01 43.40,392.54 43.75,392.14 44.10,392.52 44.45,392.30 44.80,392.31 45.15,392.31 45.50,391.93 45.85,392.37 46.20,392.00 46.55,392.38 46.90,392.30 47.25,392.20 47.60,392.28 47.95,391.99 48.30,392.13 48.65,392.31 49.00,391.77 49.35,391.70 49.70,391.92 50.05,391.98 50.40,391.72 50.75,391.77 51.10,392.21 51.45,391.87 51.80,391.70 52.15,391.72 52.50,391.99 52.85,391.71 53.20,391.90 53.55,391.94 53.90,391.87 54.25,391.90 54.60,392.13 54.95,391.55 55.30,392.19 55.65,391.67 56.00,391.55 56.35,392.05 56.70,391.91 57.05,391.88 57.40,391.65 57.75,392.04 58.10,391.70 58.45,391.99 58.80,391.64 59.15,391.87 59.50,391.92 59.85,391.72 60.20,391.79 60.55,391.49 60.90,391.89 61.25,391.92 61.60,391.53 61.95,391.81 62.30,391.93 62.65,391.48 63.00,391.99 63.35,392.00 63.70,391.42 64.05,391.55 64.40,391.42 64.75,391.52 65.10,391.38 65.45,391.47 65.80,388.90 65.98,387.57 66.15,388.84 66.50,391.33 66.85,391.84 67.20,391.81 67.55,391.39 67.90,391.47 68.25,391.31 68.60,391.53 68.95,391.37 69.30,391.78 69.65,391.83 70.00,391.98 70.35,391.42 70.70,391.30 71.05,391.79 71.40,391.54 71.75,391.90 72.10,391.51 72.45,391.45 72.80,391.26 73.15,391.85 73.50,391.51 73.85,391.20 74.20,387.74 74.39,385.75 74.55,387.37 74.90,391.09 75.25,391.23 75.60,391.43 75.95,391.78 76.30,391.44 76.65,391.62 77.00,391.54 77.35,391.46 77.70,391.52 78.05,391.25 78.40,391.28 78.75,388.81 78.96,386.19 79.10,387.49 79.45,391.32 79.80,391.72 80.15,391.08 80.50,391.52 80.85,391.52 81.20,391.66 81.55,391.38 81.90,391.12 82.25,391.08 82.60,389.16 82.80,387.57 82.95,388.15 83.30,391.19 83.65,391.45 84.00,391.47 84.35,391.03 84.70,391.33 85.05,391.24 85.40,391.43 85.75,391.24 86.10,391.08 86.45,391.45 86.80,391.16 87.15,391.46 87.50,391.04 87.85,390.94 88.20,386.91 88.55,369.23 88.57,369.54 88.90,384.77 89.25,391.12 89.60,390.81 89.95,391.40 90.30,391.20 90.65,391.09 91.00,391.25 91.35,391.33 91.70,391.28 92.05,391.08 92.40,391.36 92.75,391.20 93.10,391.67 93.45,391.26 93.80,391.29 94.15,391.14 94.50,391.66 94.85,391.19 95.20,391.40 95.55,391.48 95.90,390.97 96.25,387.73 96.50,383.19 96.60,384.03 96.95,390.11 97.30,391.17 97.65,391.54 98.00,391.09 98.35,391.27 98.70,391.50 99.05,391.16 99.40,391.08 99.75,391.34 100.10,391.27 100.45,391.63 100.80,391.60 101.15,391.14 101.50,391.36 101.85,391.26 102.20,390.99 102.55,391.28 102.90,391.61 103.25,391.17 103.60,391.37 103.95,391.45 104.30,390.99 104.65,391.59 105.00,391.00 105.35,391.10 105.70,390.84 106.05,387.16 106.11,387.22 106.40,389.54 106.75,391.16 107.10,390.92 107.45,391.03 107.80,391.09 108.15,390.99 108.50,391.00 108.85,391.08 109.20,391.30 109.55,391.03 109.90,391.51 110.25,391.23 110.60,391.11 110.95,391.10 111.30,391.52 111.65,390.96 112.00,391.45 112.35,391.00 112.70,391.59 113.05,391.21 113.40,391.34 113.75,391.52 114.10,390.97 114.45,390.93 114.80,391.31 115.15,390.21 115.48,387.42 115.50,387.13 115.85,390.39 116.20,390.96 116.55,391.18 116.90,391.09 117.25,391.31 117.60,391.11 117.95,391.09 118.30,391.35 118.65,390.96 119.00,391.46 119.35,391.25 119.70,391.06 120.05,390.98 120.40,391.25 120.75,391.25 121.10,391.40 121.45,391.15 121.80,391.18 122.15,391.51 122.50,391.08 122.85,391.57 123.20,391.51 123.55,391.58 123.90,391.54 124.25,391.06 124.60,391.45 124.95,391.30 125.30,391.01 125.65,391.56 126.00,391.30 126.35,391.39 126.70,391.06 127.05,388.55 127.26,387.48 127.40,387.90 127.75,390.72 128.10,391.24 128.45,390.97 128.80,391.17 129.15,391.35 129.50,390.92 129.85,391.32 130.20,390.93 130.55,391.19 130.90,391.31 131.25,391.33 131.60,390.88 131.95,390.98 132.30,391.52 132.65,391.12 133.00,391.14 133.35,391.11 133.70,391.33 134.05,391.36 134.40,391.30 134.75,391.12 135.10,391.24 135.45,391.20 135.80,390.97 136.15,391.50 136.50,391.51 136.85,391.37 137.20,391.52 137.55,391.15 137.90,391.41 138.25,390.99 138.60,391.34 138.95,391.31 139.30,391.47 139.65,391.38 140.00,391.40 140.35,390.89 140.70,389.97 140.95,388.15 141.05,388.37 141.40,390.72 141.75,391.32 142.10,391.37 142.45,391.38 142.80,391.26 143.15,390.91 143.50,390.90 143.85,391.19 144.20,390.94 144.55,391.02 144.90,390.84 145.25,390.76 145.60,389.83 145.76,388.95 145.95,390.11 146.30,390.91 146.65,391.36 147.00,390.99 147.35,390.97 147.70,391.06 148.05,390.79 148.40,391.08 148.75,391.04 149.10,390.79 149.45,391.38 149.80,391.04 150.15,390.78 150.50,391.45 150.85,390.93 151.20,390.95 151.55,390.79 151.90,390.84 152.25,391.26 152.60,391.17 152.95,391.12 153.30,390.93 153.65,390.96 154.00,391.44 154.35,391.02 154.70,391.45 155.05,391.38 155.40,390.84 155.75,391.35 156.10,390.77 156.45,391.25 156.80,391.31 157.15,391.23 157.50,391.13 157.85,391.31 158.20,390.85 158.55,391.12 158.90,390.93 159.25,391.02 159.60,390.87 159.95,391.23 160.30,391.13 160.65,391.28 161.00,391.17 161.35,391.15 161.70,391.37 162.05,391.29 162.40,391.12 162.75,390.95 163.10,391.37 163.45,390.98 163.80,390.79 164.15,390.95 164.50,391.20 164.85,391.35 165.20,391.14 165.55,391.11 165.90,390.59 166.18,389.25 166.25,389.13 166.60,390.73 166.95,391.20 167.30,390.91 167.65,390.77 168.00,391.13 168.35,391.26 168.70,390.87 169.05,391.17 169.40,391.32 169.75,390.78 170.10,390.79 170.45,391.04 170.80,390.92 171.15,391.35 171.50,391.38 171.85,391.00 172.20,391.24 172.55,391.12 172.90,390.80 173.25,391.36 173.60,390.80 173.95,390.73 174.30,390.99 174.65,390.69 175.00,391.01 175.35,390.96 175.70,391.34 176.05,390.96 176.40,391.26 176.75,391.21 177.10,391.07 177.45,390.83 177.80,390.87 178.15,391.00 178.50,390.93 178.85,391.11 179.20,391.01 179.55,390.88 179.90,391.08 180.25,391.35 180.60,390.79 180.95,390.88" fill="none" stroke="#c0c0c0" stroke-width="1.35" stroke-linejoin="round" />
<polyline points="12.60,408.88 12.95,408.80 13.30,408.70 13.65,408.74 14.00,408.37 14.35,408.52 14.70,408.76 15.05,408.85 15.40,408.82 15.75,408.27 16.10,408.63 16.45,408.53 16.80,408.42 17.15,408.24 17.50,408.21 17.85,408.44 18.20,408.44 18.55,408.28 18.90,408.34 19.25,408.46 19.60,408.59 19.95,408.46 20.30,408.15 20.65,408.65 21.00,408.28 21.35,408.68 21.70,408.68 22.05,408.08 22.40,408.38 22.75,408.63 23.10,408.21 23.45,408.31 23.80,408.12 24.15,407.89 24.50,407.97 24.85,407.86 25.20,407.87 25.55,407.90 25.90,407.18 26.25,395.72 26.58,364.38 26.60,364.46 26.95,399.36 27.30,407.38 27.65,407.83 28.00,408.22 28.35,408.16 28.70,407.98 29.05,408.17 29.40,407.97 29.75,408.44 30.10,407.94 30.45,408.45 30.80,407.81 31.15,407.76 31.50,408.14 31.85,407.89 32.20,408.09 32.55,407.81 32.90,408.31 33.25,408.19 33.60,408.19 33.95,408.35 34.30,408.39 34.65,408.16 35.00,408.18 35.35,407.67 35.70,407.70 36.05,407.95 36.40,408.32 36.75,407.86 37.10,408.04 37.45,407.64 37.80,407.92 38.15,408.26 38.50,408.04 38.85,408.20 39.20,407.63 39.55,407.76 39.90,407.74 40.25,408.19 40.60,407.67 40.95,408.25 41.30,407.78 41.65,408.21 42.00,407.95 42.35,407.81 42.70,408.26 43.05,407.86 43.40,408.06 43.75,407.62 44.10,408.15 44.45,408.25 44.80,407.64 45.15,408.08 45.50,407.74 45.85,407.65 46.20,407.80 46.55,408.01 46.90,408.21 47.25,408.23 47.60,408.23 47.95,407.96 48.30,407.98 48.65,407.63 49.00,408.03 49.35,407.90 49.70,407.76 50.05,408.14 50.40,407.68 50.75,407.60 51.10,407.61 51.45,407.60 51.80,407.90 52.15,408.04 52.50,407.59 52.85,407.83 53.20,407.88 53.55,407.86 53.90,407.75 54.25,407.84 54.60,407.47 54.95,407.50 55.30,407.75 55.65,407.61 56.00,407.97 56.35,407.61 56.70,408.01 57.05,407.60 57.40,407.49 57.75,407.76 58.10,407.69 58.45,407.65 58.80,407.95 59.15,407.57 59.50,407.87 59.85,407.99 60.20,407.71 60.55,407.75 60.90,408.04 61.25,407.81 61.60,407.51 61.95,407.43 62.30,407.43 62.65,407.60 63.00,407.42 63.35,407.81 63.70,407.64 64.05,407.55 64.40,407.68 64.75,407.94 65.10,407.34 65.45,405.26 65.74,401.55 65.80,401.81 66.15,407.00 66.50,407.71 66.85,407.57 67.20,407.41 67.55,407.33 67.90,407.39 68.25,407.89 68.60,407.75 68.95,407.40 69.30,407.73 69.65,407.33 70.00,407.64 70.35,407.51 70.70,407.34 71.05,407.78 71.40,407.75 71.75,407.60 72.10,407.34 72.45,407.66 72.80,407.44 73.15,407.46 73.50,405.16 73.85,394.58 73.91,393.25 74.20,402.07 74.55,407.07 74.90,407.20 75.25,407.17 75.60,407.58 75.95,407.63 76.30,404.23 76.56,400.39 76.65,401.42 77.00,406.51 77.35,407.36 77.70,407.62 78.05,407.46 78.40,407.28 78.75,407.22 79.10,407.55 79.45,407.86 79.80,407.80 80.15,407.21 80.50,407.48 80.85,407.43 81.20,407.15 81.55,406.97 81.90,400.22 82.08,396.72 82.25,399.59 82.60,407.06 82.95,407.56 83.30,407.39 83.65,407.18 84.00,407.43 84.35,407.19 84.70,407.58 85.05,407.58 85.40,407.50 85.75,407.77 86.10,407.10 86.45,407.54 86.80,407.56 87.15,407.01 87.50,407.01 87.85,406.37 88.20,399.56 88.55,370.35 88.57,369.88 88.90,396.87 89.25,406.45 89.60,407.25 89.95,407.11 90.30,407.68 90.65,407.34 91.00,407.05 91.35,407.11 91.70,407.50 92.05,406.61 92.40,402.58 92.42,402.23 92.75,406.35 93.10,407.50 93.45,407.16 93.80,407.37 94.15,407.58 94.50,407.12 94.85,407.16 95.20,407.38 95.55,407.74 95.90,407.83 96.25,407.36 96.60,407.77 96.95,407.69 97.30,407.74 97.65,407.55 98.00,407.82 98.35,407.59 98.70,407.80 99.05,407.54 99.40,407.28 99.75,407.50 100.10,407.48 100.45,407.38 100.80,407.40 101.15,407.50 101.50,407.55 101.85,407.29 102.20,407.33 102.55,407.48 102.90,407.47 103.25,407.40 103.60,407.55 103.95,407.17 104.30,407.19 104.65,403.31 104.91,398.69 105.00,399.53 105.35,406.58 105.70,407.35 106.05,407.24 106.40,407.75 106.75,407.47 107.10,407.39 107.45,407.33 107.80,407.42 108.15,407.63 108.50,407.71 108.85,407.48 109.20,407.65 109.55,407.29 109.90,407.46 110.25,407.39 110.60,407.36 110.95,407.39 111.30,407.67 111.65,407.65 112.00,407.29 112.35,407.30 112.70,407.69 113.05,407.59 113.40,407.60 113.75,407.57 114.10,407.60 114.45,407.28 114.80,407.04 115.15,405.72 115.48,401.17 115.50,401.84 115.85,406.21 116.20,407.49 116.55,407.77 116.90,407.68 117.25,407.29 117.60,407.37 117.95,407.21 118.30,407.70 118.65,407.66 119.00,407.48 119.35,407.40 119.70,407.33 120.05,407.48 120.40,407.64 120.75,407.77 121.10,407.74 121.45,407.75 121.80,407.45 122.15,407.44 122.50,407.36 122.85,407.82 123.20,407.27 123.55,407.25 123.90,407.33 124.25,407.78 124.60,407.72 124.95,407.35 125.30,407.70 125.65,407.68 126.00,407.06 126.35,403.03 126.54,401.19 126.70,402.76 127.05,406.78 127.40,407.69 127.75,407.41 128.10,407.40 128.45,407.54 128.80,407.31 129.15,407.15 129.50,407.41 129.85,407.41 130.20,407.15 130.55,407.40 130.90,407.68 131.25,407.38 131.60,407.62 131.95,407.58 132.30,407.27 132.65,407.16 133.00,407.61 133.35,407.57 133.70,407.35 134.05,407.28 134.40,407.74 134.75,407.77 135.10,407.29 135.45,407.53 135.80,407.51 136.15,407.31 136.50,406.99 136.85,405.11 137.11,402.59 137.20,403.07 137.55,406.88 137.90,407.13 138.25,407.22 138.60,407.29 138.95,407.32 139.30,406.71 139.65,402.51 139.75,401.22 140.00,404.97 140.35,407.08 140.70,407.67 141.05,407.27 141.40,407.53 141.75,407.39 142.10,407.16 142.45,407.69 142.80,407.70 143.15,407.33 143.50,407.68 143.85,407.47 144.20,407.83 144.55,407.17 144.90,407.40 145.25,407.28 145.60,407.54 145.95,407.51 146.30,405.72 146.48,404.53 146.65,405.33 147.00,407.51 147.35,407.18 147.70,407.31 148.05,407.66 148.40,407.45 148.75,407.84 149.10,407.21 149.45,407.47 149.80,407.29 150.15,407.15 150.50,407.21 150.85,407.21 151.20,407.41 151.55,407.45 151.90,407.50 152.25,407.35 152.60,407.64 152.95,407.51 153.30,407.84 153.65,407.27 154.00,407.51 154.35,407.49 154.70,407.41 155.05,407.75 155.40,407.30 155.75,407.76 156.10,407.40 156.45,407.38 156.80,407.58 157.15,407.54 157.50,407.35 157.85,407.21 158.20,407.82 158.55,407.41 158.90,407.23 159.25,407.61 159.60,407.52 159.95,407.38 160.30,407.38 160.65,407.74 161.00,407.39 161.35,407.44 161.70,407.82 162.05,407.40 162.40,407.43 162.75,407.26 163.10,407.61 163.45,407.61 163.80,407.46 164.15,407.43 164.50,407.30 164.85,407.69 165.20,407.45 165.55,407.67 165.90,406.63 166.18,405.66 166.25,405.28 166.60,407.01 166.95,407.78 167.30,407.61 167.65,407.61 168.00,407.49 168.35,407.47 168.70,407.28 169.05,407.27 169.40,407.60 169.75,407.63 170.10,407.33 170.45,407.60 170.80,407.24 171.15,407.58 171.50,407.27 171.85,407.50 172.20,407.37 172.55,407.53 172.90,407.24 173.25,407.48 173.60,407.58 173.95,407.24 174.30,407.36 174.65,407.61 175.00,407.50 175.35,407.34 175.70,405.91 175.79,405.55 176.05,406.39 176.40,407.39 176.75,407.71 177.10,407.53 177.45,407.67 177.80,407.40 178.15,407.46 178.50,407.83 178.85,407.72 179.20,407.60 179.55,407.22 179.90,407.58 180.25,407.17 180.60,407.80 180.95,407.83" fill="none" stroke="#7d8ad0" stroke-width="1.35" stroke-linejoin="round" />
<polyline points="12.60,423.27 12.95,423.60 13.30,423.34 13.65,423.11 14.00,423.22 14.35,423.38 14.70,423.38 15.05,422.95 15.40,422.98 15.75,423.50 16.10,422.90 16.45,423.38 16.80,423.03 17.15,422.96 17.50,422.95 17.85,423.09 18.20,423.44 18.55,422.84 18.90,423.32 19.25,422.93 19.60,422.82 19.95,423.21 20.30,422.91 20.65,422.79 21.00,422.94 21.35,423.20 21.70,423.22 22.05,423.00 22.40,422.59 22.75,423.10 23.10,422.97 23.45,423.15 23.80,423.16 24.15,422.68 24.50,423.00 24.85,422.90 25.20,422.39 25.55,422.21 25.90,421.38 26.25,406.97 26.58,368.74 26.60,368.93 26.95,411.34 27.30,421.94 27.65,422.21 28.00,422.58 28.35,422.85 28.70,422.80 29.05,422.47 29.40,422.95 29.75,422.87 30.10,423.00 30.45,422.82 30.80,422.83 31.15,422.86 31.50,422.47 31.85,422.74 32.20,422.54 32.55,422.85 32.90,422.35 33.25,422.62 33.60,422.47 33.95,422.80 34.30,422.45 34.65,422.79 35.00,422.78 35.35,422.79 35.70,422.26 36.05,422.81 36.40,422.67 36.75,422.61 37.10,422.59 37.45,422.16 37.80,422.73 38.15,422.50 38.50,422.43 38.85,422.34 39.20,422.65 39.55,422.64 39.90,422.70 40.25,422.23 40.60,422.32 40.95,422.25 41.30,422.14 41.65,422.29 42.00,422.07 42.35,422.61 42.70,422.20 43.05,422.09 43.40,422.08 43.75,422.54 44.10,422.16 44.45,422.34 44.80,422.29 45.15,422.56 45.50,422.66 45.85,422.21 46.20,422.43 46.55,422.61 46.90,422.30 47.25,422.60 47.60,422.48 47.95,422.17 48.30,422.56 48.65,422.35 49.00,422.01 49.35,422.34 49.70,422.51 50.05,422.28 50.40,422.25 50.75,422.20 51.10,422.52 51.45,422.36 51.80,422.04 52.15,422.14 52.50,422.13 52.85,422.55 53.20,422.36 53.55,421.95 53.90,422.50 54.25,421.88 54.60,422.26 54.95,422.14 55.30,422.34 55.65,422.13 56.00,421.89 56.35,422.18 56.70,422.38 57.05,422.36 57.40,422.05 57.75,421.95 58.10,422.31 58.45,422.34 58.80,421.93 59.15,422.39 59.50,422.46 59.85,422.06 60.20,422.01 60.55,422.24 60.90,422.39 61.25,421.87 61.60,421.93 61.95,421.94 62.30,422.22 62.65,421.82 63.00,422.06 63.35,422.01 63.70,422.10 64.05,421.68 64.40,422.05 64.75,418.64 65.02,413.06 65.10,413.90 65.45,420.56 65.80,422.13 66.15,421.96 66.50,422.13 66.85,422.22 67.20,421.87 67.55,422.26 67.90,421.75 68.25,421.62 68.60,421.95 68.95,422.22 69.30,422.22 69.65,422.25 70.00,421.94 70.35,422.22 70.70,421.96 71.05,421.66 71.40,421.99 71.75,422.10 72.10,421.82 72.45,421.92 72.80,421.64 73.15,421.56 73.50,420.44 73.85,413.33 73.91,412.85 74.20,418.16 74.55,421.23 74.90,421.64 75.25,421.94 75.60,421.98 75.95,421.62 76.30,421.64 76.65,421.82 77.00,421.58 77.35,421.87 77.70,422.07 78.05,421.58 78.40,421.84 78.75,421.92 79.10,421.93 79.45,421.90 79.80,421.88 80.15,421.56 80.50,421.93 80.85,421.96 81.20,421.29 81.55,421.79 81.90,421.02 82.25,413.44 82.56,396.43 82.60,397.37 82.95,417.13 83.30,420.96 83.65,421.45 84.00,421.67 84.35,421.96 84.70,421.52 85.05,421.83 85.40,421.47 85.75,421.44 86.10,421.41 86.45,421.59 86.80,421.73 87.15,421.51 87.50,421.41 87.85,421.44 88.20,421.34 88.55,421.41 88.90,421.49 89.25,421.62 89.60,421.39 89.95,421.59 90.30,421.55 90.65,421.91 91.00,421.55 91.35,421.84 91.70,421.40 92.05,419.61 92.40,413.68 92.42,413.34 92.75,419.14 93.10,421.08 93.45,421.63 93.80,421.85 94.15,421.47 94.50,421.44 94.85,421.49 95.20,421.43 95.55,421.67 95.90,421.46 96.25,421.29 96.60,421.78 96.95,421.57 97.30,421.17 97.65,421.76 98.00,421.67 98.35,421.40 98.70,421.59 99.05,421.79 99.40,421.42 99.75,421.43 100.10,421.33 100.45,421.51 100.80,421.57 101.15,421.62 101.50,421.76 101.85,421.19 102.20,421.33 102.55,421.65 102.90,421.59 103.25,421.41 103.60,421.41 103.95,421.05 104.30,420.91 104.65,411.17 104.91,398.35 105.00,400.47 105.35,418.29 105.70,421.29 106.05,421.42 106.40,420.95 106.75,421.20 107.10,421.32 107.45,421.34 107.80,421.26 108.15,421.63 108.50,421.25 108.85,421.37 109.20,421.65 109.55,421.45 109.90,421.33 110.25,421.22 110.60,421.26 110.95,421.41 111.30,421.53 111.65,421.16 112.00,421.23 112.35,421.24 112.70,421.22 113.05,421.60 113.40,421.33 113.75,421.14 114.10,421.18 114.45,421.52 114.80,421.05 115.15,421.41 115.50,420.94 115.85,421.06 116.20,420.96 116.55,421.48 116.90,421.01 117.25,421.06 117.60,420.94 117.95,421.08 118.30,421.40 118.65,421.39 119.00,421.52 119.35,421.54 119.70,421.26 120.05,421.51 120.40,420.92 120.75,421.51 121.10,421.16 121.45,420.98 121.80,421.37 122.15,421.44 122.50,421.10 122.85,420.89 123.20,421.44 123.55,421.35 123.90,421.23 124.25,421.49 124.60,420.83 124.95,420.84 125.30,420.88 125.65,420.81 126.00,421.28 126.35,421.22 126.70,420.86 127.05,420.89 127.40,420.89 127.75,421.19 128.10,421.23 128.45,421.43 128.80,421.00 129.15,421.43 129.50,421.04 129.85,421.01 130.20,420.91 130.55,420.89 130.90,421.40 131.25,421.41 131.60,421.20 131.95,420.83 132.30,420.82 132.65,420.80 133.00,420.93 133.35,421.20 133.70,420.72 134.05,421.04 134.40,421.14 134.75,420.68 135.10,420.95 135.45,421.19 135.80,421.02 136.15,420.89 136.50,421.04 136.85,418.35 137.11,414.87 137.20,415.53 137.55,420.55 137.90,421.12 138.25,421.21 138.60,420.98 138.95,420.69 139.30,420.71 139.65,420.85 140.00,421.06 140.35,420.58 140.70,421.12 141.05,421.09 141.40,420.86 141.75,419.92 142.10,417.28 142.15,416.86 142.45,419.59 142.80,420.84 143.15,421.02 143.50,420.81 143.85,421.20 144.20,421.20 144.55,421.18 144.90,420.95 145.25,420.74 145.60,420.78 145.95,420.70 146.30,421.14 146.65,421.05 147.00,421.04 147.35,421.04 147.70,420.98 148.05,419.26 148.16,418.71 148.40,420.00 148.75,420.58 149.10,420.88 149.45,420.57 149.80,421.06 150.15,420.80 150.50,420.64 150.85,421.09 151.20,420.50 151.55,421.09 151.90,420.97 152.25,420.54 152.60,420.96 152.95,420.82 153.30,421.05 153.65,420.82 154.00,420.71 154.35,421.06 154.70,420.46 155.05,420.94 155.40,420.46 155.75,420.58 156.10,420.46 156.45,420.99 156.80,420.68 157.15,420.87 157.50,420.54 157.85,420.87 158.20,420.81 158.55,420.42 158.90,420.69 159.25,420.84 159.60,420.48 159.95,420.79 160.30,420.52 160.65,420.58 161.00,420.96 161.35,420.97 161.70,421.00 162.05,420.60 162.40,420.69 162.75,420.85 163.10,420.81 163.45,420.60 163.80,420.88 164.15,420.55 164.50,420.92 164.85,420.58 165.20,420.32 165.55,420.71 165.90,419.57 166.18,418.72 166.25,418.39 166.60,420.63 166.95,420.58 167.30,420.73 167.65,420.31 168.00,420.66 168.35,420.47 168.70,420.38 169.05,420.77 169.40,420.22 169.75,420.53 170.10,420.25 170.45,420.78 170.80,420.81 171.15,420.20 171.50,420.50 171.85,420.49 172.20,420.66 172.55,420.67 172.90,420.39 173.25,420.80 173.60,420.27 173.95,420.23 174.30,420.69 174.65,420.20 175.00,420.22 175.35,420.23 175.70,418.57 175.79,418.23 176.05,419.84 176.40,420.36 176.75,420.63 177.10,420.26 177.45,420.72 177.80,420.24 178.15,420.71 178.50,420.50 178.85,420.75 179.20,420.61 179.55,420.50 179.90,420.43 180.25,420.65 180.60,420.36 180.95,420.12" fill="none" stroke="#5c6cbc" stroke-width="1.35" stroke-linejoin="round" />
<polyline points="12.60,437.12 12.95,437.46 13.30,437.28 13.65,437.46 14.00,436.83 14.35,436.90 14.70,436.93 15.05,437.35 15.40,436.70 15.75,436.86 16.10,437.16 16.45,437.33 16.80,436.74 17.15,436.91 17.50,437.07 17.85,437.05 18.20,437.07 18.55,437.06 18.90,436.68 19.25,436.67 19.60,436.49 19.95,436.94 20.30,436.58 20.65,436.59 21.00,437.07 21.35,436.82 21.70,436.76 22.05,436.78 22.40,436.72 22.75,436.76 23.10,436.45 23.45,436.25 23.80,436.21 24.15,436.12 24.50,436.30 24.85,436.04 25.20,435.83 25.55,435.74 25.90,434.88 26.25,414.16 26.58,359.33 26.60,360.22 26.95,420.16 27.30,434.53 27.65,435.57 28.00,435.93 28.35,436.26 28.70,436.15 29.05,436.38 29.40,435.96 29.75,436.55 30.10,436.13 30.45,436.47 30.80,435.90 31.15,436.45 31.50,436.02 31.85,436.44 32.20,436.39 32.55,436.29 32.90,436.00 33.25,435.80 33.60,435.91 33.95,436.39 34.30,435.85 34.65,436.19 35.00,436.12 35.35,436.15 35.70,435.80 36.05,435.76 36.40,435.71 36.75,436.32 37.10,435.90 37.45,436.08 37.80,436.02 38.15,435.77 38.50,435.66 38.85,435.62 39.20,436.20 39.55,435.69 39.90,436.27 40.25,435.84 40.60,436.09 40.95,435.68 41.30,436.13 41.65,435.75 42.00,435.82 42.35,435.93 42.70,435.63 43.05,435.72 43.40,436.10 43.75,435.74 44.10,435.80 44.45,436.07 44.80,435.68 45.15,435.66 45.50,435.67 45.85,435.78 46.20,435.76 46.55,435.95 46.90,435.82 47.25,436.10 47.60,435.52 47.95,435.94 48.30,436.06 48.65,435.63 49.00,435.48 49.35,435.77 49.70,435.54 50.05,435.77 50.40,435.94 50.75,435.50 51.10,435.52 51.45,435.76 51.80,435.55 52.15,435.58 52.50,435.72 52.85,435.49 53.20,435.45 53.55,435.65 53.90,435.72 54.25,436.04 54.60,435.77 54.95,435.43 55.30,435.53 55.65,435.89 56.00,435.76 56.35,435.97 56.70,436.03 57.05,435.95 57.40,435.42 57.75,436.00 58.10,435.70 58.45,435.49 58.80,435.44 59.15,435.92 59.50,435.46 59.85,435.36 60.20,435.48 60.55,435.94 60.90,435.61 61.25,435.79 61.60,435.32 61.95,435.58 62.30,435.48 62.65,435.39 63.00,435.70 63.35,435.47 63.70,435.27 64.05,435.82 64.40,435.24 64.75,431.21 65.02,425.24 65.10,426.43 65.45,434.21 65.80,435.06 66.15,435.46 66.50,435.68 66.85,435.55 67.20,435.34 67.55,435.52 67.90,435.60 68.25,435.63 68.60,435.27 68.95,435.73 69.30,435.82 69.65,435.67 70.00,435.75 70.35,435.40 70.70,435.77 71.05,435.26 71.40,435.28 71.75,435.53 72.10,435.73 72.45,435.14 72.80,435.20 73.15,434.99 73.50,434.18 73.85,427.60 73.91,427.23 74.20,432.58 74.55,435.25 74.90,435.65 75.25,435.31 75.60,435.52 75.95,435.06 76.30,435.71 76.65,435.21 77.00,435.38 77.35,435.40 77.70,435.70 78.05,435.38 78.40,435.72 78.75,435.45 79.10,435.16 79.45,435.59 79.80,435.14 80.15,435.69 80.50,435.30 80.85,435.12 81.20,435.61 81.55,435.11 81.90,435.00 82.25,432.02 82.56,425.44 82.60,425.16 82.95,433.34 83.30,434.87 83.65,435.44 84.00,434.90 84.35,435.34 84.70,435.10 85.05,435.24 85.40,435.32 85.75,435.43 86.10,435.02 86.45,435.09 86.80,435.01 87.15,435.59 87.50,435.00 87.85,434.94 88.20,434.45 88.55,431.36 88.57,431.55 88.90,433.82 89.25,434.99 89.60,435.00 89.95,435.31 90.30,435.22 90.65,435.19 91.00,435.52 91.35,435.34 91.70,435.42 92.05,434.49 92.40,430.13 92.42,430.59 92.75,433.83 93.10,434.84 93.45,435.52 93.80,434.97 94.15,434.92 94.50,435.12 94.85,435.12 95.20,435.59 95.55,435.53 95.90,435.21 96.25,435.29 96.60,435.51 96.95,435.48 97.30,435.37 97.65,435.28 98.00,435.00 98.35,435.09 98.70,435.38 99.05,435.32 99.40,435.47 99.75,435.54 100.10,435.58 100.45,435.04 100.80,434.96 101.15,435.53 101.50,435.30 101.85,435.03 102.20,435.38 102.55,435.07 102.90,435.05 103.25,435.12 103.60,435.21 103.95,435.26 104.30,434.60 104.65,430.95 104.91,425.34 105.00,426.22 105.35,434.13 105.70,435.29 106.05,434.83 106.40,435.19 106.75,435.34 107.10,435.37 107.45,435.34 107.80,435.01 108.15,435.56 108.50,435.44 108.85,435.05 109.20,435.19 109.55,435.56 109.90,435.04 110.25,435.18 110.60,435.56 110.95,435.52 111.30,435.05 111.65,435.40 112.00,435.14 112.35,435.35 112.70,435.43 113.05,434.98 113.40,435.04 113.75,435.04 114.10,435.07 114.45,434.91 114.80,434.98 115.15,435.17 115.50,435.18 115.85,434.94 116.20,435.29 116.55,435.54 116.90,435.28 117.25,435.13 117.60,435.37 117.95,435.19 118.30,435.00 118.65,435.21 119.00,434.89 119.35,435.35 119.70,434.99 120.05,435.13 120.40,435.55 120.75,435.41 121.10,435.46 121.45,435.32 121.80,435.32 122.15,435.36 122.50,435.55 122.85,435.01 123.20,435.40 123.55,435.08 123.90,435.05 124.25,435.44 124.60,435.29 124.95,435.46 125.30,435.48 125.65,435.28 126.00,435.00 126.35,434.87 126.70,435.24 127.05,435.37 127.40,435.05 127.75,434.91 128.10,434.86 128.45,434.98 128.80,435.34 129.15,434.86 129.50,435.02 129.85,435.04 130.20,435.35 130.55,435.54 130.90,434.86 131.25,434.93 131.60,435.50 131.95,435.53 132.30,434.95 132.65,435.08 133.00,435.21 133.35,435.07 133.70,435.13 134.05,435.18 134.40,435.02 134.75,434.87 135.10,434.89 135.45,434.94 135.80,434.88 136.15,435.23 136.50,435.18 136.85,433.22 137.11,431.39 137.20,431.76 137.55,434.59 137.90,435.11 138.25,434.93 138.60,435.46 138.95,435.21 139.30,434.86 139.65,434.93 140.00,435.31 140.35,435.09 140.70,435.32 141.05,434.98 141.40,435.36 141.75,435.35 142.10,434.72 142.45,433.27 142.63,431.96 142.80,433.18 143.15,435.18 143.50,435.34 143.85,434.96 144.20,434.87 144.55,435.28 144.90,435.21 145.25,434.91 145.60,434.95 145.95,435.22 146.30,434.89 146.65,435.25 147.00,434.97 147.35,434.97 147.70,434.90 148.05,433.48 148.16,433.32 148.40,433.83 148.75,435.24 149.10,434.94 149.45,435.00 149.80,435.25 150.15,435.29 150.50,435.24 150.85,435.44 151.20,434.95 151.55,435.03 151.90,435.27 152.25,434.99 152.60,434.92 152.95,434.96 153.30,435.35 153.65,435.38 154.00,435.31 154.35,435.47 154.70,435.36 155.05,435.02 155.40,435.02 155.75,435.31 156.10,434.84 156.45,435.23 156.80,434.86 157.15,434.83 157.50,435.16 157.85,434.90 158.20,435.45 158.55,435.41 158.90,435.12 159.25,434.93 159.60,434.88 159.95,435.15 160.30,435.16 160.65,435.04 161.00,435.29 161.35,435.16 161.70,435.33 162.05,434.86 162.40,434.84 162.75,435.06 163.10,435.12 163.45,434.96 163.80,435.25 164.15,434.93 164.50,435.00 164.85,435.11 165.20,435.26 165.55,435.27 165.90,434.46 166.18,433.59 166.25,434.01 166.60,435.21 166.95,435.18 167.30,434.84 167.65,435.09 168.00,435.22 168.35,434.97 168.70,434.80 169.05,435.46 169.40,435.41 169.75,434.86 170.10,435.10 170.45,435.20 170.80,434.98 171.15,434.82 171.50,435.29 171.85,435.31 172.20,435.07 172.55,434.82 172.90,435.04 173.25,434.83 173.60,435.43 173.95,434.79 174.30,434.96 174.65,435.29 175.00,434.83 175.35,434.66 175.70,433.47 175.79,433.37 176.05,434.44 176.40,435.29 176.75,434.86 177.10,434.87 177.45,435.29 177.80,435.05 178.15,434.99 178.50,434.84 178.85,434.92 179.20,435.43 179.55,434.83 179.90,434.93 180.25,435.27 180.60,435.37 180.95,435.38" fill="none" stroke="#2c48a0" stroke-width="1.35" stroke-linejoin="round" />
<rect x="12.40" y="316.60" width="168.20" height="136.60" fill="none" stroke="#2a2020" stroke-width="1.25" />
<line x1="27.54" y1="437.00" x2="27.54" y2="443.40" stroke="#b040b0" stroke-width="0.9" />
<line x1="68.63" y1="437.00" x2="68.63" y2="443.40" stroke="#b040b0" stroke-width="0.9" />
<line x1="73.19" y1="437.00" x2="73.19" y2="443.40" stroke="#b040b0" stroke-width="0.9" />
<line x1="76.08" y1="437.00" x2="76.08" y2="443.40" stroke="#b040b0" stroke-width="0.9" />
<line x1="88.81" y1="437.00" x2="88.81" y2="443.40" stroke="#b040b0" stroke-width="0.9" />
<line x1="96.74" y1="437.00" x2="96.74" y2="443.40" stroke="#b040b0" stroke-width="0.9" />
<line x1="117.16" y1="437.00" x2="117.16" y2="443.40" stroke="#b040b0" stroke-width="0.9" />
<line x1="128.46" y1="437.00" x2="128.46" y2="443.40" stroke="#b040b0" stroke-width="0.9" />
<line x1="139.03" y1="437.00" x2="139.03" y2="443.40" stroke="#b040b0" stroke-width="0.9" />
<line x1="145.28" y1="437.00" x2="145.28" y2="443.40" stroke="#b040b0" stroke-width="0.9" />
<line x1="154.41" y1="437.00" x2="154.41" y2="443.40" stroke="#b040b0" stroke-width="0.9" />
<line x1="158.01" y1="437.00" x2="158.01" y2="443.40" stroke="#b040b0" stroke-width="0.9" />
<line x1="164.50" y1="437.00" x2="164.50" y2="443.40" stroke="#b040b0" stroke-width="0.9" />
<line x1="166.66" y1="437.00" x2="166.66" y2="443.40" stroke="#b040b0" stroke-width="0.9" />
<line x1="169.07" y1="437.00" x2="169.07" y2="443.40" stroke="#b040b0" stroke-width="0.9" />
<line x1="176.52" y1="437.00" x2="176.52" y2="443.40" stroke="#b040b0" stroke-width="0.9" />
<line x1="25.62" y1="445.70" x2="25.62" y2="451.70" stroke="#2838a8" stroke-width="0.9" />
<line x1="64.78" y1="445.70" x2="64.78" y2="451.70" stroke="#2838a8" stroke-width="0.9" />
<line x1="73.91" y1="445.70" x2="73.91" y2="451.70" stroke="#2838a8" stroke-width="0.9" />
<line x1="74.87" y1="445.70" x2="74.87" y2="451.70" stroke="#2838a8" stroke-width="0.9" />
<line x1="76.08" y1="445.70" x2="76.08" y2="451.70" stroke="#2838a8" stroke-width="0.9" />
<line x1="82.56" y1="445.70" x2="82.56" y2="451.70" stroke="#2838a8" stroke-width="0.9" />
<line x1="92.42" y1="445.70" x2="92.42" y2="451.70" stroke="#2838a8" stroke-width="0.9" />
<line x1="104.91" y1="445.70" x2="104.91" y2="451.70" stroke="#2838a8" stroke-width="0.9" />
<line x1="136.63" y1="445.70" x2="136.63" y2="451.70" stroke="#2838a8" stroke-width="0.9" />
<line x1="142.63" y1="445.70" x2="142.63" y2="451.70" stroke="#2838a8" stroke-width="0.9" />
<line x1="148.64" y1="445.70" x2="148.64" y2="451.70" stroke="#2838a8" stroke-width="0.9" />
<line x1="164.98" y1="445.70" x2="164.98" y2="451.70" stroke="#2838a8" stroke-width="0.9" />
<line x1="170.75" y1="445.70" x2="170.75" y2="451.70" stroke="#2838a8" stroke-width="0.9" />
<line x1="175.79" y1="445.70" x2="175.79" y2="451.70" stroke="#2838a8" stroke-width="0.9" />
<line x1="31.60" y1="320.40" x2="31.60" y2="326.60" stroke="#b040b0" stroke-width="1" />
<line x1="31.60" y1="330.30" x2="31.60" y2="336.40" stroke="#2838a8" stroke-width="1" />
<text x="37.60" y="327.00" font-size="7.6" text-anchor="start" fill="#111" stroke="#111" stroke-width="0.18" >O3</text>
<text x="37.60" y="336.40" font-size="7.6" text-anchor="start" fill="#111" stroke="#111" stroke-width="0.18" >P2</text>
<text x="153.90" y="342.30" font-size="7.0" text-anchor="start" fill="#111" stroke="#111" stroke-width="0.18" >N=6</text>
<text x="153.90" y="357.70" font-size="7.0" text-anchor="start" fill="#111" stroke="#111" stroke-width="0.18" >NO Ti</text>
<text x="153.90" y="373.70" font-size="7.0" text-anchor="start" fill="#111" stroke="#111" stroke-width="0.18" >NO Mn</text>
<text x="153.90" y="387.50" font-size="7.0" text-anchor="start" fill="#111" stroke="#111" stroke-width="0.18" >NO Fe</text>
<text x="153.90" y="402.60" font-size="7.0" text-anchor="start" fill="#111" stroke="#111" stroke-width="0.18" >NO Co</text>
<text x="153.90" y="416.80" font-size="7.0" text-anchor="start" fill="#111" stroke="#111" stroke-width="0.18" >NO Cu</text>
<text x="153.90" y="432.10" font-size="7.0" text-anchor="start" fill="#111" stroke="#111" stroke-width="0.18" >NO Ni</text>
<line x1="12.40" y1="453.20" x2="12.40" y2="451.40" stroke="#2a2020" stroke-width="1.0" />
<line x1="36.43" y1="453.20" x2="36.43" y2="450.20" stroke="#2a2020" stroke-width="1.0" />
<line x1="60.46" y1="453.20" x2="60.46" y2="451.40" stroke="#2a2020" stroke-width="1.0" />
<line x1="84.49" y1="453.20" x2="84.49" y2="450.20" stroke="#2a2020" stroke-width="1.0" />
<line x1="108.51" y1="453.20" x2="108.51" y2="451.40" stroke="#2a2020" stroke-width="1.0" />
<line x1="132.54" y1="453.20" x2="132.54" y2="450.20" stroke="#2a2020" stroke-width="1.0" />
<line x1="156.57" y1="453.20" x2="156.57" y2="451.40" stroke="#2a2020" stroke-width="1.0" />
<line x1="180.60" y1="453.20" x2="180.60" y2="450.20" stroke="#2a2020" stroke-width="1.0" />
<text x="36.43" y="462.40" font-size="7.9" text-anchor="middle" fill="#111" stroke="#111" stroke-width="0.18" >20</text>
<text x="84.49" y="462.40" font-size="7.9" text-anchor="middle" fill="#111" stroke="#111" stroke-width="0.18" >40</text>
<text x="132.54" y="462.40" font-size="7.9" text-anchor="middle" fill="#111" stroke="#111" stroke-width="0.18" >60</text>
<text x="180.60" y="462.40" font-size="7.9" text-anchor="middle" fill="#111" stroke="#111" stroke-width="0.18" >80</text>
<text x="94.50" y="472.80" font-size="9.7" text-anchor="middle" fill="#111" stroke="#111" stroke-width="0.18" >2θ (°)</text>
<text x="0" y="0" font-size="9.95" text-anchor="middle" fill="#111" transform="translate(7.8,388.6) rotate(-90)" stroke="#111" stroke-width="0.18">Intensity (arb. units)</text>
<text x="183.60" y="328.40" font-size="12.5" text-anchor="start" font-weight="bold" fill="#000" >f</text>
<rect x="213.90" y="403.20" width="19.30" height="49.00" fill="#dbb2a8" stroke="none" stroke-width="1" />
<rect x="213.90" y="416.80" width="19.30" height="35.40" fill="#6a8dd0" stroke="none" stroke-width="1" />
<text x="223.55" y="462.30" font-size="7.0" text-anchor="middle" fill="#111" stroke="#111" stroke-width="0.18" >NO Ni</text>
<rect x="238.30" y="403.20" width="19.30" height="49.00" fill="#dbb2a8" stroke="none" stroke-width="1" />
<rect x="238.30" y="403.20" width="19.30" height="49.00" fill="#6a8dd0" stroke="none" stroke-width="1" />
<text x="247.95" y="462.30" font-size="7.0" text-anchor="middle" fill="#111" stroke="#111" stroke-width="0.18" >NO Cu</text>
<rect x="261.90" y="396.00" width="19.30" height="56.20" fill="#dbb2a8" stroke="none" stroke-width="1" />
<rect x="261.90" y="435.30" width="19.30" height="16.90" fill="#6a8dd0" stroke="none" stroke-width="1" />
<text x="271.55" y="462.30" font-size="7.0" text-anchor="middle" fill="#111" stroke="#111" stroke-width="0.18" >NO Co</text>
<rect x="285.70" y="396.00" width="19.30" height="56.20" fill="#dbb2a8" stroke="none" stroke-width="1" />
<rect x="285.70" y="429.20" width="19.30" height="23.00" fill="#6a8dd0" stroke="none" stroke-width="1" />
<text x="295.35" y="462.30" font-size="7.0" text-anchor="middle" fill="#111" stroke="#111" stroke-width="0.18" >NO Fe</text>
<rect x="309.60" y="399.90" width="19.30" height="52.30" fill="#dbb2a8" stroke="none" stroke-width="1" />
<rect x="309.60" y="445.20" width="19.30" height="7.00" fill="#b4cbea" stroke="none" stroke-width="1" />
<text x="319.25" y="462.30" font-size="7.0" text-anchor="middle" fill="#111" stroke="#111" stroke-width="0.18" >NO Mn</text>
<rect x="333.20" y="400.50" width="19.30" height="51.70" fill="#dbb2a8" stroke="none" stroke-width="1" />
<rect x="333.20" y="435.80" width="19.30" height="16.40" fill="#6a8dd0" stroke="none" stroke-width="1" />
<text x="342.85" y="462.30" font-size="7.0" text-anchor="middle" fill="#111" stroke="#111" stroke-width="0.18" >NO Ti</text>
<rect x="357.10" y="328.70" width="19.30" height="123.50" fill="#dbb2a8" stroke="none" stroke-width="1" />
<text x="366.75" y="462.30" font-size="7.0" text-anchor="middle" fill="#111" stroke="#111" stroke-width="0.18" >N=6</text>
<text x="234.00" y="397.30" font-size="8" text-anchor="middle" fill="#111" stroke="#111" stroke-width="0.18" >1.60R</text>
<text x="283.00" y="389.80" font-size="8" text-anchor="middle" fill="#111" stroke="#111" stroke-width="0.18" >1.61R</text>
<text x="331.80" y="393.90" font-size="8" text-anchor="middle" fill="#111" stroke="#111" stroke-width="0.18" >1.60R</text>
<text x="366.40" y="326.90" font-size="8" text-anchor="middle" fill="#111" stroke="#111" stroke-width="0.18" >1.74R</text>
<rect x="211.80" y="317.70" width="167.20" height="134.50" fill="none" stroke="#2a2020" stroke-width="1.25" />
<line x1="211.80" y1="325.90" x2="214.40" y2="325.90" stroke="#222" stroke-width="0.8" />
<text x="209.80" y="328.50" font-size="7.6" text-anchor="end" fill="#222" stroke="#222" stroke-width="0.18" >1.75</text>
<line x1="211.80" y1="351.30" x2="214.40" y2="351.30" stroke="#222" stroke-width="0.8" />
<text x="209.80" y="353.90" font-size="7.6" text-anchor="end" fill="#222" stroke="#222" stroke-width="0.18" >1.70</text>
<line x1="211.80" y1="376.80" x2="214.40" y2="376.80" stroke="#222" stroke-width="0.8" />
<text x="209.80" y="379.40" font-size="7.6" text-anchor="end" fill="#222" stroke="#222" stroke-width="0.18" >1.65</text>
<line x1="211.80" y1="401.60" x2="214.40" y2="401.60" stroke="#222" stroke-width="0.8" />
<text x="209.80" y="404.20" font-size="7.6" text-anchor="end" fill="#222" stroke="#222" stroke-width="0.18" >1.60</text>
<line x1="211.80" y1="431.40" x2="214.40" y2="431.40" stroke="#222" stroke-width="0.8" />
<text x="209.80" y="434.00" font-size="7.6" text-anchor="end" fill="#222" stroke="#222" stroke-width="0.18" >1.55</text>
<line x1="211.80" y1="338.60" x2="213.30" y2="338.60" stroke="#222" stroke-width="0.8" />
<line x1="211.80" y1="364.00" x2="213.30" y2="364.00" stroke="#222" stroke-width="0.8" />
<line x1="211.80" y1="389.20" x2="213.30" y2="389.20" stroke="#222" stroke-width="0.8" />
<line x1="211.80" y1="415.70" x2="213.30" y2="415.70" stroke="#222" stroke-width="0.8" />
<line x1="211.80" y1="445.00" x2="213.30" y2="445.00" stroke="#222" stroke-width="0.8" />
<rect x="218.20" y="322.20" width="14.90" height="6.60" fill="#d49a8c" stroke="none" stroke-width="1" />
<rect x="218.20" y="333.00" width="14.90" height="6.60" fill="#b4cbea" stroke="none" stroke-width="1" />
<rect x="218.20" y="343.30" width="14.90" height="6.60" fill="#6283c8" stroke="none" stroke-width="1" />
<text x="237.80" y="328.60" font-size="7.9" text-anchor="start" fill="#111" stroke="#111" stroke-width="0.18" >O3</text>
<text x="237.8" y="339.4" font-size="7.9" fill="#222" stroke="#222" stroke-width="0.18">O3<tspan font-size="4.6" dy="1.5">1</tspan></text>
<text x="237.80" y="349.70" font-size="7.9" text-anchor="start" fill="#111" stroke="#111" stroke-width="0.18" >P2</text>
<text x="296.70" y="472.80" font-size="9.8" text-anchor="middle" fill="#111" stroke="#111" stroke-width="0.18" >Systems</text>
<text x="0" y="0" font-size="9.6" fill="#222" text-anchor="middle" transform="translate(190.6,381.7) rotate(-90)" stroke="#222" stroke-width="0.18">|S<tspan font-size="5.4" dy="2.6">config</tspan><tspan dy="-2.6">|</tspan></text>
<text x="394.40" y="327.80" font-size="12.5" text-anchor="start" font-weight="bold" fill="#000" >g</text>
<rect x="411.80" y="317.50" width="273.20" height="132.40" fill="url(#gGbg)" stroke="none" stroke-width="1" />
<rect x="405.80" y="336.00" width="6.00" height="119.40" fill="url(#gGy)" stroke="none" stroke-width="1" />
<polygon points="403.40,337.00 408.80,316.80 414.20,337.00" fill="#d5545c" stroke="none" stroke-width="0.5" />
<rect x="405.80" y="449.90" width="260.50" height="5.60" fill="url(#gGx)" stroke="none" stroke-width="1" />
<polygon points="665.80,447.20 685.50,452.70 665.80,458.20" fill="#d84048" stroke="none" stroke-width="0.5" />
<line x1="408.60" y1="449.90" x2="408.60" y2="447.60" stroke="#333" stroke-width="0.8" />
<line x1="453.10" y1="449.90" x2="453.10" y2="447.60" stroke="#333" stroke-width="0.8" />
<line x1="497.60" y1="449.90" x2="497.60" y2="447.60" stroke="#333" stroke-width="0.8" />
<line x1="542.10" y1="449.90" x2="542.10" y2="447.60" stroke="#333" stroke-width="0.8" />
<line x1="586.60" y1="449.90" x2="586.60" y2="447.60" stroke="#333" stroke-width="0.8" />
<line x1="631.10" y1="449.90" x2="631.10" y2="447.60" stroke="#333" stroke-width="0.8" />
<line x1="675.60" y1="449.90" x2="675.60" y2="447.60" stroke="#333" stroke-width="0.8" />
<text x="407.60" y="464.40" font-size="7.8" text-anchor="middle" fill="#222" stroke="#222" stroke-width="0.18" >0.4</text>
<text x="496.60" y="464.40" font-size="7.8" text-anchor="middle" fill="#222" stroke="#222" stroke-width="0.18" >0.6</text>
<text x="585.60" y="464.40" font-size="7.8" text-anchor="middle" fill="#222" stroke="#222" stroke-width="0.18" >0.8</text>
<text x="674.60" y="464.40" font-size="7.8" text-anchor="middle" fill="#222" stroke="#222" stroke-width="0.18" >1.0</text>
<line x1="409.00" y1="352.80" x2="411.80" y2="352.80" stroke="#333" stroke-width="0.8" />
<text x="404.90" y="355.70" font-size="8.2" text-anchor="end" fill="#222" stroke="#222" stroke-width="0.18" >1.85</text>
<line x1="409.00" y1="377.70" x2="411.80" y2="377.70" stroke="#333" stroke-width="0.8" />
<text x="404.90" y="380.60" font-size="8.2" text-anchor="end" fill="#222" stroke="#222" stroke-width="0.18" >1.80</text>
<line x1="409.00" y1="402.50" x2="411.80" y2="402.50" stroke="#333" stroke-width="0.8" />
<text x="404.90" y="405.40" font-size="8.2" text-anchor="end" fill="#222" stroke="#222" stroke-width="0.18" >1.75</text>
<line x1="409.00" y1="427.20" x2="411.80" y2="427.20" stroke="#333" stroke-width="0.8" />
<text x="404.90" y="430.10" font-size="8.2" text-anchor="end" fill="#222" stroke="#222" stroke-width="0.18" >1.70</text>
<line x1="409.80" y1="340.40" x2="411.80" y2="340.40" stroke="#333" stroke-width="0.8" />
<line x1="409.80" y1="365.20" x2="411.80" y2="365.20" stroke="#333" stroke-width="0.8" />
<line x1="409.80" y1="390.10" x2="411.80" y2="390.10" stroke="#333" stroke-width="0.8" />
<line x1="409.80" y1="414.90" x2="411.80" y2="414.90" stroke="#333" stroke-width="0.8" />
<line x1="409.80" y1="439.70" x2="411.80" y2="439.70" stroke="#333" stroke-width="0.8" />
<circle cx="418.70" cy="423.50" r="2.80" fill="#2f64b8" stroke="none" stroke-width="0.5" />
<circle cx="443.50" cy="419.50" r="2.80" fill="#2f64b8" stroke="none" stroke-width="0.5" />
<circle cx="443.50" cy="424.10" r="2.80" fill="#2f64b8" stroke="none" stroke-width="0.5" />
<circle cx="450.00" cy="424.10" r="2.80" fill="#2f64b8" stroke="none" stroke-width="0.5" />
<circle cx="453.70" cy="424.10" r="2.80" fill="#2f64b8" stroke="none" stroke-width="0.5" />
<circle cx="460.70" cy="398.70" r="2.80" fill="#2f64b8" stroke="none" stroke-width="0.5" />
<circle cx="482.30" cy="390.90" r="2.80" fill="#2f64b8" stroke="none" stroke-width="0.5" />
<circle cx="488.00" cy="425.40" r="2.80" fill="#2f64b8" stroke="none" stroke-width="0.5" />
<circle cx="532.20" cy="377.10" r="2.80" fill="#2f64b8" stroke="none" stroke-width="0.5" />
<circle cx="491.80" cy="404.30" r="2.80" fill="#b22030" stroke="none" stroke-width="0.5" />
<circle cx="507.60" cy="379.00" r="2.80" fill="#b22030" stroke="none" stroke-width="0.5" />
<circle cx="512.60" cy="372.50" r="2.80" fill="#b22030" stroke="none" stroke-width="0.5" />
<circle cx="512.90" cy="388.20" r="2.80" fill="#b22030" stroke="none" stroke-width="0.5" />
<circle cx="515.60" cy="388.90" r="2.80" fill="#b22030" stroke="none" stroke-width="0.5" />
<circle cx="531.00" cy="360.30" r="2.80" fill="#b22030" stroke="none" stroke-width="0.5" />
<circle cx="544.40" cy="393.90" r="2.80" fill="#b22030" stroke="none" stroke-width="0.5" />
<circle cx="558.90" cy="366.30" r="2.80" fill="#b22030" stroke="none" stroke-width="0.5" />
<circle cx="559.30" cy="402.60" r="2.80" fill="#b22030" stroke="none" stroke-width="0.5" />
<circle cx="559.30" cy="409.50" r="2.80" fill="#b22030" stroke="none" stroke-width="0.5" />
<circle cx="526.40" cy="419.70" r="2.80" fill="#b22030" stroke="none" stroke-width="0.5" />
<circle cx="517.20" cy="430.00" r="2.80" fill="#b22030" stroke="none" stroke-width="0.5" />
<circle cx="579.30" cy="358.00" r="2.80" fill="#b22030" stroke="none" stroke-width="0.5" />
<circle cx="577.20" cy="397.60" r="2.80" fill="#b22030" stroke="none" stroke-width="0.5" />
<circle cx="580.90" cy="358.70" r="2.80" fill="#b22030" stroke="none" stroke-width="0.5" />
<circle cx="602.10" cy="354.70" r="2.80" fill="#b22030" stroke="none" stroke-width="0.5" />
<circle cx="615.30" cy="367.30" r="2.80" fill="#b22030" stroke="none" stroke-width="0.5" />
<circle cx="610.60" cy="379.50" r="2.80" fill="#b22030" stroke="none" stroke-width="0.5" />
<circle cx="577.30" cy="398.00" r="2.80" fill="#b22030" stroke="none" stroke-width="0.5" />
<circle cx="584.20" cy="395.30" r="2.80" fill="#b22030" stroke="none" stroke-width="0.5" />
<circle cx="583.90" cy="401.00" r="2.80" fill="#b22030" stroke="none" stroke-width="0.5" />
<circle cx="678.10" cy="360.30" r="2.80" fill="#b22030" stroke="none" stroke-width="0.5" />
<circle cx="520.90" cy="424.90" r="2.30" fill="#fff" stroke="#b22030" stroke-width="1.1" />
<circle cx="535.20" cy="404.00" r="2.30" fill="#fff" stroke="#b22030" stroke-width="1.1" />
<circle cx="535.20" cy="406.60" r="2.30" fill="#fff" stroke="#b22030" stroke-width="1.1" />
<circle cx="537.50" cy="416.70" r="2.30" fill="#fff" stroke="#b22030" stroke-width="1.1" />
<circle cx="624.50" cy="419.10" r="2.80" fill="#2f64b8" stroke="none" stroke-width="0.5" />
<text x="632.60" y="421.80" font-size="7.8" text-anchor="start" fill="#111" stroke="#111" stroke-width="0.18" >P2</text>
<circle cx="624.50" cy="428.40" r="2.80" fill="#b22030" stroke="none" stroke-width="0.5" />
<text x="632.60" y="431.10" font-size="7.8" text-anchor="start" fill="#111" stroke="#111" stroke-width="0.18" >O3</text>
<circle cx="624.50" cy="438.00" r="2.30" fill="#fff" stroke="#b22030" stroke-width="1.1" />
<text x="632.60" y="440.70" font-size="7.8" text-anchor="start" fill="#111" stroke="#111" stroke-width="0.18" >P2+O3</text>
<text x="534.3" y="474.7" font-size="11" font-style="italic" fill="#222" stroke="#222" stroke-width="0.18">W<tspan font-size="6.5" dy="2.4" font-style="normal">X</tspan></text>
<text x="0" y="0" font-size="10.5" fill="#222" transform="translate(388.6,398.6) rotate(-90)" stroke="#222" stroke-width="0.18">Δ<tspan font-style="italic">χ</tspan><tspan font-size="6" dy="1.8">TM</tspan></text>
</svg>
</body></html>
